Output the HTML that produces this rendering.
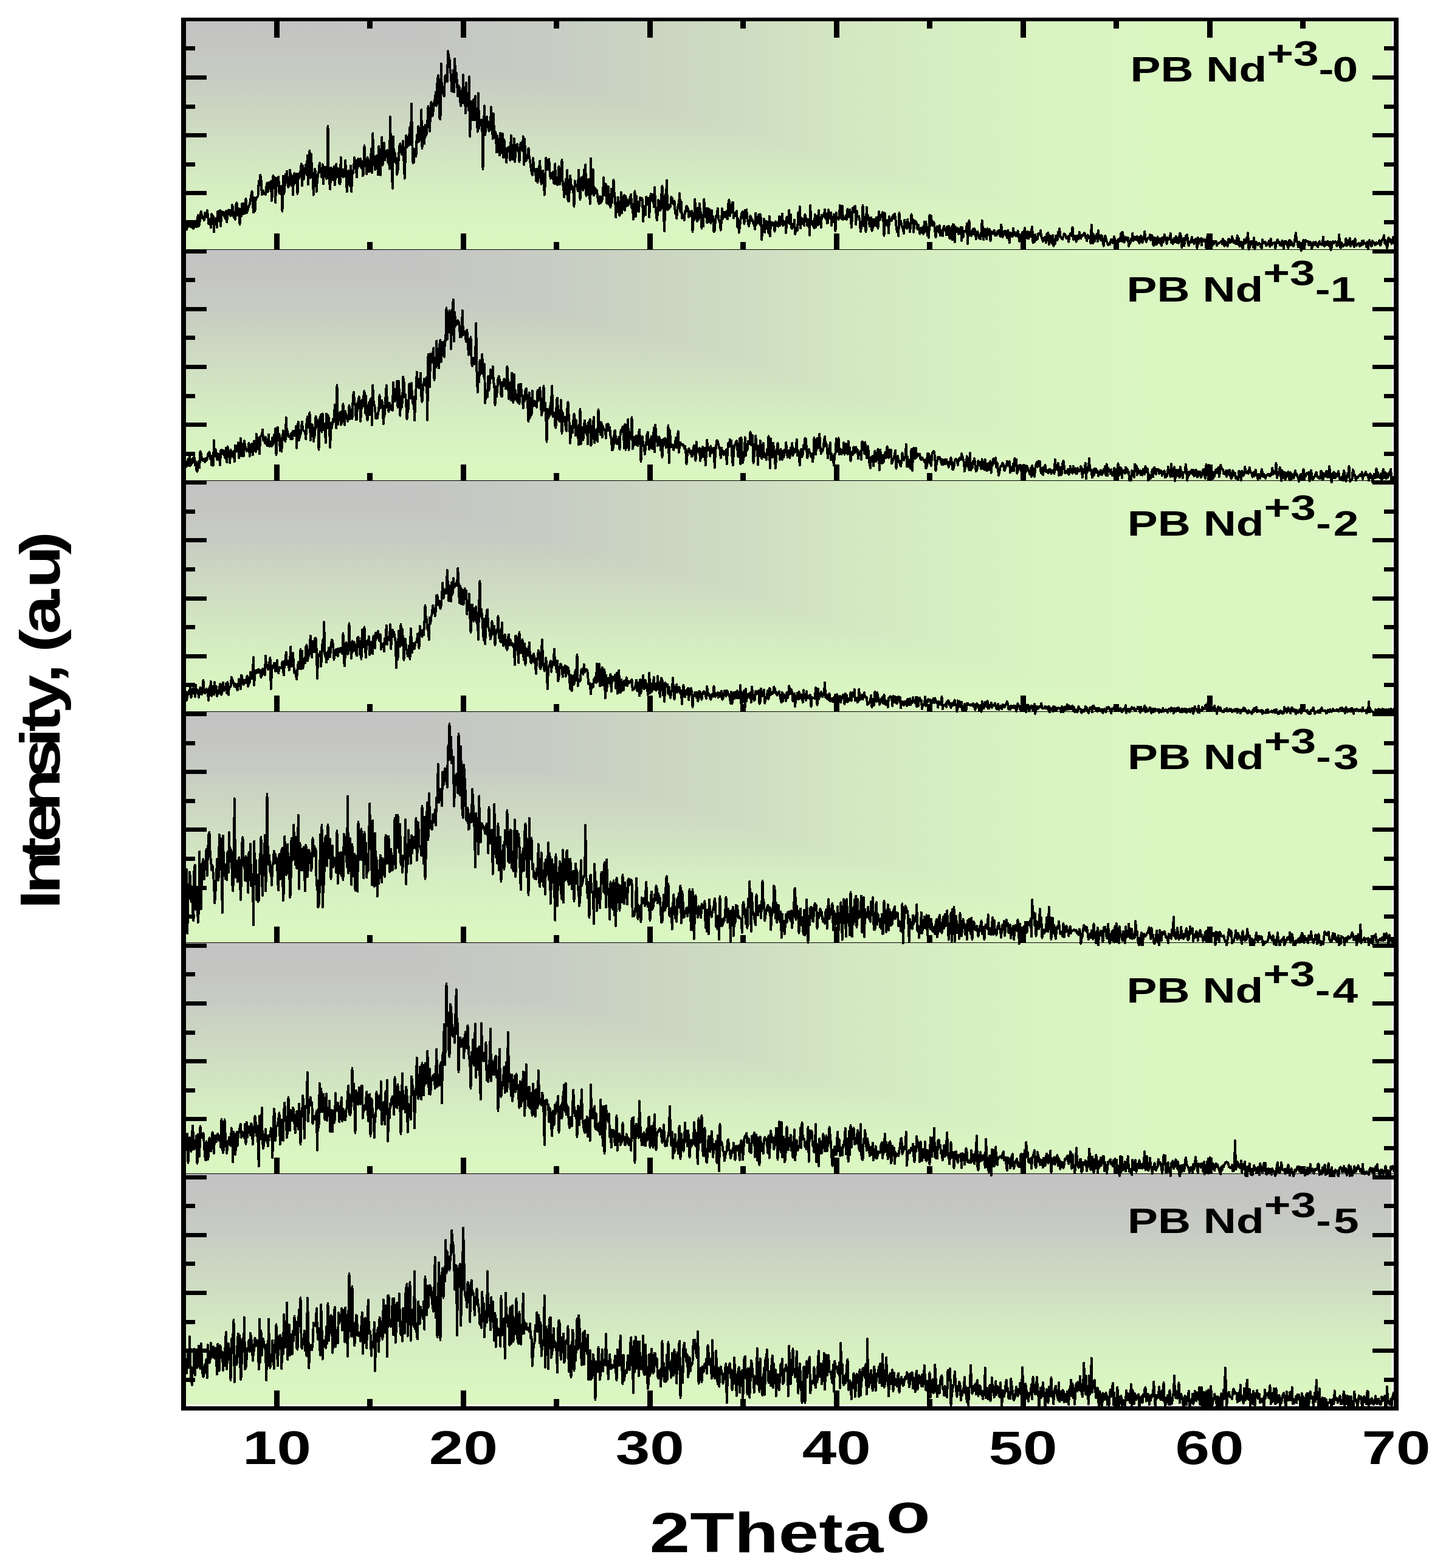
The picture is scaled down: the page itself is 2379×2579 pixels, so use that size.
<!DOCTYPE html>
<html><head><meta charset="utf-8"><title>XRD patterns</title>
<style>html,body{margin:0;padding:0;background:#fff}svg{display:block}text{font-family:"Liberation Sans",sans-serif;font-weight:bold;fill:#000}</style></head><body>
<svg width="2379" height="2579" viewBox="0 0 2379 2579">
<defs>
<linearGradient id="gv" x1="0" y1="0" x2="0" y2="1"><stop offset="0.0200" stop-color="#c3c3c3"/><stop offset="0.0781" stop-color="#c4c4c3"/><stop offset="0.1362" stop-color="#c5c6c3"/><stop offset="0.1944" stop-color="#c6c9c3"/><stop offset="0.2525" stop-color="#c7ccc3"/><stop offset="0.3106" stop-color="#c9d0c2"/><stop offset="0.3688" stop-color="#cbd4c2"/><stop offset="0.4269" stop-color="#cdd8c2"/><stop offset="0.4850" stop-color="#cedcc2"/><stop offset="0.5431" stop-color="#d0e1c2"/><stop offset="0.6012" stop-color="#d2e5c2"/><stop offset="0.6594" stop-color="#d4e9c2"/><stop offset="0.7175" stop-color="#d6edc1"/><stop offset="0.7756" stop-color="#d7f0c1"/><stop offset="0.8337" stop-color="#d8f3c1"/><stop offset="0.8919" stop-color="#d9f5c1"/><stop offset="0.9500" stop-color="#daf6c1"/></linearGradient>
<linearGradient id="gh" gradientUnits="userSpaceOnUse" x1="520" y1="0" x2="1900" y2="0"><stop offset="0.0000" stop-color="#c3c3c3"/><stop offset="0.0625" stop-color="#c3c4c3"/><stop offset="0.1250" stop-color="#c4c5c3"/><stop offset="0.1875" stop-color="#c5c8c3"/><stop offset="0.2500" stop-color="#c7cbc3"/><stop offset="0.3125" stop-color="#c8cfc3"/><stop offset="0.3750" stop-color="#cad3c2"/><stop offset="0.4375" stop-color="#ccd8c2"/><stop offset="0.5000" stop-color="#cedcc2"/><stop offset="0.5625" stop-color="#d1e1c2"/><stop offset="0.6250" stop-color="#d3e6c2"/><stop offset="0.6875" stop-color="#d5eac1"/><stop offset="0.7500" stop-color="#d6eec1"/><stop offset="0.8125" stop-color="#d8f1c1"/><stop offset="0.8750" stop-color="#d9f4c1"/><stop offset="0.9375" stop-color="#daf5c1"/><stop offset="1.0000" stop-color="#daf6c1"/></linearGradient>
</defs>
<rect width="2379" height="2579" fill="#fff"/>
<rect x="298" y="30" width="1991.5" height="380" fill="url(#gv)"/>
<path d="M298 30H2289.5V410H1900L1900 391.0L1866 388.9L1831 383.5L1796 376.3L1762 368.0L1728 359.2L1693 350.1L1658 340.7L1624 331.2L1590 321.7L1555 312.0L1520 302.4L1486 292.6L1452 282.9L1417 273.1L1382 263.3L1348 253.5L1314 243.7L1279 233.9L1244 224.1L1210 214.3L1176 204.5L1141 194.7L1106 184.9L1072 175.1L1038 165.3L1003 155.5L968 145.7L934 136.0L900 126.2L865 116.6L830 106.9L796 97.4L762 87.9L727 78.5L692 69.4L658 60.6L624 52.3L589 45.1L554 39.7L520 37.6H298Z" fill="url(#gh)"/>
<rect x="298" y="410" width="1991.5" height="380" fill="url(#gv)"/>
<path d="M298 410H2289.5V790H1900L1900 771.0L1866 768.9L1831 763.5L1796 756.3L1762 748.0L1728 739.2L1693 730.1L1658 720.7L1624 711.2L1590 701.7L1555 692.0L1520 682.4L1486 672.6L1452 662.9L1417 653.1L1382 643.3L1348 633.5L1314 623.7L1279 613.9L1244 604.1L1210 594.3L1176 584.5L1141 574.7L1106 564.9L1072 555.1L1038 545.3L1003 535.5L968 525.7L934 516.0L900 506.2L865 496.6L830 486.9L796 477.4L762 467.9L727 458.5L692 449.4L658 440.6L624 432.3L589 425.1L554 419.7L520 417.6H298Z" fill="url(#gh)"/>
<rect x="298" y="790" width="1991.5" height="380" fill="url(#gv)"/>
<path d="M298 790H2289.5V1170H1900L1900 1151.0L1866 1148.9L1831 1143.5L1796 1136.3L1762 1128.0L1728 1119.2L1693 1110.1L1658 1100.7L1624 1091.2L1590 1081.7L1555 1072.0L1520 1062.4L1486 1052.6L1452 1042.9L1417 1033.1L1382 1023.3L1348 1013.5L1314 1003.7L1279 993.9L1244 984.1L1210 974.3L1176 964.5L1141 954.7L1106 944.9L1072 935.1L1038 925.3L1003 915.5L968 905.7L934 896.0L900 886.2L865 876.6L830 866.9L796 857.4L762 847.9L727 838.5L692 829.4L658 820.6L624 812.3L589 805.1L554 799.7L520 797.6H298Z" fill="url(#gh)"/>
<rect x="298" y="1170" width="1991.5" height="380" fill="url(#gv)"/>
<path d="M298 1170H2289.5V1550H1900L1900 1531.0L1866 1528.9L1831 1523.5L1796 1516.3L1762 1508.0L1728 1499.2L1693 1490.1L1658 1480.7L1624 1471.2L1590 1461.7L1555 1452.0L1520 1442.4L1486 1432.6L1452 1422.9L1417 1413.1L1382 1403.3L1348 1393.5L1314 1383.7L1279 1373.9L1244 1364.1L1210 1354.3L1176 1344.5L1141 1334.7L1106 1324.9L1072 1315.1L1038 1305.3L1003 1295.5L968 1285.7L934 1276.0L900 1266.2L865 1256.6L830 1246.9L796 1237.4L762 1227.9L727 1218.5L692 1209.4L658 1200.6L624 1192.3L589 1185.1L554 1179.7L520 1177.6H298Z" fill="url(#gh)"/>
<rect x="298" y="1550" width="1991.5" height="380" fill="url(#gv)"/>
<path d="M298 1550H2289.5V1930H1900L1900 1911.0L1866 1908.9L1831 1903.5L1796 1896.3L1762 1888.0L1728 1879.2L1693 1870.1L1658 1860.7L1624 1851.2L1590 1841.7L1555 1832.0L1520 1822.4L1486 1812.6L1452 1802.9L1417 1793.1L1382 1783.3L1348 1773.5L1314 1763.7L1279 1753.9L1244 1744.1L1210 1734.3L1176 1724.5L1141 1714.7L1106 1704.9L1072 1695.1L1038 1685.3L1003 1675.5L968 1665.7L934 1656.0L900 1646.2L865 1636.6L830 1626.9L796 1617.4L762 1607.9L727 1598.5L692 1589.4L658 1580.6L624 1572.3L589 1565.1L554 1559.7L520 1557.6H298Z" fill="url(#gh)"/>
<rect x="298" y="1930" width="1991.5" height="380" fill="url(#gv)"/>
<g fill="none" stroke="#000" stroke-width="3.9" stroke-linejoin="round" stroke-linecap="round" shape-rendering="crispEdges">
<clipPath id="cp0"><rect x="306" y="31" width="1987" height="385"/></clipPath>
<path clip-path="url(#cp0)" d="M302.0 360.0l1.2 13.5 1.3 5.3 1.3-9.4 1.2 8.2 1.2-3.2 1.3-2 1.3-8.8 1.2 6 1.2 3.1 1.3-5 1.3 6.1 1.2-7.3 1.2 9.5 1.3-1.6 1.3-6.4 1.2-4.3 1.2 9.8 1.3-12.4 1.3-6.9 1.2 18 1.2-2.7 1.3-15.3 1.3-6.1 1.2 6.3 1.2 4.8 1.3-1.9 1.3 5.1 1.2-12.1 1.2 4.2 1.3 2.9 1.3-11.2 1.2 7.2 1.2 14.2 1.3 1.1 1.3-8.3 1.2 14.1 1.2-22.6 1.3 2.9 1.3 1 1.2 25.5 1.2-21.7 1.3 4.9 1.3-5.8 1.2 15.2 1.2-26.3 1.3 5.5 1.3 10.6 1.2-17.6 1.2 25.7 1.3-23.7 1.3 4.7 1.2-4.1 1.2 .3 1.3 7.6 1.3 3 1.2-12.6 1.2 18.4 1.3-12.2 1.3-7.6 1.2-.2 1.2 7.9 1.3 1.7 1.3-2.3 1.2-15.4 1.2 5.1 1.3 15.2 1.3 .9 1.2 2.5 1.2-23.4 1.3-4.2 1.3 20.7 1.2-7 1.2-3.8 1.3 25.8 1.3-25.5 1.2 12 1.2-20.8 1.3 17.5 1.3-17.6 1.2 16.7 1.2-1.2 1.3-23.7 1.3 23.5 1.2-2.5 1.2-4.7 1.3-4.5 1.3-2.1 1.2-7.5 1.2-7.6 1.3-6.5 1.3 20.3 1.2 14.5 1.2-24.6 1.3 22.2 1.3-20.2 1.2-1.8 1.2-.1 1.3-2.9 1.3-24.6 1.2 6.6 1.2-16.5 1.3 7.1 1.3 25.6 1.2-3.8 1.2-3 1.3 5.7 1.3-1.9 1.2 2.6 1.2-12.5 1.3-6.6 1.3 15 1.2-6.4 1.2-9.1 1.3 8.8 1.3-10.9 1.2 32.2 1.2-10.7 1.3-31.1 1.3 20.6 1.2-16.9 1.2 41.3 1.3-40.7 1.3 2.9 1.2 9.6 1.2-14.6 1.3 27.6 1.3-12.1 1.2 10.3 1.2-2.2 1.3 33.5 1.3-58.4 1.2 29.5 1.2-4.9 1.3-27.2 1.3 12.2 1.2-17.3 1.2 19.1 1.3 7.1 1.3-4.6 1.2-23.8 1.2 8.9 1.3 17.1 1.3-16.1 1.2 31 1.2-31.3 1.3-4.3 1.3 16.8 1.2-8.1 1.2-7.8 1.3 33.2 1.3-32.7 1.2 7.2 1.2-3.5 1.3-8.7 1.3-11.9 1.2 36.3 1.2-33 1.3 22.9 1.3-18.5 1.2 1.9 1.2-8 1.3 16.7 1.3-32 1.2 47.8 1.2-45.3 1.3-10.1 1.3 44.7 1.2-39 1.2 28 1.3 6.8 1.3 32.2 1.2-30.9 1.2-11.8 1.3 8.1 1.3 29.4 1.2-20.4 1.2-7.7 1.3-5.8 1.3-13.5 1.2 11.3 1.2 3.8 1.3 8.5 1.3-21.4 1.2 32 1.2-20.8 1.3-7 1.3 1.2 1.2 18.1 1.2-4.5 1.3-81.9 1.3 82.4 1.2 8.9 1.2 12.5 1.3-35.4 1.3 15.4 1.2-11.5 1.2 16.7 1.3-22.5 1.3 30.5 1.2-13.5 1.2-21 1.3 21.1 1.3-14.3 1.2 7.7 1.2 17.1 1.3 1.2 1.3-43.7 1.2 28.5 1.2-8.7 1.3 12.3 1.3-12.6 1.2 12 1.2-26.8 1.3 25.8 1.3 25.8 1.2-26 1.2-8.5 1.3 19.4 1.3 5.5 1.2-33.3 1.2 42.8 1.3-28.9 1.3-1.4 1.2-9.6 1.2-16.2 1.3 10.8 1.3 6.8 1.2 14.6 1.2-28 1.3-2.1 1.3 11.6 1.2-5.5 1.2-6.1 1.3 14.7 1.3-10.5 1.2 23.9 1.2-3.6 1.3-46.4 1.3 26.6 1.2 1.7 1.2 18.8 1.3-27.4 1.3 4.1 1.2 19.3 1.2-.8 1.3-7.5 1.3-29.5 1.2 39.2 1.2-64.5 1.3 35.3 1.3 11 1.2 13.3 1.2-18.4 1.3-4.9 1.3 11.6 1.2 20.4 1.2-47.2 1.3 14.7 1.3 32.7 1.2-28.9 1.2-33 1.3 45.8 1.3-24.7 1.2-11.7 1.2 27.9 1.3-13.2 1.3-1.2 1.2-1.6 1.2 20 1.3-11.3 1.3 21.9 1.2-85.6 1.2 56.9 1.3 22.1 1.3 38.7 1.2-85.3 1.2 41.6 1.3-15.8 1.3 10.4 1.2-1 1.2 27.2 1.3-6.4 1.3-19.5 1.2-20.4 1.2-4.3 1.3 8.4 1.3 9.1 1.2-12.3 1.2-9.5 1.3 34.4 1.3 27.2 1.2-40.8 1.2-29.7 1.3 19.3 1.3-16.4 1.2 13.6 1.2-16.7 1.3-14.5 1.3 29.4 1.2-67.3 1.2 62 1.3 35.3 1.3-.5 1.2-12.6 1.2-9.8 1.3 12 1.3-34.8 1.2 11.9 1.2-26.3 1.3 24.9 1.3-9.5 1.2 3.2 1.2-46.1 1.3 63.8 1.3-35.4 1.2 5.3 1.2 22.3 1.3-30.7 1.3 17.3 1.2-4.1 1.2-16.3 1.3-27.6 1.3 25.9 1.2 15.2 1.2-32.9 1.3-15.2 1.3 23 1.2-1 1.2-12.3 1.3-11 1.3-4.7 1.2-10.5 1.2 22.4 1.3-38.6 1.3-11.1 1.2 33.9 1.2 36.3 1.3 1.8 1.3-91.2 1.2 47.3 1.2-2.9 1.3 5.7 1.3 3.2 1.2-31.6 1.2-2.9 1.3 3.1 1.3 7.1 1.2-49.8 1.2 9.6 1.3 2.8 1.3 21.2 1.2 6.4 1.2 26.2 1.3-14.9 1.3-19.7 1.2 35.6 1.2-54.9 1.3 38.6 1.3-15.1 1.2 15.7 1.2 22.9 1.3-17.6 1.3 2.9 1.2 21.4 1.2 8.9 1.3-24.9 1.3 20.5 1.2-46.8 1.2 46.8 1.3-25.9 1.3 42.7 1.2-50.3 1.2 37.9 1.3-20.4 1.3 27.5 1.2-55 1.2 98.5 1.3-38.9 1.3-19.4 1.2 31.3 1.2-27.9 1.3-6.4 1.3 33.7 1.2-38.9 1.2 38.7 1.3-4.7 1.3 24.5 1.2-63.4 1.2 58.3 1.3-14 1.3 2.4 1.2-2.9 1.2 4.6 1.3 76.8 1.3-68.9 1.2-35.6 1.2 47.8 1.3-15.4 1.3-14.2 1.2 17.3 1.2-9.3 1.3 15.4 1.3-1.8 1.2-13 1.2-24.8 1.3 30.6 1.3 21.4 1.2-41.2 1.2 39.7 1.3-10.2 1.3 4.1 1.2 30 1.2-26.8 1.3 12 1.3 11.4 1.2 8.5 1.2-36.6 1.3 33 1.3-29.1 1.2-2.5 1.2 38.7 1.3-29 1.3 15 1.2 12.6 1.2 9.5 1.3-22.7 1.3-1.5 1.2-1 1.2 6.2 1.3 15.7 1.3-41.1 1.2 24.2 1.2 14.9 1.3 0 1.3-33.8 1.2 38 1.2-13.3 1.3-13.7 1.3-1.8 1.2 6 1.2 4.5 1.3 18.5 1.3-27.1 1.2-4.7 1.2 4.8 1.3 8.8 1.3-23.7 1.2 46.7 1.2-42 1.3 35.6 1.3 0 1.2-4.2 1.2-4.8 1.3-11.9 1.3 14.5 1.2 6 1.2 10.5 1.3 7.8 1.3 5.3 1.2-27.9 1.2 14.1 1.3 7.6 1.3-2.5 1.2 18.3 1.2-19.9 1.3 22.7 1.3-20.9 1.2-2.1 1.2-12.6 1.3 30.5 1.3 7.6 1.2-7.2 1.2-14.7 1.3 13.8 1.3 26.1 1.2-19.9 1.2-41.4 1.3 20 1.3-16 1.2 14.9 1.2-16.8 1.3 21.4 1.3 10.7 1.2-8.5 1.2 5.7 1.3-7.8 1.3 17 1.2 2.1 1.2-32.8 1.3 32.9 1.3-1.3 1.2 2.9 1.2-9.3 1.3-20.9 1.3 29.5 1.2-14.4 1.2 8.3 1.3-34 1.3 41.4 1.2 2.2 1.2 17.8 1.3-11.1 1.3-18.5 1.2 24.8 1.2-40.2 1.3 51.3 1.3 .6 1.2-20.4 1.2-22.2 1.3 14.2 1.3 8.3 1.2-4.1 1.2 5.3 1.3 27.2 1.3-42.3 1.2 8.8 1.2-2.5 1.3 4.1 1.3 6.5 1.2-34.7 1.2 26.9 1.3 21.6 1.3-28.9 1.2-7.5 1.2 3.2 1.3 18.1 1.3-33.6 1.2 26.5 1.2-35.2 1.3 51.9 1.3-21.3 1.2 19 1.2-25.3 1.3 11.6 1.3 29 1.2-75.1 1.2 58.5 1.3-40 1.3-.3 1.2 42.9 1.2-6.4 1.3-5.2 1.3 8.2 1.2-5.3 1.2 11.9 1.3 7.1 1.3 3.5 1.2-12.4 1.2 10.9 1.3-1.6 1.3-3.7 1.2-11.7 1.2-24.7 1.3 29.2 1.3-.4 1.2-17.8 1.2 31.6 1.3-10 1.3-17.7 1.2 29.3 1.2-.7 1.3 5.4 1.3-30.3 1.2 22.8 1.2-17.7 1.3-19.9 1.3 25 1.2 3.2 1.2 33.2 1.3-23.7 1.3 15.1 1.2-24.1 1.2 18.1 1.3 12.1 1.3-8.4 1.2-30.1 1.2 34.2 1.3-18.3 1.3-7.5 1.2-3.7 1.2 25 1.3-22.9 1.3 16 1.2-10.4 1.2 9.3 1.3-1.7 1.3-8.3 1.2-4.6 1.2-3.9 1.3 22.9 1.3-3.7 1.2 22 1.2-21.9 1.3-24.5 1.3 41.7 1.2-33.4 1.2 24.6 1.3-15.6 1.3 16.3 1.2-12.4 1.2-10.5 1.3 .9 1.3-.1 1.2 2.7 1.2 35.9 1.3-25.1 1.3 .6 1.2 13.5 1.2-29.6 1.3 3.2 1.3 .7 1.2-2.1 1.2 31.8 1.3-28.2 1.3-10.5 1.2 11.7 1.2-5.1 1.3-5.8 1.3 20.7 1.2-32.3 1.2 27.7 1.3 15.9 1.3 10.6 1.2-10.8 1.2-22.3 1.3 1.4 1.3 16 1.2-1.2 1.2-23.7 1.3-15.9 1.3 23 1.2 27.1 1.2 24.5 1.3-60.8 1.3 8.5 1.2-31.2 1.2 48.4 1.3-8.6 1.3 6.3 1.2-5.9 1.2 2.9 1.3-15.8 1.3 2 1.2 8 1.2 1.7 1.3-5.4 1.3 20.4 1.2 .3 1.2 8.5 1.3-15.4 1.3-7.3 1.2-2.7 1.2-16 1.3 31 1.3-17.8 1.2 27.7 1.2-5.1 1.3 1.2 1.3 7 1.2-14.8 1.2 1 1.3-9.3 1.3 1.5 1.2 3.6 1.2 12.7 1.3-9.3 1.3 7.8 1.2-1.3 1.2-6.9 1.3 33.9 1.3-27.3 1.2 8.3 1.2-34.6 1.3 21.2 1.3 7.5 1.2 7.7 1.2-21.6 1.3 18.8 1.3-26.5 1.2 12.1 1.2 4.3 1.3 24.7 1.3-22.1 1.2 18.8 1.2-44.5 1.3 15.4 1.3 13.5 1.2-13.9 1.2 23.7 1.3-24 1.3 22.9 1.2-21.5 1.2 5.7 1.3 17.8 1.3-21.2 1.2 14.1 1.2-4.1 1.3 25.1 1.3-2.6 1.2-16.2 1.2-7.8 1.3 2.2 1.3-14.4 1.2 17.6 1.2 3 1.3 4 1.3 11.6 1.2-16.9 1.2-18.8 1.3 16.6 1.3-9.2 1.2-1.9 1.2 .3 1.3 8.9 1.3-10.3 1.2 13.1 1.2-24.9 1.3-6.7 1.3 25.9 1.2-16 1.2 10.9 1.3-15.5 1.3-1.3 1.2 25.8 1.2-8.7 1.3 5.2 1.3 0 1.2-8.1 1.2 25.7 1.3-13.4 1.3 23.3 1.2-9.3 1.2-10.2 1.3-7.9 1.3-6.3 1.2-1.2 1.2 10.3 1.3 10 1.3-22.5 1.2 12.3 1.2-13.2 1.3 16 1.3 5.5 1.2 5.7 1.2-7.3 1.3-9.8 1.3 3.5 1.2 5.1 1.2-1.9 1.3 6.6 1.3-.4 1.2 9.3 1.2-26 1.3 18.8 1.3-13.3 1.2 8.2 1.2-11.5 1.3 15.5 1.3-16.4 1.2 7.2 1.2 34.8 1.3-18.4 1.3 3.7 1.2-19.6 1.2 22.2 1.3-16.2 1.3-2.4 1.2 12.1 1.2-4.3 1.3 12.2 1.3-27.6 1.2 32.3 1.2-23.1 1.3 6.3 1.3-6 1.2 4.2 1.2-2.6 1.3 13.5 1.3-16.2 1.2 1.5 1.2 5.1 1.3-1.9 1.3 3.5 1.2-16.5 1.2 14.6 1.3-3 1.3-7.9 1.2-8.4 1.2 19.4 1.3-3.5 1.3 .6 1.2-3.6 1.2 18.5 1.3-26.3 1.3 10.8 1.2-4.9 1.2-16.7 1.3 22.7 1.3-15.3 1.2 22.1 1.2 .5 1.3-4.9 1.3 1.4 1.2-10.6 1.2 24 1.3-9.8 1.3 2 1.2 1.3 1.2-28.9 1.3 18.6 1.3-28.8 1.2 35.3 1.2-17.1 1.3 9.6 1.3-8.1 1.2 8.8 1.2 2.8 1.3-18.6 1.3 5.7 1.2 2.2 1.2 11 1.3-10.6 1.3 .4 1.2 25.4 1.2-48.8 1.3 30.6 1.3-5.3 1.2 6.8 1.2 1.6 1.3 3.3 1.3-22.2 1.2 21 1.2-7.3 1.3-11.2 1.3 14.8 1.2-24.1 1.2 21.6 1.3-8.5 1.3 15.1 1.2-20.6 1.2 2.4 1.3 .5 1.3-.8 1.2-11 1.2 14.4 1.3-7.9 1.3 16.1 1.2-.8 1.2-21.5 1.3 13.1 1.3 1.2 1.2-9.7 1.2 21.4 1.3-14 1.3 4.3 1.2-8.9 1.2 10.7 1.3 16.9 1.3-30.1 1.2 9.3 1.2-.6 1.3 2.4 1.3-6.1 1.2-17.1 1.2 6.8 1.3 15.4 1.3-21.6 1.2 22.9 1.2-3.9 1.3 1.2 1.3 1.9 1.2-6.3 1.2 6.8 1.3-17.4 1.3 13.3 1.2-1.2 1.2-10.8 1.3 8 1.3 21.3 1.2-13.9 1.2-18.9 1.3 2.1 1.3-3.6 1.2-.9 1.2 30.6 1.3-23.1 1.3 10.7 1.2-1.2 1.2-.1 1.3 7.3 1.3 17.6 1.2-5.7 1.2-5.9 1.3-31.2 1.3 21.5 1.2 12.5 1.2-15.7 1.3 25.2 1.3-40.5 1.2 20.6 1.2-7.2 1.3 7.6 1.3 10.3 1.2-9.3 1.2-5.5 1.3 22.3 1.3-5.5 1.2-13.7 1.2 10.7 1.3-10.2 1.3 10.1 1.2-13.7 1.2 7.5 1.3 10.7 1.3-27.5 1.2 13.4 1.2 0 1.3-8.2 1.3 1.5 1.2-6.1 1.2 10.6 1.3 28.3 1.3-37.4 1.2 15.3 1.2 4.9 1.3-6.2 1.3-2.2 1.2 21.5 1.2-27.4 1.3 7.1 1.3-2.7 1.2 2.1 1.2-5.3 1.3-3.3 1.3 5.2 1.2-7.6 1.2 7.1 1.3 13.4 1.3 9.1 1.2-2.8 1.2 9.8 1.3-38.5 1.3 18.9 1.2-5.1 1.2 6 1.3 4.7 1.3 2.8 1.2 6.8 1.2-22 1.3 7.1 1.3 5.1 1.2 2.1 1.2-15.5 1.3 13.3 1.3-6.5 1.2 14.1 1.2-9.8 1.3-19.5 1.3 13 1.2-4.2 1.2 20.9 1.3-19.5 1.3 3 1.2-1 1.2 3.6 1.3 9 1.3-7 1.2 5.9 1.2 8.6 1.3-9.3 1.3-.4 1.2 8.3 1.2-9.6 1.3 11.3 1.3-20.5 1.2 16.2 1.2-15.7 1.3 6.9 1.3 15.5 1.2-11.4 1.2 15 1.3-37.4 1.3 17.7 1.2-16.1 1.2 13 1.3 2.8 1.3-5.9 1.2 2.1 1.2 13.2 1.3 9.9 1.3-12.7 1.2-5.1 1.2 6.6 1.3 3.1 1.3-11.6 1.2 17.1 1.2-3.2 1.3-5.7 1.3 9.2 1.2-12.5 1.2-3.6 1.3 6.7 1.3-2.3 1.2 10.4 1.2-13.6 1.3 13.3 1.3-14.6 1.2 19.5 1.2 1.3 1.3-13.9 1.3-5.6 1.2 21.5 1.2-25.5 1.3 .9 1.3 28.3 1.2-24.9 1.2 8 1.3-5.1 1.3-.8 1.2 9.8 1.2-4.8 1.3-1.2 1.3-5.5 1.2 22.2 1.2-21.8 1.3 16.3 1.3-8.9 1.2-2 1.2 1.8 1.3-.1 1.3-13.6 1.2 33.2 1.2-23.3 1.3-14.6 1.3 23.6 1.2-5.9 1.2 7.4 1.3-8 1.3-3.3 1.2 8.9 1.2-9.6 1.3 3.4 1.3 13.6 1.2-5.9 1.2-6.2 1.3 4.5 1.3 6.2 1.2-3.1 1.2 4.9 1.3-11.3 1.3-19.4 1.2 14.6 1.2 17 1.3-12 1.3-5.8 1.2 2.3 1.2 14.5 1.3-17.2 1.3 3.9 1.2 6.5 1.2-9.4 1.3 19.4 1.3-11.2 1.2-4.6 1.2 3.1 1.3 0 1.3-5.2 1.2 8.5 1.2 .1 1.3 .2 1.3-6.9 1.2 3.9 1.2-5.5 1.3 7.1 1.3 3 1.2-19.6 1.2 6 1.3 14.5 1.3-5 1.2-2.9 1.2-2.3 1.3 7.7 1.3-6 1.2 10 1.2-12.7 1.3 5.9 1.3 14.8 1.2-16.9 1.2 5.6 1.3 .2 1.3 1 1.2-13.8 1.2 10.7 1.3-4.3 1.3 5.9 1.2-1.5 1.2 1.4 1.3-7.6 1.3 5.1 1.2 11.9 1.2-6.8 1.3-4.4 1.3 8.5 1.2-12.4 1.2 14.3 1.3-10 1.3-11.2 1.2 7.6 1.2 4.8 1.3 4.1 1.3-11 1.2 12 1.2-3.3 1.3-7.4 1.3 7.5 1.2-10.8 1.2-5.4 1.3 25.9 1.3-6.4 1.2 5.2 1.2-12.5 1.3 9.3 1.3-.7 1.2-1.5 1.2-8.2 1.3 .9 1.3-.1 1.2-5.9 1.2 9.4 1.3 3.9 1.3 4.8 1.2-4.9 1.2 2.1 1.3-5 1.3 9.7 1.2-13.9 1.2-.4 1.3-2.1 1.3 19.6 1.2-10.4 1.2-3.8 1.3 9.4 1.3 2.6 1.2-13.1 1.2 17.6 1.3-11.1 1.3 8 1.2-14 1.2 .1 1.3 7.7 1.3-13.5 1.2 3.3 1.2-9 1.3 13.9 1.3-.6 1.2 2.9 1.2 1.2 1.3-5 1.3-4.2 1.2 1.2 1.2 2.5 1.3 4 1.3-2 1.2-.8 1.2 8.4 1.3-9.1 1.3-4.4 1.2 .5 1.2 3.1 1.3-14.3 1.3 20.3 1.2-6.3 1.2 .3 1.3 4.5 1.3 5.4 1.2-9.4 1.2 2.6 1.3 2.2 1.3-11.1 1.2 6 1.2 4.4 1.3-5.6 1.3 1.4 1.2-2 1.2-2.7 1.3-.2 1.3 7.6 1.2-1.3 1.2 6.6 1.3-9.9 1.3 1.8 1.2 1.7 1.2 1 1.3 9.4 1.3-30.5 1.2 19.5 1.2 10.6 1.3-13.7 1.3 11.1 1.2-5.4 1.2-1.3 1.3-5.5 1.3 12.5 1.2-18.2 1.2 11.4 1.3-1.6 1.3 5.8 1.2-8 1.2 1.5 1.3 9.8 1.3 6.5 1.2-10.4 1.2-6.7 1.3 4.3 1.3 5 1.2 3.7 1.2 2.4 1.3-2.5 1.3 1.6 1.2-4.4 1.2-4.1 1.3 2.9 1.3 3.1 1.2-4.7 1.2-5.9 1.3 8.9 1.3 5.8 1.2-7.4 1.2 5 1.3-7.5 1.3-.4 1.2 3.6 1.2-4.5 1.3-9.3 1.3 13.6 1.2-15 1.2 9.7 1.3 7.3 1.3-7.1 1.2-1.8 1.2 3.7 1.3 1.4 1.3-4.3 1.2 14.4 1.2-5.6 1.3 .7 1.3-7.7 1.2 2.9 1.2-11.8 1.3 12.8 1.3-7 1.2 .2 1.2 4.6 1.3-2 1.3-3.2 1.2 6.9 1.2-5.1 1.3 9.4 1.3-10 1.2-2.3 1.2 4.9 1.3 6.2 1.3-8 1.2 .5 1.2-11 1.3 14.6 1.3 2.6 1.2-3.6 1.2-1.9 1.3-1.5 1.3 1.7 1.2-6.2 1.2 8.7 1.3-8.3 1.3 2.4 1.2 12.3 1.2 2.4 1.3-13.2 1.3 .9 1.2 11.2 1.2-1.5 1.3-11.8 1.3 10.1 1.2 0 1.2-7 1.3 5.8 1.3 5.7 1.2-13 1.2 8.1 1.3-2.7 1.3-10.6 1.2 8.6 1.2-3.7 1.3 10.5 1.3-9.9 1.2 2.5 1.2 .4 1.3-1.7 1.3-8.8 1.2 15.4 1.2-3.7 1.3 5.7 1.3-8.6 1.2 4.7 1.2 1 1.3-9.3 1.3 1.8 1.2 8.8 1.2 .2 1.3 .1 1.3-15.6 1.2-.4 1.2 8.3 1.3 15 1.3-11 1.2-3.9 1.2 12.3 1.3-8.3 1.3-7.8 1.2 5.3 1.2-7.5 1.3 13.2 1.3 5.1 1.2-5.5 1.2-2 1.3 1.8 1.3-8.5 1.2 8.1 1.2-3.6 1.3 6.5 1.3-6.4 1.2-2 1.2 .1 1.3 15.2 1.3-17.3 1.2 10.2 1.2-7.3 1.3 .3 1.3-1.7 1.2 11.2 1.2-11 1.3 3.7 1.3 .7 1.2-2.6 1.2 1.4 1.3 12.3 1.3-13.3 1.2-9.2 1.2 7.2 1.3 12 1.3-4.7 1.2-6 1.2-1.7 1.3 12.4 1.3-7.9 1.2 4.6 1.2-4.7 1.3 .8 1.3-.6 1.2 7.2 1.2-2.8 1.3-.9 1.3-.4 1.2-1.3 1.2-.9 1.3-1.3 1.3 4.8 1.2-8.5 1.2 3.7 1.3 8.3 1.3-8 1.2 1 1.2 2.9 1.3 4.3 1.3-11.2 1.2-.6 1.2 6.1 1.3-4.2 1.3 3.2 1.2-9.1 1.2 4.3 1.3 6 1.3-3.6 1.2 .1 1.2 5.2 1.3-2 1.3-11.8 1.2 14.7 1.2-9.7 1.3 12.9 1.3-4.2 1.2-3.6 1.2 7.8 1.3 3.6 1.3-6.9 1.2-8.1 1.2 5.9 1.3 .1 1.3-8.5 1.2 2.2 1.2-10.4 1.3 26.8 1.3-2.8 1.2-3.9 1.2-6.8 1.3 .8 1.3-.2 1.2 9.7 1.2-15.7 1.3 18.5 1.3-10.4 1.2-1.3 1.2 4.2 1.3 .8 1.3-2.5 1.2-.2 1.2 1.8 1.3 5 1.3 .7 1.2-13.7 1.2 4.8 1.3 1.1 1.3-1.8 1.2-.2 1.2 6.6 1.3-3.2 1.3 .8 1.2-3.9 1.2-2.3 1.3 9.9 1.3-13.2 1.2 10.8 1.2-1.6 1.3-2.2 1.3 0 1.2-1.1 1.2 9.6 1.3-5.5 1.3-7.6 1.2-.7 1.2 5 1.3-1.6 1.3 5.8 1.2-3.6 1.2 4.6 1.3-8.5 1.3 6.8 1.2 5.8 1.2-11.6 1.3 4.3 1.3-4.6 1.2 1.6 1.2 5.7 1.3 4 1.3-12.3 1.2-.5 1.2 8.3 1.3-6.3 1.3 5 1.2 1.2 1.2 1.6 1.3-5.8 1.3-8.5 1.2-7.5 1.2 12.8 1.3 2.3 1.3 7.7 1.2-8.5 1.2 1.5 1.3 9.4 1.3 3.7 1.2-6.6 1.2-.9 1.3-9.7 1.3 11 1.2-3.3 1.2-7.4 1.3 2.1 1.3-.3 1.2 .3 1.2 5.8 1.3-4.4 1.3-.7 1.2 4.3 1.2 6.6 1.3-5.7 1.3-4.9 1.2 4.6 1.2-1.1 1.3-3.9 1.3 5.9 1.2-2.7 1.2 5.2 1.3-6.7 1.3-2.6 1.2 3.9 1.2 1.5 1.3 .3 1.3-1.7 1.2-11.6 1.2 15.2 1.3 .1 1.3-6.5 1.2 5.1 1.2-4 1.3-2.7 1.3 7.2 1.2 1.3 1.2-7.5 1.3 13.9 1.3-4.8 1.2-8.2 1.2-1.2 1.3 2.6 1.3-1.8 1.2-.7 1.2 .9 1.3 6.3 1.3-5.6 1.2 2.2 1.2-15.3 1.3 19.4 1.3 2.4 1.2-8.7 1.2 3.7 1.3 2.5 1.3-2 1.2-1.2 1.2 .8 1.3-10.6 1.3 11.9 1.2-1.9 1.2-6.9 1.3 6.9 1.3-10.6 1.2 13.3 1.2-4.8 1.3-2.9 1.3-.2 1.2 7.1 1.2 1.8 1.3-13.2 1.3 9.2 1.2 2.1 1.2-2.5 1.3-.7 1.3-.8 1.2 5 1.2-1.8 1.3 .4 1.3-7.3 1.2 6.2 1.2-6.9 1.3 4.4 1.3-.5 1.2 1.4 1.2 4.8 1.3-8.2 1.3 12.2 1.2-12.5 1.2-2.2 1.3 6.8 1.3 2.9 1.2-.1 1.2-8.6 1.3 3.7 1.3-.8 1.2 3.9 1.2-.3 1.3-3.5 1.3 1.8 1.2-1.3 1.2 1.1 1.3-5.3 1.3 8.3 1.2-2.4 1.2-5.6 1.3-1.6 1.3-2.4 1.2-4.7 1.2 13.8 1.3-6.2 1.3 6.4 1.2 7 1.2-4.9 1.3-12.3 1.3 6.9 1.2-.1 1.2-3.5 1.3 7.2 1.3-4 1.2-7.1 1.2 10.1 1.3-12.7 1.3 14.9 1.2 .2"/>
<clipPath id="cp1"><rect x="306" y="411" width="1987" height="385"/></clipPath>
<path clip-path="url(#cp1)" d="M302.0 781.1l1.2-13.3 1.3 1.9 1.3-3.3 1.2 .8 1.2-7.6 1.3-4.4 1.3 10.6 1.2-20.2 1.2 20.5 1.3-2 1.3-8.9 1.2 5.6 1.2-7.7 1.3-1.7 1.3 14.2 1.2-6.3 1.2 13.5 1.3 2.9 1.3-13.7 1.2-3.3 1.2 10.5 1.3-27 1.3 3.9 1.2 7.7 1.2 3.8 1.3-2.2 1.3-.2 1.2 4.6 1.2-6.3 1.3 4.2 1.3-2.8 1.2-7.1 1.2-2.4 1.3-2 1.3 11.3 1.2-5.3 1.2 16.1 1.3-13.9 1.3 14.1 1.2-41.4 1.2 25.9 1.3-11.4 1.3 9.2 1.2 8.2 1.2-10.1 1.3 .8 1.3 5.4 1.2 12.5 1.2-23.6 1.3-1.5 1.3 3.2 1.2 4 1.2-5.6 1.3 8.6 1.3 3.8 1.2-17 1.2 23.7 1.3-26.1 1.3 14.9 1.2-2.2 1.2 14.5 1.3-21.7 1.3 5.1 1.2 3.7 1.2 2.9 1.3-9.6 1.3 17.1 1.2-26.3 1.2 2.1 1.3 8 1.3-8.4 1.2-6.1 1.2 25.3 1.3-4.9 1.3-28.1 1.2 28 1.2 1.5 1.3-20.4 1.3 20.9 1.2-25.3 1.2 8.6 1.3 2.7 1.3 5.6 1.2-1.1 1.2-1.9 1.3-10.3 1.3 21.8 1.2-8.5 1.2-11.6 1.3-.7 1.3 18.1 1.2-7.6 1.2-15.1 1.3 4.4 1.3 13.1 1.2-29.1 1.2 10.1 1.3 14.8 1.3-19.2 1.2 27 1.2-26.9 1.3-3.1 1.3 .1 1.2-10.1 1.2 18.2 1.3-4 1.3 8.2 1.2-9.5 1.2 10.1 1.3 3.5 1.3-3.3 1.2-14.9 1.2 19.5 1.3-7.9 1.3 6.4 1.2 1.1 1.2-14.4 1.3 11.6 1.3-15.8 1.2 12.9 1.2-23.3 1.3 43.5 1.3-27.3 1.2-18.2 1.2 20.6 1.3-9.5 1.3 27.5 1.2-20.6 1.2 21.9 1.3-17 1.3-17.3 1.2 12.2 1.2-1 1.3 6.4 1.3-39.6 1.2 26.9 1.2-3.9 1.3 8.6 1.3-.7 1.2 1.1 1.2 3.5 1.3-9.7 1.3 10.3 1.2-13.2 1.2-.6 1.3 8 1.3-1.9 1.2-13.5 1.2 35.7 1.3-36.3 1.3-6.6 1.2 29.8 1.2-7.2 1.3-1.8 1.3-12 1.2-9.2 1.2 13.2 1.3 1.7 1.3 .4 1.2 .6 1.2 13 1.3-27.5 1.3-9.8 1.2 17.5 1.2-15.4 1.3-9 1.3 45.9 1.2-16.2 1.2-9.9 1.3 2.5 1.3 25.1 1.2-7.6 1.2-3.1 1.3-30.3 1.3 6 1.2 10.9 1.2-10.2 1.3 48.2 1.3-50.3 1.2-3.5 1.2-4.4 1.3 29.3 1.3-30.5 1.2 27.4 1.2-4.3 1.3-6.4 1.3 31.6 1.2-48.2 1.2 24.1 1.3-21.8 1.3 4.9 1.2 18.7 1.2 29.6 1.3-40.4 1.3 8.3 1.2-8.2 1.2-6.9 1.3 5.2 1.3-28 1.2 22.3 1.2 16.1 1.3-70.9 1.3 64.8 1.2-7.6 1.2-.5 1.3-12.6 1.3 21.2 1.2-1.5 1.2-19.1 1.3-13.7 1.3 24.6 1.2 9.9 1.2-22.6 1.3 8.5 1.3 1.3 1.2 6.8 1.2-6.7 1.3-19.2 1.3 22.5 1.2-15.4 1.2 3.8 1.3 10.7 1.3-36.1 1.2-7.2 1.2 16.1 1.3 6 1.3 23 1.2-.6 1.2-27.1 1.3-3.3 1.3-7.1 1.2 8.4 1.2 32.1 1.3-19.2 1.3-16 1.2 11.1 1.2-16.3 1.3-9.3 1.3 36.2 1.2-28.4 1.2 30.6 1.3 9.6 1.3-8.8 1.2-20 1.2 20.2 1.3-26 1.3-1.1 1.2 43.8 1.2-65.8 1.3 25.4 1.3 7.5 1.2 4.7 1.2 16.8 1.3-7.2 1.3 7.7 1.2-8.1 1.2-6.7 1.3-23.4 1.3 21.1 1.2-12.4 1.2-.2 1.3 5.7 1.3 32.7 1.2-15.5 1.2 .1 1.3-29.9 1.3-18.3 1.2 29.6 1.2 6.8 1.3 7.2 1.3-14.1 1.2 3.3 1.2 7.4 1.3-4 1.3 5.2 1.2-45.8 1.2 19.6 1.3 11.4 1.3-12.6 1.2-1.5 1.2-19.3 1.3 43.3 1.3-43 1.2 19.3 1.2 37.5 1.3-31.9 1.3 18.6 1.2-9.6 1.2-41 1.3 7 1.3 26.8 1.2-4.6 1.2 16 1.3 24.5 1.3-13.3 1.2-3.9 1.2-41 1.3 24.2 1.3-7.3 1.2-18.1 1.2 24.7 1.3 9.2 1.3-11 1.2 38.5 1.2-25.9 1.3-26.9 1.3-27 1.2 17.1 1.2 8 1.3 1.2 1.3-7.2 1.2-17.3 1.2 36.9 1.3 10.5 1.3-21.7 1.2-7.4 1.2-8.8 1.3 10.8 1.3 .1 1.2-13.5 1.2 70.6 1.3-108.2 1.3 33.8 1.2 19.7 1.2-54.3 1.3 5.1 1.3 8.8 1.2-14.1 1.2-9.4 1.3 52.6 1.3-22.7 1.2 2.1 1.2-43.5 1.3 39.7 1.3-.5 1.2 5.5 1.2-39 1.3-7.3 1.3 35.8 1.2-13.8 1.2-18.7 1.3 12.4 1.3 11.9 1.2-26.2 1.2 .2 1.3-54.7 1.3 52.4 1.2-16.2 1.2 1.2 1.3-32.7 1.3 7 1.2 56.1 1.2-48.1 1.3-18.1 1.3-15.1 1.2 69 1.2-47.7 1.3 21.8 1.3-2.6 1.2 .3 1.2-6.4 1.3 2.1 1.3 7.2 1.2 18.1 1.2-9.4 1.3 8.5 1.3-43.1 1.2 40.6 1.2-4.9 1.3-1 1.3 9.5 1.2 7.5 1.2-19.5 1.3 12 1.3 29 1.2-25.1 1.2 16.7 1.3-21 1.3 43.5 1.2 4.3 1.2-13.4 1.3 1.3 1.3 8.6 1.2-5.6 1.2-61.4 1.3 82.9 1.3 30.5 1.2-31.8 1.2 15.1 1.3-35.2 1.3 17.3 1.2 3.8 1.2-31.3 1.3 25.9 1.3 9.5 1.2-19.4 1.2 63.9 1.3-17.8 1.3-1.8 1.2 10 1.2-34.3 1.3 23 1.3-11.6 1.2-22.4 1.2 5.3 1.3 9 1.3-19.5 1.2 26.8 1.2 1.5 1.3 35.5 1.3-30.3 1.2 16.3 1.2-11.7 1.3-18 1.3-3.8 1.2 6.1 1.2 3.7 1.3 22.2 1.3 1.4 1.2-23.7 1.2 2.4 1.3-7.8 1.3 9.1 1.2 7.1 1.2-11.8 1.3-25.2 1.3 24.5 1.2 29.1 1.2-15.8 1.3-11.1 1.3 29.3 1.2-45.1 1.2 24.1 1.3 25 1.3-46.5 1.2 37.6 1.2-11.1 1.3 16.3 1.3-3.2 1.2 6.1 1.2-29.4 1.3 31.8 1.3-28.2 1.2-4.3 1.2 19.2 1.3 .1 1.3 20.4 1.2-20.4 1.2 8.7 1.3-18.1 1.3-2.2 1.2 13.3 1.2 14.4 1.3 26.3 1.3-47.9 1.2 41.4 1.2-28.9 1.3 24.9 1.3-40.2 1.2 25.3 1.2-.7 1.3-7.8 1.3 3.2 1.2 4.6 1.2 2.6 1.3-27.7 1.3 9.7 1.2 6 1.2-20.2 1.3 14.9 1.3 30.3 1.2-5.4 1.2-16.5 1.3-25.9 1.3 40 1.2-12.3 1.2 22.2 1.3 41.8 1.3-54.3 1.2 15.6 1.2-5.6 1.3 .9 1.3-21.2 1.2-1 1.2-26.1 1.3 50.1 1.3-4.7 1.2-1.1 1.2 20.7 1.3 3.7 1.3-46 1.2-3 1.2 23.4 1.3 12.8 1.3 2.5 1.2-10.9 1.2-24.5 1.3 54.9 1.3-34.2 1.2 14.9 1.2-3.8 1.3-4 1.3 20.2 1.2 2.8 1.2-34.6 1.3-13 1.3 24 1.2 14.2 1.2 29.4 1.3-27.7 1.3 11 1.2-.7 1.2-18.7 1.3-11.9 1.3 9 1.2 26.6 1.2-24.6 1.3 25 1.3-5.6 1.2 20.1 1.2-28.3 1.3-30.2 1.3 57.5 1.2-25.7 1.2-1.8 1.3 20.8 1.3-23.1 1.2-9.1 1.2 9.7 1.3 12.5 1.3-12.4 1.2 29.1 1.2-36 1.3 2.8 1.3-7.4 1.2 43 1.2-2.1 1.3-26 1.3-7.3 1.2-11.3 1.2 42.1 1.3-10.3 1.3 .5 1.2-12.8 1.2 20.7 1.3-52.3 1.3 22 1.2 4 1.2 15.4 1.3-20.6 1.3 24.6 1.2-18.6 1.2 6.3 1.3-.4 1.3 3 1.2 11.1 1.2-23.2 1.3 8.6 1.3-8.8 1.2 11.3 1.2-6 1.3 14.7 1.3 4.1 1.2 18.9 1.2-.6 1.3-6.6 1.3-23.6 1.2-1.5 1.2 16.5 1.3 5 1.3 1 1.2-7.1 1.2-4.4 1.3 20.3 1.3-27.9 1.2-4.5 1.2 2.8 1.3-8 1.3 7.8 1.2 28.2 1.2-39.6 1.3 41.8 1.3-40.6 1.2 32.4 1.2-42.3 1.3 50.8 1.3-29.8 1.2 11 1.2-3.2 1.3-31.8 1.3 51.9 1.2-5.7 1.2-13.6 1.3 6.5 1.3 6 1.2-15.1 1.2 14.2 1.3 2.6 1.3-20 1.2-6.6 1.2 18.2 1.3 34.3 1.3-32.9 1.2-8.3 1.2 15.6 1.3-.9 1.3 14.5 1.2-10 1.2-8.4 1.3-13.5 1.3-4.6 1.2 18.8 1.2 9.7 1.3-4.9 1.3-12 1.2-4.8 1.2 20.7 1.3-10.5 1.3-24 1.2 39.8 1.2-44.4 1.3 17.3 1.3 4.7 1.2 12.2 1.2-13.3 1.3-1.5 1.3 8 1.2 14.2 1.2-17.2 1.3 29 1.3-21.4 1.2-8.8 1.2 1.1 1.3-2.6 1.3 15.9 1.2-11 1.2 1.8 1.3-27.5 1.3 61.4 1.2-53.5 1.2 18.5 1.3 8.8 1.3-.6 1.2-3 1.2 8.6 1.3-5.6 1.3-5 1.2-9.5 1.2 16.2 1.3-16.3 1.3-10.6 1.2 34.9 1.2-14 1.3-2.3 1.3 3.6 1.2 .9 1.2-1.8 1.3 1.8 1.3 5.2 1.2-4.1 1.2 7.9 1.3 21.7 1.3-15.9 1.2-5.6 1.2-4 1.3 3.4 1.3 5 1.2-3.7 1.2 8.6 1.3-.9 1.3-14.4 1.2-2.9 1.2 11.3 1.3 13.7 1.3-31.1 1.2 17.6 1.2-5.5 1.3-.8 1.3-.6 1.2 20.5 1.2-5.3 1.3-10.1 1.3-7.3 1.2 16.5 1.2-6.2 1.3-8.7 1.3 28.9 1.2-20.6 1.2-21.5 1.3 17.2 1.3-1.4 1.2-3.1 1.2 14.2 1.3-16.3 1.3 11.1 1.2-7 1.2-.2 1.3-1.1 1.3 32.2 1.2-25.7 1.2-10.5 1.3-8.7 1.3 1.4 1.2 5.4 1.2 5.6 1.3 3 1.3 13.9 1.2-17.1 1.2 9.4 1.3-4.5 1.3 7 1.2-1.2 1.2-5.3 1.3-1.6 1.3 22.8 1.2-20.6 1.2-13.8 1.3 6.1 1.3-12 1.2 11.2 1.2-9.1 1.3 27.3 1.3 13.3 1.2-21.6 1.2-11.5 1.3 .2 1.3-5.9 1.2-1.3 1.2 12.4 1.3 13.8 1.3-15.5 1.2-15 1.2 42.3 1.3-43.6 1.3 27.3 1.2 14.2 1.2-7.7 1.3-4.4 1.3-29.8 1.2 30.3 1.2-16.4 1.3 7.6 1.3-15.2 1.2 2.2 1.2 2.7 1.3-20.3 1.3 21.7 1.2-5 1.2-10.7 1.3 45.4 1.3-12.2 1.2-12.9 1.2-19.7 1.3 14.2 1.3 3.2 1.2 30.4 1.2-31.2 1.3 16.7 1.3-25.3 1.2 14.7 1.2 14.8 1.3-17.4 1.3-8.4 1.2 23.3 1.2-1.6 1.3-3 1.3 8.9 1.2-16.8 1.2 9.1 1.3-31.2 1.3 24.7 1.2 28.1 1.2-48 1.3 16.7 1.3 13.8 1.2-24.1 1.2 9.3 1.3 8.6 1.3 24 1.2-14.9 1.2-16.1 1.3-10.8 1.3 12.5 1.2 4 1.2 11 1.3-17.1 1.3 14.2 1.2 2.6 1.2-14.1 1.3 10.4 1.3-12 1.2 4 1.2-16.2 1.3 16.1 1.3 8.3 1.2-3 1.2-8.7 1.3 12.8 1.3-16.6 1.2 3.6 1.2-11.8 1.3 20.9 1.3-11.6 1.2 6.7 1.2-.5 1.3-2.2 1.3-19.2 1.2 26.7 1.2-8.7 1.3 6.4 1.3 18.6 1.2-18.5 1.2-8.6 1.3 12.9 1.3-4.3 1.2-15.1 1.2 6.8 1.3-17.8 1.3 1 1.2 15.8 1.2 15.4 1.3-6.8 1.3-7.2 1.2 4.2 1.2 2.1 1.3 5.4 1.3-4.1 1.2 12.7 1.2-10 1.3-29.4 1.3 18.6 1.2 8.8 1.2-12.7 1.3-13.8 1.3 15.9 1.2-6.9 1.2-16.4 1.3 20.8 1.3 11.9 1.2-3.8 1.2-.2 1.3-5.3 1.3-12.2 1.2-6.5 1.2 15.1 1.3-3.6 1.3 8.1 1.2 15.5 1.2-11.8 1.3-1.3 1.3-12.2 1.2 28.5 1.2-10.2 1.3 7.5 1.3 2.3 1.2 9.4 1.2-18.3 1.3-.7 1.3-25.3 1.2 21.5 1.2-7.8 1.3-14.8 1.3 27.3 1.2-9.6 1.2 1.5 1.3 8 1.3-6.5 1.2 3.6 1.2-16.5 1.3 19.8 1.3-11.2 1.2-6.4 1.2 6.4 1.3 10.8 1.3-22 1.2 21.3 1.2-10.3 1.3 21.7 1.3-11 1.2-3.8 1.2 4.7 1.3-12.8 1.3 9.7 1.2-6.3 1.2-3.2 1.3 8 1.3-3.3 1.2 14.5 1.2-9.5 1.3 .8 1.3-4.4 1.2 14.4 1.2-29.5 1.3 .6 1.3 6.9 1.2 11.9 1.2-18.5 1.3 9.2 1.3 17.1 1.2-.9 1.2-18.5 1.3 21 1.3 8.4 1.2 6.1 1.2-18.2 1.3 1.4 1.3-3.4 1.2 17.1 1.2-10.9 1.3-13.7 1.3 16.8 1.2-13.6 1.2 11.3 1.3-17.5 1.3 10.8 1.2 23.4 1.2-33.4 1.3 13.3 1.3 8.7 1.2-13.1 1.2 12.2 1.3-5.6 1.3-10.1 1.2-1.6 1.2 9.2 1.3-18.4 1.3 4.7 1.2 13.7 1.2-13 1.3 8.9 1.3-8.8 1.2 22.7 1.2-3.1 1.3-4.1 1.3-2.3 1.2-6.6 1.2-5.6 1.3 29.9 1.3-13.6 1.2-7 1.2 5.5 1.3 4.7 1.3 3.2 1.2 3.5 1.2-8.5 1.3-14 1.3 8.2 1.2 3.9 1.2-5.2 1.3 1.5 1.3-22 1.2 36.3 1.2-16.3 1.3 16.8 1.3-6.8 1.2-4.7 1.2 14.4 1.3-31.8 1.3 35 1.2-20.2 1.2-17 1.3 10.1 1.3 7.3 1.2-16.9 1.2 14.8 1.3-2.8 1.3-2.1 1.2 1.5 1.2-2 1.3 8.7 1.3 .8 1.2-3.5 1.2 1.9 1.3 2.3 1.3 2.3 1.2-2.7 1.2 14.2 1.3-1.2 1.3-23.3 1.2 .1 1.2 .4 1.3 15.5 1.3-11.4 1.2 15.3 1.2-17.7 1.3-4.1 1.3-2.2 1.2 .8 1.2 10.6 1.3 20.8 1.3-10.9 1.2-4.8 1.2-6.8 1.3 3.3 1.3-3.5 1.2 3.4 1.2 5.1 1.3 3.9 1.3-8.1 1.2 8.5 1.2-5.8 1.3-2.3 1.3 6.9 1.2-7.5 1.2 5 1.3-.7 1.3 8.8 1.2-8.9 1.2 3.7 1.3-10.9 1.3 6.6 1.2 12.4 1.2 .6 1.3-5.3 1.3-9.6 1.2-2 1.2 0 1.3 2.2 1.3 7.4 1.2-8.5 1.2-2.4 1.3-1.1 1.3 3.6 1.2-10.5 1.2 4.5 1.3 4.3 1.3 5 1.2 15.4 1.2-6.5 1.3-4.4 1.3-13.9 1.2 8.4 1.2 9 1.3 5 1.3-27.7 1.2 28.4 1.2-11.7 1.3 8.4 1.3-11.3 1.2 4 1.2-8.7 1.3 10 1.3 11.1 1.2-1.7 1.2-3.6 1.3-12.3 1.3 4.3 1.2-2.5 1.2 7.1 1.3 4.8 1.3-16.1 1.2 4.9 1.2 11 1.3 1.4 1.3-17.1 1.2 8.5 1.2 9.8 1.3 0 1.3-11.7 1.2 10.8 1.2-5.1 1.3-9.6 1.3 19.5 1.2-15.2 1.2 2.3 1.3-10.6 1.3 8.1 1.2-1.5 1.2-7.6 1.3 16.3 1.3-8.2 1.2 12 1.2 8.6 1.3-6.9 1.3-7.6 1.2-1.6 1.2 0 1.3-4.5 1.3 2.7 1.2 9.6 1.2 .1 1.3-6.7 1.3 .5 1.2-9.1 1.2 6.4 1.3-.1 1.3-5.5 1.2 18.1 1.2-9.8 1.3 .7 1.3 6.5 1.2-11.9 1.2 11.5 1.3-20.7 1.3 12.1 1.2-10 1.2 23 1.3-3.3 1.3-9.7 1.2 4.7 1.2-5.9 1.3 8.9 1.3 2.6 1.2-9.6 1.2 7 1.3-8.7 1.3 3.7 1.2 3.8 1.2 3.9 1.3-9.9 1.3 3.8 1.2 3.9 1.2 2.2 1.3 4.4 1.3-10.8 1.2 14.4 1.2-18.7 1.3 11.3 1.3 5.2 1.2 1.8 1.2-13.5 1.3-6.5 1.3-3.2 1.2 7.5 1.2-9.6 1.3 7.2 1.3-7 1.2 14.7 1.2 5.3 1.3-8.6 1.3 10.9 1.2-12.2 1.2 6.7 1.3-10.8 1.3 8.1 1.2 3.9 1.2-3.1 1.3 4.7 1.3-5.9 1.2-.5 1.2 .6 1.3 7 1.3-5.5 1.2 .5 1.2-1.7 1.3 6.6 1.3-23.5 1.2 11.5 1.2 4.6 1.3 .7 1.3-10.7 1.2 20.2 1.2-9 1.3-4.8 1.3 13 1.2-2.9 1.2-16 1.3-4.6 1.3 8.8 1.2 11.5 1.2-.2 1.3-3.1 1.3 3.2 1.2-6.6 1.2 9.2 1.3-2.2 1.3-11.4 1.2 5.6 1.2 1 1.3 5.1 1.3-11.7 1.2 5.8 1.2 4.3 1.3-6.8 1.3 9.2 1.2-.9 1.2-8.6 1.3 3.6 1.3 1.5 1.2-1.4 1.2-6.6 1.3 2 1.3 16.3 1.2-14 1.2 6.2 1.3-6.6 1.3-9.1 1.2 25.6 1.2-18.4 1.3 6 1.3-6 1.2-15.1 1.2 19.9 1.3-2.2 1.3 5.9 1.2 7.8 1.2-12.8 1.3 9.9 1.3-11.7 1.2 6.6 1.2-6.2 1.3 3.4 1.3 0 1.2 8.4 1.2-3.7 1.3-1.3 1.3-4.7 1.2 7.3 1.2 .1 1.3-4.4 1.3-4.5 1.2 5 1.2-10.1 1.3 15.1 1.3-18.5 1.2 19.3 1.2-12.7 1.3 1.5 1.3 1.3 1.2 6.9 1.2-7.2 1.3 8.4 1.3 1.4 1.2-.7 1.2-11.9 1.3 13.8 1.3-11.2 1.2 16.4 1.2-15.5 1.3-10.8 1.3 19.6 1.2-7.5 1.2-5.3 1.3 .5 1.3 16.2 1.2-11.2 1.2-1 1.3 3.3 1.3 1.7 1.2-9.9 1.2 8.6 1.3-6 1.3 4.3 1.2 .7 1.2 13.7 1.3-6.7 1.3 6.7 1.2-15.9 1.2 7.6 1.3-4.5 1.3 7.7 1.2-21.3 1.2 4.1 1.3-2.1 1.3 15.4 1.2-10.2 1.2 6.9 1.3 .1 1.3-3.6 1.2 7.1 1.2-6.8 1.3 7.3 1.3-9.8 1.2 6.6 1.2 1.1 1.3-13.1 1.3 10.1 1.2-2.8 1.2-2.7 1.3 18.7 1.3-8.8 1.2 1.3 1.2 4.4 1.3-6.8 1.3-7.3 1.2 11.8 1.2-14.3 1.3-1.3 1.3 9.2 1.2 2 1.2-8.1 1.3 1.6 1.3-1.7 1.2 7 1.2-2.8 1.3-2.3 1.3 2 1.2 6.8 1.2-6.7 1.3-.3 1.3-1.1 1.2 11.1 1.2-5.8 1.3 3.9 1.3-5.2 1.2-10.8 1.2 6.7 1.3 3.4 1.3 6.2 1.2-21 1.2 17.9 1.3 2.7 1.3-12.5 1.2-2.8 1.2 22.6 1.3-14 1.3-3.9 1.2 4.9 1.2 5 1.3-9.9 1.3 12.2 1.2-17.4 1.2 8.9 1.3 .9 1.3 8.4 1.2-9.3 1.2 .1 1.3-1.2 1.3-11.9 1.2 10.9 1.2 15.9 1.3-13.8 1.3 5.3 1.2-6.3 1.2 3.3 1.3-3 1.3-3.1 1.2 7.1 1.2-6.8 1.3 10.1 1.3-1.8 1.2-8.4 1.2 .2 1.3 11.3 1.3-.8 1.2-8.3 1.2 1.1 1.3-.7 1.3 9.6 1.2-3.2 1.2-1.9 1.3-8 1.3-.8 1.2 11.4 1.2 4.1 1.3-23.1 1.3 4.5 1.2 12.8 1.2-16.4 1.3 7.4 1.3 9.2 1.2-11.4 1.2 12.7 1.3-7.6 1.3 11.8 1.2-10.5 1.2 6.7 1.3-8.1 1.3-3 1.2 2.2 1.2 3.8 1.3-9 1.3 15 1.2-6.4 1.2-12.9 1.3 4.8 1.3 2 1.2 .2 1.2 7.4 1.3-2.1 1.3 3.4 1.2-6.2 1.2 9.5 1.3-9.2 1.3-.6 1.2 7.2 1.2-8.2 1.3 10.9 1.3 3.4 1.2-3 1.2-10.1 1.3 1.9 1.3 6.2 1.2-4.3 1.2 8.9 1.3 .2 1.3-1.4 1.2 2.7 1.2-13.6 1.3 1.3 1.3 6.7 1.2 6.9 1.2-15 1.3 3.9 1.3 4 1.2-3.2 1.2-11.6 1.3 9.2 1.3 .6 1.2 .5 1.2-3.4 1.3 4.2 1.3-10.4 1.2 6.8 1.2 2 1.3 2.8 1.3 4.6 1.2-7.6 1.2 6.2 1.3-4.5 1.3-5.8 1.2 8.3 1.2 1.6 1.3 5.5 1.3-8.3 1.2 2.1 1.2 4.5 1.3-5.2 1.3-9.6 1.2 5 1.2 7.6 1.3-4.4 1.3 3.1 1.2 3.5 1.2-4.7 1.3-.5 1.3-1.6 1.2 2.2 1.2-2.1 1.3 3.5 1.3-4.1 1.2 1.4 1.2-11.3 1.3 10.5 1.3-4.1 1.2 1.2 1.2 2.1 1.3-17.6 1.3 24.2 1.2-3.1 1.2-3 1.3-4.2 1.3-6.5 1.2 11.7 1.2 10 1.3-16.8 1.3 12.5 1.2-8.2 1.2-1.4 1.3 12.1 1.3-4.1 1.2-7.1 1.2 5.5 1.3-7.1 1.3 10.5 1.2 3 1.2-12.6 1.3 12.1 1.3-9.3 1.2 2.8 1.2 4 1.3-2.9 1.3-9.5 1.2 5.9 1.2-.6 1.3 3.9 1.3 2.3 1.2 6.5 1.2-3.5 1.3-8.3 1.3 2 1.2 6.2 1.2-7.4 1.3-9.7 1.3 8.6 1.2-.4 1.2 3.6 1.3-4.7 1.3-1 1.2 2.3 1.2-3.2 1.3 14.3 1.3-4.4 1.2-13.2 1.2 8.9 1.3 6.9 1.3-2.5 1.2-2.3 1.2-1.3 1.3-3.7 1.3-2.7 1.2 7 1.2 1.1 1.3 1.9 1.3 .8 1.2-.8 1.2-12.2 1.3 1.2 1.3 12.4 1.2-.1 1.2-9.3 1.3-.1 1.3 5 1.2-8.4 1.2 3.9 1.3 6.4 1.3-4.4 1.2-14.1 1.2 9 1.3 11.1 1.3 6.1 1.2-14.2 1.2 7.3 1.3-10.1 1.3 1.5 1.2 8.5 1.2-3.9 1.3-3 1.3 3.9 1.2-7.9 1.2 6.8 1.3 7.2 1.3-3 1.2 .3 1.2-2.8 1.3 6.6 1.3-16.3 1.2 2.9 1.2 9.7 1.3 4.9 1.3-6 1.2-7.2 1.2 2.8 1.3-14.2 1.3 24.9 1.2-1 1.2-2.4 1.3-.1 1.3-16 1.2 3.6 1.2 6.1 1.3-.8 1.3 8.7 1.2-3 1.2-2.6 1.3 .7 1.3-3 1.2-.2 1.2-2.3 1.3 3.4 1.3-6.6 1.2 11.6 1.2-6.9 1.3 1.6 1.3-3.8 1.2-3 1.2 5.7 1.3 .6 1.3-.9 1.2 9.3 1.2-8.8 1.3-2.6 1.3 7.1 1.2-3.1 1.2 9.9 1.3-9.3 1.3-4 1.2 6 1.2 0 1.3-15.1 1.3 14.5 1.2-8.3 1.2 7 1.3 1 1.3 1.4 1.2-7.1 1.2 13.4 1.3-14.1 1.3-6.5 1.2 14.2 1.2-7.1 1.3-1.9 1.3 10.1 1.2-8.6 1.2 6.8 1.3-3.1 1.3-3.9 1.2-3 1.2-4 1.3 20.8 1.3-3.3 1.2-3.8 1.2 .1 1.3 1.3 1.3-1.5 1.2 4.2"/>
<clipPath id="cp2"><rect x="306" y="791" width="1987" height="385"/></clipPath>
<path clip-path="url(#cp2)" d="M302.0 1155.8l1.2-5 1.3 .6 1.3-13.3 1.2 14.2 1.2-6.8 1.3-6 1.3-3.1 1.2 4.7 1.2-14.5 1.3 20.9 1.3-7.1 1.2-3.6 1.2-4.7 1.3 3.3 1.3 10.4 1.2-19.2 1.2 12.1 1.3-4.5 1.3 3.2 1.2 9.3 1.2-6.1 1.3-9.6 1.3 .7 1.2 10.3 1.2-5.1 1.3-18.2 1.3 19.6 1.2 2.2 1.2-5.1 1.3-2.4 1.3 4.2 1.2 4.8 1.2 9.9 1.3-21.5 1.3 2.6 1.2-12.2 1.2 23.9 1.3-7.7 1.3-8.1 1.2 13.5 1.2-20.2 1.3 17.3 1.3-10.3 1.2 15.6 1.2-6.4 1.3 2.2 1.3-8.5 1.2-7.2 1.2 16.6 1.3 1.2 1.3-16.3 1.2-3.8 1.2 13.8 1.3-4.7 1.3 2 1.2-9.4 1.2 15.8 1.3-18.2 1.3 21 1.2-13.4 1.2 1.1 1.3-1.1 1.3-15.9 1.2 4.2 1.2 1.9 1.3 5.5 1.3 3.8 1.2-4.2 1.2 .4 1.3 7.2 1.3 3 1.2-8 1.2-10.2 1.3 2.3 1.3 13.8 1.2-22.9 1.2 2.7 1.3 10.8 1.3 2.6 1.2-7.5 1.2 1.2 1.3 3.1 1.3-9.9 1.2-1.7 1.2 17.2 1.3-4.1 1.3-2.8 1.2-16.5 1.2 7.1 1.3 3.5 1.3-9.9 1.2-25.2 1.2 45.8 1.3-24 1.3 3 1.2 .8 1.2-5.1 1.3 4.8 1.3-5.7 1.2 5.5 1.2-3.6 1.3 11.7 1.3-3.6 1.2-10.3 1.2 1.9 1.3 6.4 1.3 1.5 1.2-31.6 1.2 19.1 1.3-4.2 1.3 7.5 1.2-5.8 1.2-4.9 1.3-8.4 1.3 51.4 1.2-27.3 1.2-10.9 1.3 3.7 1.3-7.9 1.2-.2 1.2 13.6 1.3-6 1.3-12 1.2 16.2 1.2 5.1 1.3-10.1 1.3 1 1.2-.9 1.2 1.3 1.3-10.4 1.3 14.5 1.2 7.5 1.2-23.5 1.3-.6 1.3-13.7 1.2 20.8 1.2-6.8 1.3 3.8 1.3 12.2 1.2-13.5 1.2-25.3 1.3 32.4 1.3-8 1.2-13.9 1.2 19.6 1.3 13.3 1.3-3.5 1.2 7.5 1.2 6 1.3-17.8 1.3-10.3 1.2 11.2 1.2-1.9 1.3-30.5 1.3 32.2 1.2-29.5 1.2 28.5 1.3-5.7 1.3-9.9 1.2 6.7 1.2-26.1 1.3-3.3 1.3 26 1.2-4.5 1.2-4.9 1.3-10.9 1.3-20.7 1.2 28.3 1.2 7 1.3-26.5 1.3 13.1 1.2 4.7 1.2-22.5 1.3-.6 1.3 20.1 1.2 46.5 1.2-36.3 1.3-2.8 1.3-1.3 1.2-3.8 1.2 24.3 1.3-22.4 1.3-19.9 1.2 12.4 1.2-43 1.3 55.2 1.3-4.5 1.2 15.7 1.2-16 1.3 10.5 1.3-18.4 1.2 10.6 1.2 4.1 1.3-18.5 1.3-9.5 1.2 2.4 1.2 7 1.3 23.2 1.3-14.1 1.2 6.6 1.2-9.8 1.3 5.9 1.3 6 1.2-13.1 1.2 5 1.3 .4 1.3-5.8 1.2 2.1 1.2 7.4 1.3-33.5 1.3 46.1 1.2 7.3 1.2-27.7 1.3-10.6 1.3 8.2 1.2 10.4 1.2-.9 1.3-49.5 1.3 42.7 1.2-4.5 1.2 19.3 1.3-28.4 1.3 17.1 1.2-15.9 1.2 1.8 1.3 5.4 1.3 12 1.2 3.7 1.2-29.6 1.3-1 1.3 6.1 1.2 22.5 1.2-21 1.3 28.5 1.3-48.6 1.2 28.4 1.2 .6 1.3-33.2 1.3 33.8 1.2 16.5 1.2-27.2 1.3 5.6 1.3-3.5 1.2-9.6 1.2 30 1.3-4.1 1.3-16.8 1.2 3.9 1.2 15.8 1.3-29.9 1.3 13.8 1.2 6.2 1.2-24.9 1.3 8.1 1.3 .2 1.2-11 1.2 13.3 1.3 3 1.3-11 1.2 24.4 1.2-8.9 1.3 1.6 1.3-2.4 1.2 13.4 1.2-22.1 1.3-.1 1.3-20.4 1.2 31.2 1.2-12.4 1.3 3.6 1.3 1.7 1.2-26.1 1.2 40.6 1.3-23.4 1.3-8.2 1.2 11.7 1.2-8.1 1.3 8.7 1.3 7.8 1.2 42.6 1.2-34.1 1.3 20.2 1.3-47.1 1.2 13.2 1.2 12.7 1.3-36.6 1.3 34.1 1.2-26.1 1.2 21 1.3 29.7 1.3-35.1 1.2 .5 1.2 17.1 1.3 .1 1.3 11.3 1.2-2.7 1.2-15.4 1.3 22.6 1.3-50.6 1.2 22 1.2 17.7 1.3-15.1 1.3 1.6 1.2 7.3 1.2-9.1 1.3-2.2 1.3 .8 1.2-13.8 1.2 1.2 1.3 22.5 1.3-36.3 1.2 11.7 1.2-4.9 1.3 10.5 1.3-11 1.2 8.2 1.2-17.7 1.3-30.8 1.3 21.2 1.2 1 1.2 16.2 1.3 2.9 1.3 14.7 1.2-36.5 1.2 10.3 1.3-11.9 1.3-4 1.2-13.8 1.2 8.9 1.3-4.5 1.3 12.8 1.2-10.2 1.2-23.8 1.3-.3 1.3 16.4 1.2-7.3 1.2 .5 1.3 12.8 1.3-5.9 1.2-15.7 1.2-20.8 1.3 25.4 1.3-14.6 1.2 .6 1.2 5.5 1.3-.1 1.3-38.2 1.2 26.7 1.2 24.2 1.3-25.1 1.3 16 1.2 9.8 1.2-31.2 1.3 19.7 1.3-26.5 1.2 15.2 1.2-2.5 1.3-2.9 1.3-2.2 1.2 4.7 1.2-28.6 1.3 22.4 1.3 34.2 1.2-27.9 1.2 29.6 1.3-25 1.3 10.5 1.2 15.7 1.2-2.4 1.3-24.2 1.3 9.2 1.2-5.4 1.2 38.8 1.3-20.9 1.3 8.9 1.2-21.6 1.2 34.9 1.3 28.4 1.3-25.7 1.2-19.9 1.2 19.4 1.3 8 1.3-21.3 1.2 1.7 1.2-4.3 1.3 27 1.3-3.6 1.2 30.6 1.2-58.8 1.3-37.7 1.3 57.8 1.2-11.2 1.2 11.7 1.3 20.7 1.3 18.4 1.2-35.5 1.2 41.7 1.3-31.2 1.3-23 1.2-2.4 1.2 28.3 1.3 3.2 1.3 6.3 1.2 10.9 1.2-8.1 1.3-21.5 1.3 21.9 1.2-2.1 1.2-11.6 1.3 31.1 1.3-20.4 1.2-4.4 1.2 2.9 1.3-25.6 1.3 36.2 1.2-12.5 1.2 17.5 1.3 1.8 1.3-32.2 1.2 30.9 1.2 7.2 1.3-2.7 1.3-16 1.2 11.3 1.2 11.6 1.3 2.3 1.3-19.4 1.2-5.9 1.2 17.7 1.3-9.6 1.3 8 1.2-2.1 1.2 4.7 1.3-2.7 1.3 9.2 1.2 24.8 1.2-47.7 1.3 .4 1.3 20.3 1.2 2.9 1.2 21 1.3-50.6 1.3 33.8 1.2-.4 1.2 1.2 1.3-22.8 1.3 24.8 1.2 9 1.2-26.9 1.3 35.1 1.3-27.3 1.2 5.1 1.2 6.5 1.3-.2 1.3-21 1.2 22.6 1.2 10.2 1.3 1.3 1.3-12.6 1.2 10.3 1.2-13.2 1.3 11 1.3 8 1.2 13.8 1.2-25.6 1.3 2.1 1.3-14.9 1.2 4.8 1.2 22.6 1.3 3.1 1.3-27.1 1.2-20.8 1.2 36.2 1.3 7.4 1.3 7.8 1.2-8.8 1.2-12.9 1.3 14.3 1.3 36.9 1.2-33.4 1.2-3.8 1.3-3.9 1.3-4.9 1.2 17.7 1.2-11.8 1.3 1.4 1.3-9.2 1.2-17.8 1.2 26.7 1.3-6.6 1.3 17.6 1.2-18.6 1.2 33.8 1.3-6.6 1.3-15.4 1.2-6.6 1.2 1.1 1.3 6.7 1.3 13.9 1.2-15.4 1.2 8 1.3-11.2 1.3 17.8 1.2-16.5 1.2 11.4 1.3-9.5 1.3 4.8 1.2 14.6 1.2 16.2 1.3-23.5 1.3 26.2 1.2-24.4 1.2-.6 1.3 14.5 1.3-19.5 1.2-4 1.2 17.1 1.3-42.8 1.3 51.9 1.2-8.8 1.2-2 1.3 2.6 1.3-15.9 1.2-3.8 1.2 4.2 1.3 4.3 1.3-16.3 1.2 12.4 1.2-1.4 1.3-3.1 1.3 .7 1.2 6.4 1.2 17.2 1.3-1.2 1.3-.4 1.2 17.9 1.2-15.4 1.3 2.4 1.3 1.8 1.2-13.1 1.2 5 1.3-8.8 1.3 9.5 1.2-31.1 1.2 29 1.3-1.5 1.3-27 1.2 36.2 1.2-.7 1.3-25.4 1.3-4.3 1.2 29 1.2-16.9 1.3-8.9 1.3 47.1 1.2-37.6 1.2 25.4 1.3-17.7 1.3-2.9 1.2 4 1.2 4.7 1.3-15.5 1.3 28.6 1.2-20.4 1.2-3.5 1.3 2.2 1.3 3.5 1.2-9.1 1.2 22.3 1.3-25.5 1.3 33.9 1.2-2.1 1.2-36.1 1.3 31.2 1.3 5.3 1.2-21.4 1.2 18.3 1.3-14.3 1.3 13.9 1.2-16 1.2 3.2 1.3 4.1 1.3-12.5 1.2 13.6 1.2-4.9 1.3-2.5 1.3 2.7 1.2-2.2 1.2-.3 1.3-3.1 1.3 17.4 1.2-1 1.2-.6 1.3-2.9 1.3-4.6 1.2-7.5 1.2 18.3 1.3-.7 1.3-13.5 1.2 21.9 1.2-26.7 1.3 22.8 1.3-21.4 1.2 8.6 1.2-17.3 1.3 23 1.3-1.1 1.2-13.6 1.2 7 1.3 .1 1.3 16.5 1.2-6.9 1.2-28.4 1.3 33.4 1.3-16.4 1.2 14 1.2-3.7 1.3-7.7 1.3-12.9 1.2 20.2 1.2-8.8 1.3 10.7 1.3-2.1 1.2-21.6 1.2 19.9 1.3-1.6 1.3 15.5 1.2-23.6 1.2-7 1.3 2.6 1.3 25.6 1.2-18.3 1.2 28.7 1.3-31 1.3 6.5 1.2-3.5 1.2-.2 1.3 15.6 1.3-11.5 1.2 13.3 1.2 4.7 1.3-11.3 1.3-.5 1.2-20.9 1.2 20.5 1.3 14.8 1.3-20.5 1.2 9.1 1.2-13.3 1.3 13 1.3-3.1 1.2-5.7 1.2 1.8 1.3 9.8 1.3-3.7 1.2 20.1 1.2-22.2 1.3-8.6 1.3 14.2 1.2 5.2 1.2-10.7 1.3 6.3 1.3-8.4 1.2-1.5 1.2 19 1.3-16.1 1.3-2.2 1.2-.8 1.2 7.4 1.3 23.5 1.3-19.4 1.2 1.3 1.2-6 1.3 2.6 1.3 5.5 1.2-8.5 1.2 14.8 1.3-4.4 1.3-12.4 1.2 1.8 1.2 8 1.3 4.3 1.3-9.2 1.2-2.7 1.2-1.7 1.3 2.4 1.3 4.6 1.2 4.7 1.2-19.5 1.3 9 1.3 5.4 1.2-1.6 1.2 6.1 1.3 2.5 1.3-8.4 1.2-.1 1.2 3.5 1.3-16.7 1.3 11.5 1.2 5.5 1.2-2.1 1.3-2 1.3-2.8 1.2 8.3 1.2-5.2 1.3-2 1.3 5.5 1.2-8.9 1.2 14 1.3-1.8 1.3-6.1 1.2-6.7 1.2 4.9 1.3 4.1 1.3-9.3 1.2 1.4 1.2 4 1.3 2.3 1.3 4.4 1.2 8.8 1.2-18.6 1.3 19.4 1.3-18 1.2-.4 1.2 10.5 1.3-11.3 1.3 .9 1.2 8.9 1.2-12.1 1.3 12.1 1.3-.3 1.2-3.8 1.2-16.8 1.3 31.4 1.3-17.9 1.2 14.1 1.2-15.7 1.3-3.5 1.3 27.2 1.2-29.8 1.2 20.6 1.3-11.9 1.3 .5 1.2-1.1 1.2 6.3 1.3-8.9 1.3 17.1 1.2-26.2 1.2 10 1.3 7.9 1.3 4.8 1.2-1.4 1.2-14.1 1.3 1.7 1.3 2.6 1.2-3.4 1.2-2 1.3 22.2 1.3-3.5 1.2-21.5 1.2 12.9 1.3-1.6 1.3-5.4 1.2-4.1 1.2 22.2 1.3-7 1.3-.9 1.2-5.9 1.2-6.7 1.3 13.7 1.3-17.7 1.2 .6 1.2 10.1 1.3-3.7 1.3 2.2 1.2-1.3 1.2-10.3 1.3 2 1.3 8 1.2-1.4 1.2 5.2 1.3-2.5 1.3-1.3 1.2-2.4 1.2 7.3 1.3 6.8 1.3 3.7 1.2-16.4 1.2 14.7 1.3-12 1.3 6.2 1.2-4 1.2 9.1 1.3-13.8 1.3 9.1 1.2-5.2 1.2-14.6 1.3 6.9 1.3 5.8 1.2-7.1 1.2 5.3 1.3 13.8 1.3-6.2 1.2-6.4 1.2 21.6 1.3-17 1.3 2.4 1.2-7.8 1.2 10.5 1.3-12.1 1.3 11 1.2-6.4 1.2-.2 1.3 3.4 1.3 9.3 1.2-19.8 1.2 9.5 1.3 .5 1.3 6.6 1.2-14.8 1.2 11.1 1.3 0 1.3-2.7 1.2 3.6 1.2-5.9 1.3 19.3 1.3-15.7 1.2 1.2 1.2-.2 1.3 .5 1.3 1.2 1.2-18.2 1.2 11.9 1.3 16.6 1.3-27 1.2 17.3 1.2-3.7 1.3-4.1 1.3-4.1 1.2 5.6 1.2 2.7 1.3-5.7 1.3 1.5 1.2-19.6 1.2 24.4 1.3-.5 1.3 2.6 1.2-6.5 1.2 8.1 1.3-9.8 1.3 12.4 1.2-4.2 1.2 3.5 1.3-3.5 1.3 5.2 1.2-6.9 1.2-1.2 1.3-3.8 1.3 7.5 1.2-8.1 1.2 3.5 1.3 1.1 1.3 5.1 1.2-6.8 1.2 10.7 1.3-9.9 1.3 3 1.2-6.1 1.2 3.8 1.3 12 1.3-17.8 1.2 13.3 1.2-10 1.3 10.9 1.3-4.3 1.2 1.5 1.2-3 1.3-10 1.3 13.8 1.2-9 1.2-4.8 1.3 6.8 1.3-12.2 1.2 18.9 1.2-.4 1.3-3.8 1.3 7.3 1.2-1.9 1.2-20.1 1.3 17.9 1.3-2.2 1.2 .3 1.2-6.4 1.3 7.2 1.3-6.7 1.2-4.4 1.2 7.4 1.3 .6 1.3-.3 1.2 12 1.2-.4 1.3-2 1.3-3 1.2-2 1.2-8 1.3 19.9 1.3-13.9 1.2 5.9 1.2 4.5 1.3-22.1 1.3 10.6 1.2 5.5 1.2-14.7 1.3 7.1 1.3 3.7 1.2 8.8 1.2-2.3 1.3-7.2 1.3 5 1.2-7.8 1.2 10.9 1.3-14.6 1.3 9.1 1.2 6.8 1.2-5 1.3-.7 1.3 10.2 1.2-15.4 1.2 0 1.3-2.5 1.3 1 1.2 .9 1.2 13.9 1.3-16.5 1.3 8.4 1.2-7.5 1.2 10.2 1.3-9.2 1.3 10.9 1.2-5.8 1.2-6.1 1.3 .7 1.3 1.2 1.2 17.2 1.2-8.6 1.3-1.9 1.3 2.4 1.2 3.3 1.2-6.1 1.3 4.2 1.3-4.5 1.2 7.6 1.2-11.5 1.3 5.6 1.3 4.3 1.2-10.4 1.2 10.2 1.3-5.9 1.3 2.9 1.2-9.1 1.2 7.1 1.3-2 1.3 4.4 1.2-9.9 1.2 15.9 1.3-16 1.3 14.2 1.2-9.3 1.2-3.7 1.3 4.9 1.3-.9 1.2 14.3 1.2-6.9 1.3-.7 1.3 .4 1.2-12.9 1.2 14.8 1.3-8.3 1.3 3.1 1.2-5.7 1.2 .8 1.3 1.4 1.3-.8 1.2 9.6 1.2-7.5 1.3 .4 1.3-4.7 1.2 6.7 1.2-7.5 1.3 4.1 1.3 2.9 1.2-1.1 1.2 9.5 1.3-9.9 1.3 .7 1.2 .9 1.2 3.7 1.3-13.2 1.3 20.6 1.2-6.5 1.2 .4 1.3-.1 1.3-3 1.2 5.6 1.2-9 1.3-1.7 1.3 .1 1.2 7.3 1.2-2.7 1.3 7.1 1.3-7.1 1.2 1 1.2 2.3 1.3-6.2 1.3-2.6 1.2 8.4 1.2-.1 1.3 10.6 1.3-18 1.2 10.6 1.2-9.6 1.3 2.4 1.3 7.1 1.2-8.4 1.2 14.1 1.3-6.5 1.3 7.1 1.2-11 1.2 .8 1.3 9.4 1.3-11.5 1.2-.2 1.2 2.6 1.3-.4 1.3 1 1.2-1.1 1.2 1.5 1.3-1.6 1.3-1.2 1.2 5.2 1.2-3.3 1.3 8.4 1.3-8.6 1.2-2.1 1.2 4.8 1.3-2.4 1.3 9.1 1.2-2.7 1.2-5.7 1.3 10.5 1.3-17 1.2 7.5 1.2 4.2 1.3-3.6 1.3-7 1.2 4.1 1.2 3.8 1.3-10.1 1.3 13.1 1.2-.2 1.2-5.9 1.3 2 1.3-5.7 1.2 8.2 1.2-2.9 1.3-.9 1.3-1.1 1.2-2.6 1.2 4.9 1.3 4.6 1.3-2.9 1.2-5.1 1.2 9.2 1.3-3.8 1.3-2.4 1.2 .9 1.2 4.4 1.3-7.8 1.3 4.4 1.2-3.1 1.2 2.9 1.3-3.4 1.3-2.2 1.2-3.4 1.2 4.5 1.3 8.5 1.3-3.5 1.2 3.6 1.2-6.2 1.3 2 1.3 1.5 1.2-3.1 1.2 2.9 1.3-3.1 1.3 2.8 1.2 6.5 1.2-4.6 1.3-8.3 1.3 4.5 1.2-.6 1.2 4.9 1.3 2.5 1.3-4.8 1.2-16.1 1.2 20.9 1.3-5.6 1.3-2.7 1.2 2.7 1.2 8.3 1.3-11.4 1.3-.4 1.2 .5 1.2 9.7 1.3-3.9 1.3-3 1.2-2.1 1.2 4.1 1.3 4.2 1.3-5.1 1.2-5.8 1.2 16 1.3-8.1 1.3-4.2 1.2 4.2 1.2-.5 1.3-3.5 1.3 1.6 1.2-1.6 1.2-5 1.3 7.8 1.3 .3 1.2-.1 1.2-.5 1.3-2.8 1.3 3.8 1.2-1.2 1.2-1.3 1.3 4.7 1.3-6.1 1.2 10.1 1.2-7.1 1.3 .4 1.3 2 1.2 3.4 1.2-8.6 1.3 7.7 1.3-6.8 1.2 5.1 1.2 1.7 1.3-5 1.3 .9 1.2-.9 1.2 .6 1.3 .1 1.3 6.1 1.2-8.9 1.2 2.7 1.3 6.2 1.3-8 1.2 .1 1.2 4.3 1.3-4.5 1.3-4.1 1.2 7.7 1.2-.9 1.3-4.7 1.3 5.4 1.2-3.4 1.2 3.1 1.3-5.7 1.3 7.5 1.2-5 1.2 8 1.3-1.8 1.3-1.8 1.2 4.1 1.2-3.4 1.3-6.5 1.3 5 1.2-.8 1.2 1.1 1.3 5.7 1.3-4.3 1.2-.7 1.2 2.5 1.3-.8 1.3-7.4 1.2 1.6 1.2 .8 1.3 5.7 1.3 2.7 1.2-4.7 1.2-3.7 1.3 .6 1.3-1.4 1.2 8.1 1.2-10.4 1.3-.1 1.3 2.9 1.2 2.8 1.2 2.6 1.3-4.8 1.3 5.5 1.2-5 1.2-.5 1.3 3.2 1.3-.7 1.2 2.5 1.2-2.7 1.3 5.8 1.3-5.3 1.2-1.1 1.2 .7 1.3 4.2 1.3-7.7 1.2 2.6 1.2-3.1 1.3 .2 1.3 4.1 1.2 .3 1.2 5.8 1.3-8 1.3 .3 1.2-.2 1.2-2.5 1.3-.9 1.3 6.3 1.2-2 1.2-2.3 1.3 4.8 1.3-.3 1.2-1.9 1.2-2.2 1.3 2.9 1.3 3.6 1.2-2.5 1.2-2.3 1.3 .9 1.3-3.3 1.2-3.5 1.2 12.4 1.3-5.5 1.3-1.2 1.2 2.3 1.2 2.9 1.3-5.5 1.3 1.8 1.2-4.4 1.2 1.9 1.3 1.5 1.3-2.4 1.2 3.8 1.2 1.6 1.3-3 1.3-.2 1.2-3.6 1.2 1 1.3 3.6 1.3 4.5 1.2-9.2 1.2 5.6 1.3 .6 1.3-2 1.2-2.4 1.2-3.8 1.3 10.6 1.3-7.4 1.2 6.6 1.2-2.2 1.3 .1 1.3-1.9 1.2-2.9 1.2 2.1 1.3 7.3 1.3-4.3 1.2-3.1 1.2 5.3 1.3-.5 1.3-4.7 1.2 1.1 1.2-.2 1.3 1.9 1.3-1.4 1.2 4.9 1.2-4.7 1.3 1.3 1.3 2.2 1.2-.2 1.2-5.6 1.3 5.5 1.3-1 1.2-.9 1.2-1.3 1.3 1.5 1.3 3 1.2-4.2 1.2-1.5 1.3 .5 1.3 3.2 1.2-5.8 1.2 1.1 1.3 .2 1.3 8.2 1.2-8.5 1.2 3.9 1.3 1.2 1.3-4.9 1.2 3.4 1.2-4.9 1.3 .9 1.3 3.5 1.2 3.5 1.2-1.7 1.3-4 1.3 5.1 1.2-.5 1.2-4.6 1.3 4.9 1.3-5.2 1.2 6.6 1.2-4.6 1.3-.6 1.3 3.2 1.2-4 1.2 5.2 1.3-2.6 1.3-3.3 1.2-.1 1.2 8.4 1.3-6.4 1.3-5.7 1.2 5.7 1.2-1.3 1.3 1.3 1.3 4.3 1.2-10.3 1.2 11 1.3-5.1 1.3 1.2 1.2 .7 1.2-6.1 1.3 4 1.3-.6 1.2-1.2 1.2-5.8 1.3 5.6 1.3 3.3 1.2-8 1.2-12.7 1.3 16.8 1.3-4.2 1.2 2.2 1.2 2.7 1.3 1.2 1.3-2.1 1.2 3.9 1.2-7.3 1.3 7.7 1.3-2 1.2 7.3 1.2-5.5 1.3-6 1.3 3 1.2 2.5 1.2-3.5 1.3 5.4 1.3 .4 1.2-.2 1.2 1.6 1.3-4.4 1.3 2 1.2-.1 1.2-4.3 1.3 5.7 1.3-1.1 1.2-1.7 1.2-1.4 1.3 2.1 1.3-1.9 1.2 4.6 1.2-1.9 1.3 .6 1.3-2.8 1.2 2.8 1.2-1.9 1.3-2.1 1.3 6.8 1.2-6 1.2 2.6 1.3-1.2 1.3 5.5 1.2-5.7 1.2 1.7 1.3 .3 1.3-5.5 1.2 .3 1.2 1 1.3 4.5 1.3-1 1.2 3.9 1.2-.1 1.3-4.5 1.3 2.6 1.2 1.3 1.2-1.6 1.3 3.5 1.3-5.7 1.2 2.9 1.2-6.4 1.3 4 1.3 .5 1.2-6.4 1.2 7.9 1.3-3.2 1.3 2.4 1.2-.4 1.2-.7 1.3 1.6 1.3-2.7 1.2 5.8 1.2-4.6 1.3 3 1.3 0 1.2 .5 1.2-4.5 1.3 3.9 1.3-5.2 1.2 5 1.2-1 1.3-.2 1.3-.4 1.2-1.1 1.2 2.5 1.3-1 1.3-2.4 1.2 4 1.2 .2 1.3-5.9 1.3 4.6 1.2 .6 1.2 4.6 1.3-6.4 1.3 2.5 1.2-3.4 1.2 .7 1.3 4 1.3-1.3 1.2 .6 1.2-9.8 1.3 5.2 1.3-2.1 1.2 5.9 1.2-3.1 1.3-5.4 1.3 3.9 1.2 2.6 1.2 3.3 1.3-8.3 1.3-1.5 1.2 6.1 1.2-1.7 1.3-1.1 1.3 .8 1.2 8.4 1.2-8.5 1.3 2.2 1.3 2.6 1.2-2.8 1.2-2.8 1.3 3.2 1.3 3.3 1.2-2.4 1.2-1.4 1.3-1.4 1.3 1 1.2-1 1.2 .8 1.3 1.5 1.3-2.3 1.2 4.5 1.2 1.1 1.3-3 1.3 3.5 1.2-6.5 1.2 1.5 1.3-2.2 1.3-3.2 1.2 5.5 1.2 4.3 1.3-2.3 1.3-.1 1.2-.5 1.2-2.1 1.3 3.2 1.3-3.7 1.2 4.3 1.2-4.5 1.3-4 1.3 4.6 1.2 .8 1.2 .1 1.3-1.3 1.3 1.1 1.2 4.1 1.2-.4 1.3-4.9 1.3 .8 1.2 1.9 1.2-4.3 1.3 2.8 1.3 1.3 1.2-2.6 1.2-1.9 1.3 2.8 1.3-.3 1.2 .7 1.2-.2 1.3-2.1 1.3 1.4 1.2 1.9 1.2-3.5 1.3-.2 1.3-2.1 1.2 4.4 1.2-4.6 1.3 4.3 1.3-2.2 1.2 3.7 1.2 2.9 1.3-9.8 1.3 3 1.2 4.6 1.2-3.1 1.3-1 1.3 2.1 1.2 1.7 1.2-5.5 1.3-.1 1.3 5 1.2 4 1.2-6.9 1.3-.5 1.3 1.2 1.2-1.5 1.2 .4 1.3 1 1.3 2 1.2-2.1 1.2-.4 1.3 2 1.3 1.2 1.2-6.9 1.2 6.1 1.3-.7 1.3 0 1.2-.8 1.2 5.4 1.3-6.2 1.3 4.3 1.2-17.4 1.2 17.4 1.3-5.4 1.3 2.6 1.2 1.7 1.2-.4 1.3 2 1.3-.5 1.2 .3 1.2-4.6 1.3 1 1.3 2 1.2 4.6 1.2-8.8 1.3 3.1 1.3-2.5 1.2 4.6 1.2-.5 1.3-4.8 1.3 4.6 1.2-3.9 1.2 1.2 1.3 3.4 1.3-3.9 1.2 1.9 1.2-1.3 1.3-1.3 1.3 2.6 1.2-.9 1.2-2.5 1.3 6 1.3-3.3 1.2 .9 1.2-3.1 1.3 8.4 1.3-10.8 1.2 4.8"/>
<clipPath id="cp3"><rect x="306" y="1171" width="1987" height="385"/></clipPath>
<path clip-path="url(#cp3)" d="M302.0 1425.0l1.2 30.3 1.3 19.8 1.3-23.7 1.2-21.4 1.2 105.1 1.3-58.1 1.3 .3 1.2-43 1.2 11.1 1.3 37.5 1.3-21.2 1.2 34 1.2 18.8 1.3-85.9 1.3-5.9 1.2 73.4 1.2-34.8 1.3 20.3 1.3 35.9 1.2-21.6 1.2-95.2 1.3 69.9 1.3 25 1.2-54.7 1.2-21.4 1.3-6.4 1.3 33 1.2-27.4 1.2 11.4 1.3-33.5 1.3 43.5 1.2-39.2 1.2-28 1.3-3.9 1.3 36.6 1.2 10 1.2 15.5 1.3-8 1.3 13.8 1.2 16.3 1.2 32.4 1.3-18.2 1.3-21.8 1.2-32.4 1.2 29.1 1.3 5.5 1.3-75 1.2 57.8 1.2-51.4 1.3 45 1.3 77.1 1.2-126.6 1.2 53.2 1.3 1.9 1.3 15.5 1.2-23.7 1.2 25.8 1.3-46.6 1.3 34.1 1.2-65.9 1.2 47.8 1.3-20.2 1.3 4.8 1.2 49.7 1.2 14 1.3-31 1.3-120.8 1.2 104.7 1.2 24.8 1.3-27.1 1.3 34.3 1.2-15.1 1.2-24.6 1.3 10.1 1.3 59.5 1.2-33.3 1.2-59.8 1.3-9.7 1.3 46.7 1.2-6.6 1.2 30.9 1.3-39.9 1.3 27.4 1.2 4.1 1.2 28.8 1.3-67 1.3 33.8 1.2-47.4 1.2 68.9 1.3-9.3 1.3-9.7 1.2 83.5 1.2-137.4 1.3 62 1.3-31 1.2 65 1.2-41 1.3 44.1 1.3-2.1 1.2-65.4 1.2-5.3 1.3-33.1 1.3 64.4 1.2 31.6 1.2-66.7 1.3 13.7 1.3-46.3 1.2 91.6 1.2-30.5 1.3-129.2 1.3 103.2 1.2 12.8 1.2-15.1 1.3 28.6 1.3-11.1 1.2 31.9 1.2-30.5 1.3-7.8 1.3-17.8 1.2 20 1.2-14.6 1.3 13.6 1.3-6 1.2 37.3 1.2 13.9 1.3-59.6 1.3 41.9 1.2-5.4 1.2-42 1.3-4.2 1.3 86.6 1.2-16 1.2-90 1.3 29.7 1.3 33.8 1.2-17.3 1.2-32.7 1.3 47.1 1.3-26.1 1.2 66.1 1.2-6.9 1.3-90.5 1.3 36.5 1.2-14.8 1.2-43.6 1.3 38.3 1.3 27.6 1.2-45.9 1.2 51.9 1.3-13.3 1.3-74.4 1.2 121.1 1.2-75.5 1.3 7 1.3 38 1.2-22 1.2 21.9 1.3-38 1.3 35 1.2 37.2 1.2-75.4 1.3 6.7 1.3 45.6 1.2-14.7 1.2-29.8 1.3 4 1.3 5.5 1.2 24.5 1.2-7.5 1.3-46.1 1.3 23.6 1.2-10.5 1.2 16.7 1.3-12.7 1.3 61.4 1.2-9 1.2 44.3 1.3-2.8 1.3-24.3 1.2-92.5 1.2 50.9 1.3-66.4 1.3 135.1 1.2-36.7 1.2-1.3 1.3-70.6 1.3-8.5 1.2 44.2 1.2 5.2 1.3-68.1 1.3 54.6 1.2-13.7 1.2-17.2 1.3 65.5 1.3-33.5 1.2-20.8 1.2 35.3 1.3-6.1 1.3-5 1.2-4.3 1.2 24.4 1.3-69.3 1.3 87 1.2-38.2 1.2-12.7 1.3 34.4 1.3-34.6 1.2 38.2 1.2-25.8 1.3 32.6 1.3-75.3 1.2 4.7 1.2 28.4 1.3-5.7 1.3 26.4 1.2-116.2 1.2 126.7 1.3-31.9 1.3-25.6 1.2 41.5 1.2 34.9 1.3-66.1 1.3 52.3 1.2-21 1.2-15.8 1.3 60.3 1.3-29.8 1.2-27.2 1.2 58.6 1.3-114.9 1.3 43 1.2 19.4 1.2-19.5 1.3-31.1 1.3 51 1.2-30.4 1.2 60.2 1.3-75.4 1.3 35.6 1.2-17.8 1.2 57 1.3-24.1 1.3 13.3 1.2-53.2 1.2-57.6 1.3 61.4 1.3 19.5 1.2 52.5 1.2-105.7 1.3 106.4 1.3 1.8 1.2-87.2 1.2 59.6 1.3-20 1.3 64 1.2-40 1.2 18.9 1.3-23.6 1.3-22.5 1.2 35.7 1.2 8.5 1.3-39.7 1.3 5.7 1.2 7.5 1.2 17.3 1.3-67.9 1.3 6.3 1.2-5 1.2 44.6 1.3-43.9 1.3 57.7 1.2-.9 1.2-36.2 1.3 20.7 1.3 13.9 1.2-22.9 1.2 13 1.3-75.4 1.3 82 1.2-87.3 1.2 53.7 1.3-53.5 1.3 23.7 1.2 37.3 1.2-46.1 1.3 66.2 1.3-15.5 1.2 28.5 1.2-17.1 1.3-10.5 1.3 2.7 1.2-62.2 1.2 106.4 1.3-65.4 1.3 32 1.2-55.6 1.2 32.8 1.3-15.8 1.3 38.1 1.2-46.4 1.2 29.5 1.3-22.6 1.3-3.9 1.2 17.2 1.2-10.6 1.3-37.9 1.3 69.7 1.2-20 1.2-42.8 1.3 39.1 1.3 .9 1.2-1.1 1.2 15.8 1.3-81.6 1.3 45 1.2 49.8 1.2-76.9 1.3 102 1.3-39.6 1.2-63.5 1.2-22.3 1.3 61 1.3-76 1.2 31.8 1.2 24.8 1.3-6.7 1.3 9.1 1.2-24.5 1.2 13.3 1.3-3.1 1.3-18.4 1.2 26.2 1.2-45.6 1.3 4 1.3-59.6 1.2 63.5 1.2-5.3 1.3-16.6 1.3 8.1 1.2 19.2 1.2-55.4 1.3 21.4 1.3-6.6 1.2-20.6 1.2 6.4 1.3 11.2 1.3 13.1 1.2-66.7 1.2 4.4 1.3-42.2 1.3 58.9 1.2-37.5 1.2 43.6 1.3-10.9 1.3 .4 1.2 81 1.2-26.8 1.3-23 1.3-2.5 1.2-1.1 1.2 32.2 1.3-98 1.3 53.5 1.2 47.7 1.2-80.1 1.3 82.6 1.3 28 1.2 6.8 1.2-87.1 1.3 21.2 1.3 23.7 1.2 43.9 1.2 3.6 1.3-22 1.3 36 1.2-2 1.2-21 1.3-3.6 1.3 14.5 1.2-54.3 1.2 16.8 1.3 30.4 1.3 19.7 1.2 61.6 1.2-88.9 1.3 22.2 1.3 .2 1.2 44.8 1.2-95.6 1.3 65.6 1.3 10.6 1.2-31.6 1.2 1 1.3 6 1.3-.7 1.2 3.8 1.2 7.4 1.3-12 1.3-4.6 1.2 3.4 1.2 44.9 1.3-75.2 1.3 47.7 1.2 11.8 1.2-22.1 1.3 1 1.3 71.4 1.2-49.5 1.2-65.2 1.3 50.7 1.3 36.2 1.2-15.5 1.2 26.2 1.3-65.6 1.3 76.5 1.2-39.3 1.2-15.3 1.3 73 1.3-45.5 1.2 22.4 1.2-37.5 1.3 40.6 1.3-64 1.2 11.1 1.2 12 1.3-56.2 1.3 83.8 1.2-28.7 1.2 31.1 1.3-54.5 1.3 1.1 1.2 61.7 1.2-10.7 1.3 16.1 1.3-46 1.2-38.4 1.2 93.6 1.3-25.7 1.3-49.8 1.2 25.5 1.2-20 1.3 17.6 1.3 52.1 1.2 21.8 1.2-57.2 1.3 5.6 1.3-16 1.2 36.4 1.2-63.9 1.3-13.4 1.3 26.9 1.2 60.4 1.2-50.3 1.3 80.3 1.3-126.5 1.2 66.9 1.2-19 1.3-15.2 1.3 50.9 1.2-8.3 1.2 22.1 1.3 1.8 1.3-9 1.2 10.3 1.2-17.9 1.3 12.1 1.3-52.1 1.2 60.2 1.2 10 1.3-22.3 1.3-33.9 1.2 47 1.2 .1 1.3 9 1.3-38.6 1.2 51.2 1.2-57.6 1.3 25.1 1.3-4 1.2-48.6 1.2 61.7 1.3-44 1.3 82.7 1.2-34 1.2-38.8 1.3 38 1.3-29.7 1.2 32.3 1.2 59.6 1.3-108.4 1.3 68.6 1.2 16 1.2-54.1 1.3 10.6 1.3-29.4 1.2 31.8 1.2 20.2 1.3 10.2 1.3-81 1.2 86.4 1.2-71.3 1.3 31.5 1.3 2.6 1.2-45.9 1.2-2.7 1.3 42.9 1.3 13.2 1.2-3.5 1.2-38.8 1.3 21.3 1.3 28.5 1.2-11.7 1.2-17.9 1.3 49.2 1.3-32.8 1.2-28.8 1.2 17.3 1.3-5.5 1.3 30.8 1.2 2.4 1.2 24.4 1.3-12.8 1.3-61.8 1.2 41.6 1.2-3.9 1.3-8.3 1.3-4.5 1.2 .9 1.2-83.9 1.3 86.6 1.3 16.6 1.2 16.8 1.2-26.6 1.3 58.9 1.3-69.3 1.2-.8 1.2 27.2 1.3 1.7 1.3-1.5 1.2 52.7 1.2-98.2 1.3 40.9 1.3-12.1 1.2 48.2 1.2-24.1 1.3-12.9 1.3 9.3 1.2 23.1 1.2-29.9 1.3-29.1 1.3 15.2 1.2-15.8 1.2 33.7 1.3-49.4 1.3 29.1 1.2 44.9 1.2-78.9 1.3 57.5 1.3-9 1.2 19.6 1.2 30.6 1.3-61.7 1.3 29.2 1.2-19.5 1.2 35.6 1.3-47.5 1.3 57.1 1.2-38.6 1.2 56.3 1.3-79.5 1.3 10 1.2 31.1 1.2-28.6 1.3 41.7 1.3-40.9 1.2 27.5 1.2-10 1.3-35.2 1.3 45.6 1.2 1.8 1.2-34.8 1.3 25.3 1.3-10.3 1.2 20.9 1.2-40 1.3-2.3 1.3 10.3 1.2-8.6 1.2 .1 1.3 2.7 1.3 57.2 1.2-5.3 1.2 4.9 1.3-4.7 1.3-12.1 1.2-45.1 1.2 30.9 1.3 36 1.3-21.5 1.2 3.6 1.2 5.9 1.3 16.7 1.3-40 1.2 9.5 1.2-4.1 1.3-4.4 1.3 12.5 1.2-17.8 1.2-21.3 1.3 30.8 1.3 10 1.2-6.6 1.2 9.6 1.3 19.4 1.3-37.8 1.2-9.6 1.2 29.5 1.3-3.2 1.3-9.6 1.2-11.5 1.2 9.2 1.3-23.8 1.3 5.4 1.2 22.8 1.2-15.4 1.3 9.5 1.3-2.2 1.2 21.4 1.2 18.7 1.3-1.6 1.3-18.3 1.2-25.7 1.2 23.4 1.3 2.2 1.3-52.2 1.2-3.7 1.2 49.1 1.3-36.7 1.3 49.3 1.2 4 1.2-11.4 1.3-2.2 1.3 34.8 1.2-36.8 1.2-20.2 1.3 17.6 1.3 21.7 1.2-1.2 1.2 6.4 1.3-38.3 1.3 2.2 1.2-10.5 1.2 23.9 1.3-36.6 1.3 61.6 1.2-52.2 1.2 7.1 1.3 36.3 1.3-.7 1.2-8.1 1.2-2.1 1.3-5.1 1.3 13.5 1.2-6.5 1.2-3.1 1.3-34.3 1.3 36.7 1.2 29.7 1.2-17.7 1.3-48.6 1.3 53.5 1.2 27.7 1.2-52.3 1.3-19.2 1.3 29.8 1.2-4.6 1.2 11 1.3-18.5 1.3 14.2 1.2-9 1.2 13.9 1.3-22.4 1.3 6.3 1.2-1.8 1.2 2.3 1.3-11.8 1.3 43.7 1.2-29.1 1.2 35.8 1.3-36.1 1.3 40.1 1.2-57.1 1.2 19.3 1.3 4.1 1.3 5.7 1.2-8.8 1.2-4.3 1.3-5.4 1.3-11.9 1.2 9 1.2 37.5 1.3 .3 1.3 3.2 1.2-22.1 1.2 39.4 1.3-71.1 1.3 45.8 1.2-8.7 1.2 11.6 1.3-3.9 1.3-9 1.2 3.9 1.2-14 1.3-24.4 1.3 24.7 1.2 16.5 1.2-21.8 1.3 8.5 1.3-1.4 1.2 46.8 1.2-51.5 1.3 8.5 1.3-14.3 1.2 47.6 1.2-30.6 1.3 10.3 1.3-30.1 1.2 11.2 1.2-9.8 1.3 19.4 1.3-2.3 1.2 3 1.2-.3 1.3 2.3 1.3 21.6 1.2-44.2 1.2-6.1 1.3 9.3 1.3 4.6 1.2 21.8 1.2-22.6 1.3 29.9 1.3-48.5 1.2 14.4 1.2-42.6 1.3 40.3 1.3 41.6 1.2-62.5 1.2 29.7 1.3 1.6 1.3 7.5 1.2 9.5 1.2 3.7 1.3-50.1 1.3 25.6 1.2 8.8 1.2-15.7 1.3 4.3 1.3-5.4 1.2 21.3 1.2-20.8 1.3-40.7 1.3 36.4 1.2-.9 1.2 30.4 1.3-9.5 1.3-6.7 1.2-5.3 1.2-4.5 1.3 4.4 1.3 8 1.2-8.3 1.2 36.8 1.3-22.4 1.3-11.2 1.2 4.9 1.2-43.7 1.3 3.1 1.3 50.5 1.2-25.8 1.2 32.5 1.3-23 1.3-5.2 1.2 23.3 1.2 4.1 1.3-17.3 1.3 42.8 1.2-38.7 1.2 20.8 1.3-3.4 1.3 15.8 1.2-17 1.2-15.7 1.3 13.6 1.3-16.7 1.2 8.7 1.2-10.1 1.3 12.3 1.3 3.3 1.2-16.8 1.2 27.7 1.3-22.2 1.3 4.1 1.2-43.9 1.2-2.9 1.3 51.9 1.3-23.4 1.2 15.3 1.2-6.5 1.3 36.6 1.3-34 1.2-6.1 1.2 26.1 1.3-12.1 1.3 20.1 1.2 8.2 1.2-39.9 1.3 41.3 1.3-23.3 1.2-35.6 1.2 27.2 1.3 43.5 1.3-43.3 1.2 14.6 1.2-27.7 1.3-2 1.3 15.2 1.2 8.3 1.2 .3 1.3-25.3 1.3-4.5 1.2 11.3 1.2-8.1 1.3 38.1 1.3-25.8 1.2 8.6 1.2-4.6 1.3-10.5 1.3 11.6 1.2-6.5 1.2 12.5 1.3 4 1.3-5.6 1.2 8.3 1.2-19.1 1.3-4 1.3 31.5 1.2-31.9 1.2-16.4 1.3 32.2 1.3-7.2 1.2-3.3 1.2-6.2 1.3-8.8 1.3 43.9 1.2-31.4 1.2 21.6 1.3 1.6 1.3-18.6 1.2 9.4 1.2-21.3 1.3 40.5 1.3-14.9 1.2-7.7 1.2-24.7 1.3 17.5 1.3 44 1.2-40.8 1.2-26 1.3 4 1.3 30.6 1.2 26.8 1.2-61.2 1.3 38 1.3-13.1 1.2 11.2 1.2 23.1 1.3-71 1.3 33.4 1.2 39.6 1.2-46.9 1.3 26.6 1.3-40.2 1.2 26.9 1.2-32.8 1.3 51.3 1.3-46.9 1.2 32.2 1.2-2.4 1.3-.2 1.3-14.6 1.2-19.8 1.2 60.1 1.3-33.7 1.3-23.8 1.2 64.8 1.2-45.3 1.3 14.1 1.3-8 1.2 1.7 1.2-12 1.3 19.2 1.3 .6 1.2 4.9 1.2-33.4 1.3 22.6 1.3-29.2 1.2 39.8 1.2 13.2 1.3 .3 1.3-41.2 1.2-4 1.2 36.4 1.3-17.4 1.3 9.6 1.2-1.1 1.2 13.3 1.3 1.8 1.3-23.3 1.2 32.5 1.2-.7 1.3-53.8 1.3 36 1.2-19.4 1.2 34.8 1.3-21.1 1.3-24 1.2 41.9 1.2-34.4 1.3 9.4 1.3 17.8 1.2-21.3 1.2 18.6 1.3-21.1 1.3-3.3 1.2-4.6 1.2 20.3 1.3-4.8 1.3-5.7 1.2 1.6 1.2 20.8 1.3-7.6 1.3 1.6 1.2 14.3 1.2-10.9 1.3-34.1 1.3 65.2 1.2-36.7 1.2-6.5 1.3-18.3 1.3 2.4 1.2 7.2 1.2-1.7 1.3 22.5 1.3 28.1 1.2-36.9 1.2 7.4 1.3 7.1 1.3 1.4 1.2-22.1 1.2 14.3 1.3-7.3 1.3-3.6 1.2 6 1.2-27.3 1.3 43.9 1.3-8.7 1.2 19.6 1.2-12.7 1.3-2.6 1.3-26.3 1.2 34.3 1.2-8.1 1.3-.7 1.3-18.7 1.2 18.2 1.2-4.8 1.3-15.9 1.3 33.2 1.2-30.6 1.2-1.5 1.3 14.2 1.3 8.1 1.2-16.8 1.2 13.5 1.3 7.2 1.3-5.8 1.2-1.9 1.2 11.4 1.3-16.8 1.3-7.2 1.2 29.2 1.2-10.4 1.3-16.3 1.3-9.4 1.2 26.7 1.2-13.7 1.3 16.6 1.3-19.6 1.2-6.9 1.2 18.5 1.3-22.8 1.3 18.8 1.2-3.1 1.2-21.9 1.3 25.5 1.3 22.4 1.2-20.3 1.2-4.4 1.3-19.6 1.3 47.2 1.2-53 1.2 40.3 1.3-44.1 1.3 56.6 1.2-25.2 1.2-16.3 1.3 27.4 1.3-13.6 1.2 6.1 1.2 17 1.3-41.7 1.3 27.9 1.2 9.6 1.2-10.4 1.3-17.1 1.3 6.6 1.2 2.7 1.2 15.9 1.3-16.4 1.3 24.7 1.2-31.5 1.2 15.8 1.3-18.1 1.3 16.6 1.2 7.5 1.2-26.3 1.3 35.7 1.3-29.1 1.2 0 1.2 3 1.3 10.6 1.3-3.1 1.2-3.8 1.2 8.7 1.3 8.7 1.3-10 1.2-7.3 1.2 8 1.3-16.7 1.3 21.5 1.2-10.4 1.2-.8 1.3 20.6 1.3-21.6 1.2-2.9 1.2 2.3 1.3 5.2 1.3-23.9 1.2 32.2 1.2-8.4 1.3-1.2 1.3 10.3 1.2-17.7 1.2-10.5 1.3 28.1 1.3-23.6 1.2 21.1 1.2 .6 1.3 2.6 1.3-13.2 1.2-.6 1.2-6.5 1.3 11.3 1.3-1.3 1.2 14.3 1.2-12.4 1.3-8.6 1.3 8.6 1.2-14.5 1.2 24.1 1.3-16.4 1.3-9.7 1.2 10.6 1.2-4.9 1.3 15.7 1.3-2.9 1.2-10.1 1.2 21.7 1.3-16.2 1.3 5.9 1.2-9.5 1.2 22 1.3-18.5 1.3-4.8 1.2 1.3 1.2 7.7 1.3-18.1 1.3 21.4 1.2 18 1.2-32.4 1.3 19.4 1.3-13 1.2 9.9 1.2-2.3 1.3-9.8 1.3 5.7 1.2-13 1.2 13 1.3 4.2 1.3-16.9 1.2 4 1.2-4.6 1.3 5.5 1.3-11.3 1.2 29.8 1.2-60.5 1.3 30.5 1.3-10.1 1.2 21.5 1.2-19.4 1.3 37.2 1.3-16.1 1.2 4.6 1.2-12.1 1.3 11.8 1.3-33.2 1.2 27.5 1.2-12.9 1.3 33.4 1.3-14 1.2 1.7 1.2 4.5 1.3-6.1 1.3 3.8 1.2-23.6 1.2 14.5 1.3 9 1.3-40.6 1.2 24 1.2 5.7 1.3 23.4 1.3-35 1.2 .1 1.2 25.3 1.3-13.3 1.3 14.5 1.2 7.7 1.2-15.8 1.3-4.3 1.3 3.3 1.2-11.9 1.2 12 1.3 8.7 1.3-3.1 1.2-.1 1.2 6.8 1.3-21.2 1.3 22.6 1.2-13.9 1.2 5.4 1.3-10 1.3 7.9 1.2-.4 1.2 9.4 1.3-8.3 1.3-7.8 1.2 11.6 1.2-5.1 1.3 1.3 1.3-1.1 1.2-1 1.2 .9 1.3 1.8 1.3-2.3 1.2 5.5 1.2 .4 1.3 2 1.3-9.1 1.2 2.5 1.2 21.1 1.3-8.5 1.3-3.6 1.2-10.7 1.2-7.5 1.3 7.2 1.3-4.7 1.2 7.2 1.2-6.4 1.3 10.3 1.3 9.8 1.2-3.6 1.2-5.4 1.3 6.2 1.3-11.9 1.2 9.8 1.2 4.4 1.3-25.3 1.3 22.4 1.2-7.7 1.2 17.6 1.3-7 1.3-18.9 1.2 29.5 1.2-19.1 1.3-.5 1.3-4.9 1.2 8.3 1.2-7.6 1.3 17.7 1.3-23.4 1.2-1 1.2-.1 1.3 9.2 1.3 9.1 1.2 .1 1.2-23.1 1.3 26.8 1.3 4.9 1.2-5.6 1.2-9.9 1.3-4.4 1.3 15.9 1.2-17.8 1.2 19.9 1.3-26.4 1.3 15.9 1.2-20.4 1.2 12.8 1.3 13.6 1.3 5.6 1.2-27 1.2 12.9 1.3 0 1.3 6.7 1.2 4.2 1.2-15.4 1.3 4.9 1.3 13.7 1.2-26.8 1.2 17.9 1.3-5.9 1.3 4.1 1.2-20.4 1.2 11.4 1.3 12.2 1.3-15 1.2-.6 1.2 16.3 1.3-2 1.3 .9 1.2-1.1 1.2-26.7 1.3 17.3 1.3-.6 1.2 14.5 1.2 5.7 1.3 3.6 1.3-11.6 1.2-4.2 1.2-5.8 1.3 23.8 1.3-14.8 1.2-7 1.2 2.9 1.3 1.2 1.3-2.3 1.2-3.3 1.2-.4 1.3-3.7 1.3-5 1.2 7.7 1.2 11.1 1.3-17.8 1.3 16.1 1.2-5 1.2 11.7 1.3 3.2 1.3-5.1 1.2-8.6 1.2-7.9 1.3 18.8 1.3-8.7 1.2 14.9 1.2-25.7 1.3 8.5 1.3 8.9 1.2-14.3 1.2 3.8 1.3-1.8 1.3-3.7 1.2 4.8 1.2 5.9 1.3-1.9 1.3 4.8 1.2 5.7 1.2-14.6 1.3 .5 1.3 2.7 1.2 4.7 1.2-14.9 1.3 9 1.3-30.1 1.2 31.8 1.2-4.9 1.3 9.3 1.3-5.4 1.2-12.7 1.2 10.1 1.3 8.8 1.3-7.1 1.2 5.2 1.2-18.3 1.3 17.7 1.3-4.5 1.2 5.6 1.2-8.1 1.3 5.7 1.3-9.2 1.2-4.9 1.2 5.5 1.3 13.6 1.3-1.8 1.2-9.2 1.2-11.2 1.3 7.1 1.3 4.2 1.2-8.3 1.2 20.7 1.3-11.1 1.3 5.7 1.2-2.3 1.2-8.3 1.3 2.9 1.3 12.3 1.2-8.5 1.2-3.9 1.3-4.7 1.3 10.6 1.2-3.7 1.2 4.5 1.3 6.6 1.3-7.3 1.2-1.7 1.2-6.5 1.3 15.7 1.3-17.6 1.2 8.2 1.2 4.3 1.3 2.3 1.3 2 1.2 1.8 1.2-12.7 1.3-1.4 1.3 4 1.2-3.2 1.2-1.3 1.3 20.2 1.3-22.2 1.2 13.2 1.2-12.2 1.3 4.4 1.3 10.9 1.2-15.8 1.2 3.2 1.3 2.9 1.3 1.5 1.2-.3 1.2-1.7 1.3 6.4 1.3 3.9 1.2-2 1.2 8.3 1.3-8.6 1.3-10.5 1.2-7.5 1.2 10.1 1.3-7.7 1.3 1.5 1.2 19.1 1.2-5.8 1.3 3.6 1.3-6.5 1.2-2.1 1.2-10.5 1.3 8.4 1.3 6.3 1.2-10.2 1.2 5.8 1.3-1.2 1.3 6.3 1.2 .7 1.2 5.9 1.3-20.9 1.3 11.4 1.2-2.1 1.2 6.6 1.3-8 1.3 6.3 1.2-17.3 1.2 7.4 1.3 6 1.3-2.5 1.2 17 1.2-5.8 1.3-6.8 1.3 11.5 1.2-9.5 1.2 8.9 1.3-7.8 1.3-4.8 1.2-8.1 1.2 10.1 1.3 4.8 1.3-9.2 1.2 0 1.2 5.2 1.3-.5 1.3-3.8 1.2 8 1.2 6.3 1.3-2.1 1.3-3.7 1.2 1.8 1.2-1.7 1.3 .5 1.3-2.6 1.2-4.6 1.2-8.4 1.3 8.9 1.3-1.9 1.2 2.6 1.2 3.5 1.3-8 1.3 13.7 1.2-2.4 1.2-4.3 1.3 10.5 1.3-11.9 1.2-10.6 1.2 12.7 1.3 3.7 1.3 7 1.2-10.4 1.2 1.3 1.3-4.1 1.3-.1 1.2-2.8 1.2 16.3 1.3-11.9 1.3 2.5 1.2-2.2 1.2-4.4 1.3 3.8 1.3-.5 1.2-11.3 1.2 16.9 1.3-9.6 1.3-4.5 1.2 7.6 1.2 13.4 1.3-8.1 1.3 5.9 1.2-8.1 1.2 3.6 1.3-3 1.3-3.4 1.2 5.9 1.2 .2 1.3-9.4 1.3 .3 1.2-6.9 1.2 3 1.3 9.5 1.3 3.7 1.2-8.2 1.2 .3 1.3 1 1.3 5.9 1.2 1.6 1.2-12.7 1.3 3 1.3 4.2 1.2-13.4 1.2 9.7 1.3 5.3 1.3 3.5 1.2-2.9 1.2-3.4 1.3-7.1 1.3 2.8 1.2 12.3 1.2-7.6 1.3-8.6 1.3 14.1 1.2-3 1.2 7.2 1.3-4.3 1.3-1.5 1.2 4.2 1.2-11.6 1.3-9.2 1.3 1.9 1.2 2.1 1.2 2 1.3-3.1 1.3-2.4 1.2 11.6 1.2 3.2 1.3 1.5 1.3-1 1.2-7.7 1.2-5.1 1.3 9.3 1.3-8.6 1.2 5.8 1.2 5.2 1.3 1.1 1.3-4.1 1.2-5.3 1.2 18.3 1.3-12.9 1.3 8 1.2-12.2 1.2 1.4 1.3 .5 1.3 2.8 1.2 12.1 1.2-12.3 1.3-1.8 1.3 5.9 1.2-6.4 1.2-1.7 1.3 3.5 1.3-.8 1.2-.9 1.2-4.1 1.3-4 1.3 2.5 1.2 9.5 1.2-.8 1.3-3.9 1.3-1.6 1.2 16.2 1.2-8.9 1.3-10.5 1.3 5.9 1.2 5.6 1.2-27.5 1.3 30.5 1.3-4.8 1.2 .7 1.2-2.2 1.3-2.4 1.3 6.8 1.2-4.7 1.2-.6 1.3 .2 1.3-.7 1.2 12.7 1.2-11.1 1.3 .8 1.3 5 1.2-11.1 1.2 12.4 1.3-8.3 1.3-4.4 1.2 2.8 1.2-5.7 1.3 11.5 1.3 1.9 1.2 .2 1.2-3.9 1.3-.4 1.3-2 1.2 3.2 1.2-3.2 1.3-2 1.3 5.8 1.2-11.3 1.2 10.3 1.3-7 1.3-4.4 1.2 7.8 1.2-3.3 1.3 17.8 1.3-19.5 1.2 5.8 1.2 3.3 1.3-3.9 1.3 8 1.2-7.8 1.2 3.7 1.3-6.2 1.3-1.6 1.2 7.2"/>
<clipPath id="cp4"><rect x="306" y="1551" width="1987" height="385"/></clipPath>
<path clip-path="url(#cp4)" d="M302.0 1867.7l1.2-2 1.3-1 1.3 26.1 1.2-6 1.2-20.3 1.3 48.1 1.3-40 1.2-1.7 1.2 6.9 1.3 16.1 1.3-25.7 1.2-16.8 1.2 20.7 1.3 18.3 1.3-14.2 1.2 11.2 1.2-19.4 1.3 45.8 1.3-47.9 1.2 31.1 1.2 4.9 1.3-49.7 1.3 19.5 1.2-2.8 1.2 0 1.3-5.4 1.3 17.6 1.2 20.2 1.2 6.8 1.3-30.7 1.3 7.9 1.2 21.9 1.2-6.9 1.3-29.1 1.3 5.1 1.2 17.2 1.2-5.7 1.3-25.6 1.3 5 1.2 29.6 1.2-29.2 1.3 .1 1.3 10.2 1.2-3.2 1.2-10 1.3 5.3 1.3 6.1 1.2-8.3 1.2 19.5 1.3-46.5 1.3 49 1.2 6.2 1.2-6 1.3-48.6 1.3 26.7 1.2 12.9 1.2 16 1.3-13.7 1.3-4.5 1.2-8.4 1.2 12.6 1.3 1.6 1.3-29.3 1.2 14.5 1.2 41.3 1.3-49.4 1.3 30 1.2 7.3 1.2-13.3 1.3-23.7 1.3 22.7 1.2-19.8 1.2-3.1 1.3-6.6 1.3-6.3 1.2 21.9 1.2-9.7 1.3 7 1.3-5.4 1.2 9.4 1.2-23.7 1.3 33.4 1.3-36.1 1.2 24.7 1.2-11.3 1.3-6.1 1.3 3.7 1.2 10.9 1.2-19.5 1.3 2.2 1.3 32.2 1.2-20.2 1.2 0 1.3-26.7 1.3 11.5 1.2 20.9 1.2-16.1 1.3 27.4 1.3 38.8 1.2-82.4 1.2 38.3 1.3-13.5 1.3-38.3 1.2 56.6 1.2 10.2 1.3-9.6 1.3-6.1 1.2-16.1 1.2 18.2 1.3-7.6 1.3 17.6 1.2-13.4 1.2-5.4 1.3 2.7 1.3-13.9 1.2 5.4 1.2 43.3 1.3-36.6 1.3-43.8 1.2 10 1.2 42.1 1.3-22.9 1.3-.7 1.2-4.1 1.2-7.7 1.3-10.1 1.3 51.9 1.2-14.7 1.2-25.5 1.3 33.4 1.3 .5 1.2-47.6 1.2-14.5 1.3 20.7 1.3 11.4 1.2 25.4 1.2-12.6 1.3-54 1.3 50.9 1.2 3.8 1.2-33.3 1.3 1.4 1.3 15.5 1.2-21.2 1.2 4.1 1.3 22.2 1.3 15 1.2-18.8 1.2-16.9 1.3 17 1.3 12.8 1.2-41.6 1.2 21.5 1.3 45 1.3-52.7 1.2 3.6 1.2-30.8 1.3 15.3 1.3 54.5 1.2-43.8 1.2-9.1 1.3 2.4 1.3-57.9 1.2 80.8 1.2-25 1.3-7 1.3-7.7 1.2 13.6 1.2-5.2 1.3 35.3 1.3-9.4 1.2-3.2 1.2 5.4 1.3-4.1 1.3-9.4 1.2 64.4 1.2-67.4 1.3 29.3 1.3-72.5 1.2 47.7 1.2-38.5 1.3 16.7 1.3 21.4 1.2-29.2 1.2 26.2 1.3 15.8 1.3-32.3 1.2-10 1.2 43.5 1.3-20.1 1.3 10.6 1.2-22.5 1.2 50.4 1.3-10.2 1.3-25.3 1.2 35.7 1.2-34.6 1.3 20.1 1.3-5 1.2-43.9 1.2 28.7 1.3-3.9 1.3-9.1 1.2 6.8 1.2 24.7 1.3-11.7 1.3-16.3 1.2-11.9 1.2 38.6 1.3-20.3 1.3 5.4 1.2 12.6 1.2 .8 1.3-17.3 1.3-3.5 1.2-22.1 1.2-14 1.3 46.2 1.3 2.2 1.2-3.7 1.2-20.3 1.3-52.8 1.3 53.7 1.2-28.3 1.2 33.8 1.3 47.4 1.3-69.8 1.2 9.4 1.2 12.9 1.3 .4 1.3-28.2 1.2 24.1 1.2 3.5 1.3-30.3 1.3 .4 1.2 53 1.2-20.4 1.3 .8 1.3 5.5 1.2-15.7 1.2-13.7 1.3 12 1.3 36.2 1.2-17.3 1.2-27.1 1.3 69.3 1.3-61.8 1.2 1.9 1.2 28.2 1.3-3.6 1.3 38.2 1.2-38.3 1.2 3.6 1.3-40.9 1.3 27.7 1.2-7.3 1.2-14 1.3 17.3 1.3 4.9 1.2-45.8 1.2 70.8 1.3-19.3 1.3-17.1 1.2 15.5 1.2 20.7 1.3-54.6 1.3 20.3 1.2-38.3 1.2 100.2 1.3-52.6 1.3 14.8 1.2-24 1.2 3.3 1.3-11.4 1.3-3.8 1.2 4.9 1.2 24.9 1.3-61.3 1.3 27.8 1.2 21 1.2 1.8 1.3-38.5 1.3 33.1 1.2-20.7 1.2 23.6 1.3 45.5 1.3-59.3 1.2-40.5 1.2 58.3 1.3-7 1.3-15.2 1.2 27.5 1.2-41.4 1.3 10.2 1.3 64.5 1.2-46.3 1.2 21 1.3-4.8 1.3 8.8 1.2-70.6 1.2 7.3 1.3 23.4 1.3-6.5 1.2 60.5 1.2-51.4 1.3-15.8 1.3-48.3 1.2 58.5 1.2 8.8 1.3-8.8 1.3-43.7 1.2 20.6 1.2 33 1.3-59.9 1.3 27.4 1.2 25.7 1.2-30 1.3-22.4 1.3 33.2 1.2-18.7 1.2-35.1 1.3 33.5 1.3 37.2 1.2-41.3 1.2 42.2 1.3-20.6 1.3-4.4 1.2-6.1 1.2 7.4 1.3-9.5 1.3 23.8 1.2-22.5 1.2-42.4 1.3 61.8 1.3-14.9 1.2-4.4 1.2 16.6 1.3-34.3 1.3-3.1 1.2 67.3 1.2-78.9 1.3-5.6 1.3-45.2 1.2 66.3 1.2-40.9 1.3-92.9 1.3 67.5 1.2-19.3 1.2 59.8 1.3 13 1.3-86.9 1.2 5.5 1.2 18.8 1.3 28.8 1.3-10.4 1.2-3.5 1.2 24.1 1.3-49.3 1.3-38.3 1.2 73.3 1.2-17.5 1.3 80.2 1.3-47.2 1.2-9.4 1.2 11.2 1.3 3.4 1.3-10.5 1.2-2.8 1.2 32.2 1.3-33.1 1.3-9.7 1.2 26 1.2 .8 1.3-37.7 1.3 40.4 1.2 13.8 1.2 4.8 1.3 44.9 1.3-60 1.2 17.5 1.2-37.9 1.3 42.4 1.3-37.9 1.2-30.4 1.2 88.2 1.3-47.3 1.3 34.1 1.2 .5 1.2-38.3 1.3 50.8 1.3 36.1 1.2-125.2 1.2 42.8 1.3 19 1.3-12.7 1.2 13.3 1.2-8.3 1.3-22.3 1.3 62 1.2-24.3 1.2 26.9 1.3-18.4 1.3-23.9 1.2-44.9 1.2 85.6 1.3-32.7 1.3 12.4 1.2 3.6 1.2 6.6 1.3-27.4 1.3-3.6 1.2 34.7 1.2-10.7 1.3 66.5 1.3-76.8 1.2-24.7 1.2 65.2 1.3 13 1.3-14.3 1.2-7 1.2-13 1.3-14.8 1.3 42.2 1.2-18.6 1.2-31.2 1.3 47.6 1.3-97.2 1.2 60.8 1.2 21.3 1.3-12.3 1.3 35.1 1.2-35 1.2 43.3 1.3-21.9 1.3-7.4 1.2-11.7 1.2 26.1 1.3-29.6 1.3 23.3 1.2-5.1 1.2 20.9 1.3 17.1 1.3-43.5 1.2 40.5 1.2-10.9 1.3-1.8 1.3-44.3 1.2 35.1 1.2 37.4 1.3-40.3 1.3-44.2 1.2 56.2 1.2-.2 1.3 13.3 1.3-32.3 1.2 35.6 1.2-25.7 1.3 25.8 1.3 11.5 1.2-52 1.2 20.9 1.3 27.3 1.3 5.6 1.2-44.3 1.2 7.4 1.3 23.2 1.3-61.9 1.2 36.2 1.2 18.2 1.3-7.8 1.3 10.2 1.2-20.1 1.2 5.9 1.3 25.7 1.3 53.7 1.2-72.6 1.2 6.7 1.3-8 1.3 7.4 1.2 0 1.2 29 1.3-23 1.3 19.6 1.2 9.5 1.2 16.9 1.3-41 1.3 23.3 1.2-2.1 1.2-31.9 1.3 14.6 1.3-17.9 1.2 6.2 1.2-16.8 1.3 59.8 1.3-38 1.2 14.5 1.2-21.2 1.3 21.5 1.3-35.3 1.2-3.7 1.2-16.1 1.3 43.8 1.3-46.6 1.2 52.2 1.2-7.4 1.3-6.1 1.3 25.3 1.2 9.2 1.2-17 1.3-.2 1.3 14.9 1.2-31.2 1.2-28.7 1.3 26.6 1.3 16 1.2-8 1.2 6 1.3 36.8 1.3-50.8 1.2 9.5 1.2 21.6 1.3-30 1.3 8.6 1.2-36.8 1.2 47.4 1.3 9.2 1.3 9.1 1.2 5.4 1.2-21.1 1.3 19.7 1.3-25.2 1.2 32.8 1.2-29.5 1.3 4.6 1.3 32 1.2-92.2 1.2 46.2 1.3 8.6 1.3-14.8 1.2 15.2 1.2-20.1 1.3 37.3 1.3-25.3 1.2 26.8 1.2 1 1.3-10.8 1.3 11.3 1.2 6.2 1.2-57.1 1.3 27.7 1.3 21.5 1.2 26.7 1.2-64.9 1.3 77.6 1.3-48.1 1.2-30.8 1.2 17.5 1.3 2 1.3 7.5 1.2-13.1 1.2 37.8 1.3-12.9 1.3 30 1.2-28.8 1.2 2.1 1.3-1.9 1.3 16.4 1.2 8.5 1.2-5.4 1.3-43.1 1.3 57.6 1.2-27.9 1.2 11.2 1.3-10.8 1.3 18.4 1.2-15.8 1.2 11.1 1.3-31.8 1.3 25.4 1.2-.7 1.2 11.9 1.3-2.1 1.3-16.1 1.2 10.5 1.2-4.8 1.3 11.9 1.3-9.6 1.2 .5 1.2 18.4 1.3-52.3 1.3 5.8 1.2-8 1.2 25.4 1.3 48.9 1.3-46.8 1.2-16.5 1.2 11.8 1.3 4.9 1.3 6.1 1.2-60.4 1.2 37.6 1.3 14.2 1.3 20.1 1.2 .1 1.2-13.5 1.3-6.9 1.3 21.4 1.2 .1 1.2-12.5 1.3-14.8 1.3 17.7 1.2-36.2 1.2-1.5 1.3 50.1 1.3-26 1.2 16.5 1.2-25.9 1.3 35.7 1.3-26.6 1.2-27.8 1.2 46.4 1.3 11.8 1.3-26.8 1.2-1.8 1.2-2.8 1.3-2.1 1.3-1.8 1.2 2.7 1.2 10.4 1.3 10 1.3-11.6 1.2-17.3 1.2 20.9 1.3 14 1.3-6.6 1.2 6.2 1.2-12.1 1.3-5.1 1.3-7.6 1.2-40.4 1.2 45.1 1.3 19.7 1.3-22.7 1.2 43.5 1.2-30.9 1.3 22.4 1.3-31 1.2 20.4 1.2-3.5 1.3-1.8 1.3 16.4 1.2-41.2 1.2-3.7 1.3 54.1 1.3-41.4 1.2 22.8 1.2-12.7 1.3 18.9 1.3-15.5 1.2-31.7 1.2 24.1 1.3-7.7 1.3 22 1.2-25.5 1.2 12.4 1.3 31.8 1.3-18.5 1.2-9.9 1.2 9.2 1.3-4.9 1.3 1.5 1.2-35 1.2 22.3 1.3 16.9 1.3-22 1.2 36.9 1.2 14 1.3-74.9 1.3 30.5 1.2 9.4 1.2-26.4 1.3-18.3 1.3 52.4 1.2 14.2 1.2-33.7 1.3-12.2 1.3 41 1.2 14.3 1.2 1.6 1.3-25 1.3-18 1.2 11.9 1.2 13.6 1.3-11 1.3-22.9 1.2 18 1.2 24.9 1.3-21.9 1.3 9 1.2-4.4 1.2-9.5 1.3 35.8 1.3-44.8 1.2 9.1 1.2 49.2 1.3-77.6 1.3 34.9 1.2-5.1 1.2 4.2 1.3 10.6 1.3 .6 1.2 15.6 1.2-7.2 1.3-7 1.3-1.7 1.2-16.9 1.2-2.1 1.3 15.3 1.3 3.7 1.2 11.4 1.2-4.2 1.3-9.4 1.3 4.5 1.2-15.9 1.2 12 1.3 16 1.3-22.6 1.2 7.2 1.2-5.6 1.3-2.5 1.3 9.7 1.2 13.9 1.2-24.8 1.3-7.3 1.3 9.2 1.2 22.5 1.2-16.8 1.3-18 1.3-4.1 1.2-1 1.2-3.8 1.3 16 1.3-4.4 1.2-2.3 1.2 21.6 1.3-14.1 1.3 16 1.2-28.2 1.2 10.8 1.3-7.9 1.3-8.1 1.2 39.6 1.2-31.8 1.3-4.6 1.3 42 1.2-37.2 1.2 37.9 1.3 7.4 1.3-47 1.2 12.8 1.2 11.1 1.3-11.3 1.3 15.5 1.2-22.6 1.2-4.6 1.3 4.4 1.3-1.4 1.2 7 1.2 16.3 1.3-29.1 1.3 37.1 1.2-25 1.2-19.5 1.3 13.6 1.3 4.9 1.2-7.5 1.2 19 1.3-5.1 1.3-4 1.2-25.5 1.2 22 1.3 29.5 1.3-40.9 1.2-20.9 1.2 12 1.3 37.3 1.3-49 1.2 57.7 1.2-32.6 1.3-1.1 1.3 41.8 1.2-4.7 1.2-20 1.3-33.4 1.3 20 1.2 18.1 1.2-9.5 1.3-2.2 1.3-12.7 1.2 25.6 1.2-13.9 1.3 25 1.3-22.9 1.2-22.5 1.2 49.9 1.3-24.5 1.3-8.4 1.2 17.3 1.2-3 1.3-4.6 1.3 2.3 1.2-32.4 1.2 33.1 1.3-41.7 1.3 23.7 1.2 2.2 1.2 1.2 1.3 13 1.3 .2 1.2 3.8 1.2-10.7 1.3-25.6 1.3 56.6 1.2-50.9 1.2 7.6 1.3-7.7 1.3 1.9 1.2 22.6 1.2 0 1.3 10.8 1.3-8 1.2-37.9 1.2 62.5 1.3-28.5 1.3-.1 1.2 34.8 1.2-44.8 1.3 8.5 1.3 15.6 1.2-.7 1.2-17.8 1.3-13.5 1.3 20.6 1.2 7.8 1.2-.7 1.3-24.7 1.3 25.3 1.2-11.9 1.2-.6 1.3-27.1 1.3 14.3 1.2 12.3 1.2 21 1.3 16.4 1.3-5.7 1.2-21 1.2-5.2 1.3 13.3 1.3 .2 1.2-24.3 1.2-13.5 1.3 31.8 1.3-18.5 1.2 26 1.2-13.8 1.3 10.1 1.3 3 1.2-16.9 1.2 1.3 1.3-9.5 1.3-19.4 1.2 42.8 1.2-25.9 1.3 26.3 1.3 11.3 1.2-49.8 1.2 38.8 1.3-48.5 1.3 36.2 1.2-21.5 1.2 .1 1.3-10.3 1.3 26.7 1.2-.4 1.2-10.2 1.3 9.1 1.3-21.3 1.2 19 1.2 11.1 1.3 3.7 1.3-43.8 1.2 48.7 1.2 8.7 1.3 1.2 1.3-34.4 1.2 7.1 1.2-21.3 1.3 14.1 1.3 18.9 1.2-19.6 1.2 6.9 1.3 5.2 1.3 17 1.2-9.6 1.2-5.1 1.3 12.3 1.3-19.6 1.2 28.6 1.2-7.1 1.3-.8 1.3-15 1.2 19.9 1.2-.6 1.3-10.6 1.3 .3 1.2 1.7 1.2-.4 1.3-13.2 1.3-3.2 1.2 25.6 1.2-10.4 1.3 1.4 1.3-31.3 1.2 29.4 1.2-15.2 1.3 8.1 1.3 19.8 1.2-18.3 1.2-9.4 1.3-1.5 1.3 35.7 1.2-3.8 1.2-24.9 1.3 5.3 1.3-1.9 1.2 26.1 1.2-18.8 1.3 6 1.3-2.8 1.2 1.1 1.2 2 1.3-10 1.3-5.7 1.2-12.2 1.2-1.3 1.3 25.7 1.3-3.5 1.2-4.9 1.2-3.7 1.3 3.3 1.3-27.6 1.2 55.8 1.2-16.6 1.3-6.5 1.3-2.5 1.2 4.1 1.2-5 1.3-3.1 1.3 4.9 1.2-11.2 1.2 19.6 1.3 10.1 1.3-25.3 1.2 8.4 1.2-25 1.3 17.5 1.3-8 1.2 5.2 1.2 26.9 1.3-32.7 1.3 11.9 1.2 19.3 1.2-16.4 1.3-2.6 1.3 14.2 1.2-26.7 1.2 30 1.3 1.8 1.3-17.6 1.2 2.2 1.2 8.9 1.3 11.9 1.3-44.2 1.2 15.8 1.2 15.5 1.3-30.9 1.3 21.8 1.2-37.4 1.2 47.1 1.3 1.8 1.3-17.2 1.2 18.1 1.2-29.1 1.3-1.7 1.3 11.4 1.2-2.6 1.2 13.2 1.3 2.5 1.3 9 1.2-12.5 1.2-11.9 1.3 18.3 1.3-1.6 1.2-17.6 1.2-20.2 1.3 38.3 1.3-3.6 1.2 17.1 1.2-14.1 1.3-21.7 1.3 25.8 1.2-9.2 1.2 5.7 1.3 20.4 1.3-26.9 1.2 6.1 1.2-6.4 1.3 13.7 1.3 4.2 1.2-12.4 1.2 3.6 1.3-1.5 1.3-4.1 1.2 23.5 1.2-23.9 1.3 1 1.3 1.1 1.2 16.1 1.2-11.7 1.3-14.6 1.3 5.7 1.2 16.8 1.2-2.4 1.3 3 1.3 .3 1.2 0 1.2-20.4 1.3 18.3 1.3-9.6 1.2-2.3 1.2 16.1 1.3-14.7 1.3-9 1.2-22.8 1.2 50.1 1.3 6.6 1.3-14.2 1.2-10.6 1.2-5 1.3 14.5 1.3-1.4 1.2-3.6 1.2-4.4 1.3 7.1 1.3 13.2 1.2-46.9 1.2 23.9 1.3 19 1.3 7.5 1.2 4 1.2-27.5 1.3 3 1.3 30 1.2-42.7 1.2 27.4 1.3-26 1.3 26.5 1.2-7.5 1.2-24.8 1.3 27.4 1.3 2.1 1.2-12.4 1.2 1.6 1.3-2.2 1.3-1.1 1.2 .6 1.2 2.6 1.3-6.9 1.3-3.8 1.2 14.4 1.2-1.5 1.3-3.8 1.3 16.3 1.2 5.2 1.2-20.7 1.3 7.5 1.3-5.6 1.2 15.5 1.2-4.7 1.3-15.7 1.3-2.8 1.2 18.1 1.2 5.4 1.3-8 1.3-4.4 1.2-.5 1.2-2.7 1.3 10.8 1.3 1.1 1.2 1.2 1.2-4.8 1.3-16.3 1.3-.5 1.2 6.6 1.2-4.8 1.3 8.3 1.3-16 1.2 12.8 1.2-25.7 1.3 14.5 1.3 2.8 1.2 14.2 1.2 1.6 1.3-4.5 1.3-2.2 1.2 16.5 1.2-14.9 1.3-5.8 1.3-3.3 1.2-5.6 1.2 24.4 1.3 4.1 1.3-10.7 1.2-15.2 1.2 6.3 1.3 3.2 1.3 11.5 1.2-5.3 1.2-3 1.3 1.5 1.3 11.5 1.2-15.9 1.2 .2 1.3 12.6 1.3-13.3 1.2-6.6 1.2 4.3 1.3 11.7 1.3-13.4 1.2 11.2 1.2-18.9 1.3 36.8 1.3-16.1 1.2-7.1 1.2 8.1 1.3-10.9 1.3 12.2 1.2-11.1 1.2-.3 1.3-4 1.3 17 1.2-11.4 1.2 3.4 1.3 13.9 1.3-12.2 1.2 5.2 1.2-3.7 1.3 9.3 1.3-5.7 1.2-9.7 1.2 .7 1.3-.4 1.3-5.2 1.2 7 1.2 6.3 1.3-4.7 1.3-15.7 1.2 2.5 1.2 25.3 1.3-23.4 1.3 20.2 1.2-1.9 1.2 12.2 1.3-9.7 1.3-31.2 1.2 18.2 1.2 8.5 1.3 6 1.3-5.1 1.2-8.9 1.2 .1 1.3 21.2 1.3-3.3 1.2-13.2 1.2 4.1 1.3-1.2 1.3-5.9 1.2 7.2 1.2 10 1.3-14.9 1.3 7.5 1.2-28.7 1.2 14.7 1.3 20 1.3-12.9 1.2-8.8 1.2 21.6 1.3 4.2 1.3-21.6 1.2 14.9 1.2-22.4 1.3 6.4 1.3 23 1.2-18 1.2 10 1.3-4.5 1.3-12 1.2 12.7 1.2-6.6 1.3-8.7 1.3 .1 1.2 24.1 1.2-14.2 1.3 8 1.3 10.1 1.2-8.3 1.2-10.3 1.3-.2 1.3-2.7 1.2-1 1.2 7.5 1.3-2.7 1.3 5.9 1.2-9.5 1.2 10.8 1.3-13.6 1.3 9.1 1.2-7.1 1.2 16.6 1.3-7.2 1.3 13 1.2 3.6 1.2-32.2 1.3 26.1 1.3-25.2 1.2 22.3 1.2-1.3 1.3-2.7 1.3-9.8 1.2 15.5 1.2-8 1.3-5.3 1.3-11.1 1.2 18.5 1.2 6.6 1.3-4.5 1.3 6.9 1.2 2.8 1.2-24.9 1.3 6.2 1.3 10.5 1.2-14.3 1.2-1.5 1.3 19.3 1.3-10.5 1.2-2.7 1.2 6.7 1.3-12.7 1.3 13.2 1.2-2 1.2-5 1.3 7.2 1.3-5.9 1.2-7.2 1.2-14.7 1.3 30.3 1.3-4.7 1.2-17.8 1.2 22.7 1.3 .7 1.3-5.6 1.2-15.1 1.2 13.5 1.3 3.9 1.3 8.5 1.2-11.3 1.2 4.2 1.3-10.2 1.3 7.9 1.2 3.7 1.2-4.5 1.3-.9 1.3-12.7 1.2 6.2 1.2 1.4 1.3-1.7 1.3 8.5 1.2 8.7 1.2-8.4 1.3-21.3 1.3 15.2 1.2-14.8 1.2 28 1.3 1 1.3-16 1.2-1.5 1.2 15.6 1.3-4.8 1.3 11.3 1.2-20.6 1.2-.8 1.3-3.3 1.3 13.1 1.2-2.2 1.2-6.9 1.3-6.2 1.3 10.5 1.2 4.1 1.2-10.5 1.3 14.9 1.3 9.4 1.2-6.5 1.2-11.8 1.3 10.2 1.3-10.5 1.2-.7 1.2 9.7 1.3-12.3 1.3-9.4 1.2 8.4 1.2 4.6 1.3 1.7 1.3 3.1 1.2 6.9 1.2-7.1 1.3-1.8 1.3 4 1.2 5.3 1.2-14.3 1.3 8.3 1.3-9.4 1.2-10.9 1.2 10.2 1.3 6.5 1.3 9.2 1.2-14.8 1.2 3.5 1.3-2.8 1.3 5.7 1.2-6.9 1.2 6.5 1.3 7.3 1.3-16.2 1.2 20 1.2-12.8 1.3 10.5 1.3-18.1 1.2 12.2 1.2 7 1.3-17 1.3-9.3 1.2 15.3 1.2-2.2 1.3 1.5 1.3-4.3 1.2 9 1.2 2.4 1.3-7.6 1.3-4.3 1.2 5.8 1.2-3.8 1.3 4.7 1.3 5.1 1.2 2.5 1.2 3.7 1.3-13 1.3 5.8 1.2-7 1.2 1.8 1.3-3.7 1.3-3.1 1.2 .7 1.2-1.7 1.3 .3 1.3 2.6 1.2 5.3 1.2 .7 1.3 1.2 1.3 0 1.2-5.5 1.2 10 1.3 0 1.3-8 1.2-41.7 1.2 47.2 1.3-3.1 1.3-9.7 1.2 2.9 1.2 6.1 1.3-.1 1.3 1.8 1.2-12.3 1.2 19.3 1.3-13.4 1.3 8.2 1.2-3.7 1.2-8.9 1.3 24.1 1.3-6.8 1.2 8 1.2-17.3 1.3 6 1.3-10.7 1.2 12.7 1.2 5.5 1.3-8.9 1.3 9.6 1.2-7.3 1.2-8.9 1.3 7.6 1.3-3.4 1.2 7.8 1.2-4.5 1.3-3.9 1.3 5.6 1.2 6.7 1.2-18.8 1.3 6.2 1.3 6.4 1.2 2.3 1.2-9.5 1.3-6.2 1.3 13 1.2-12.9 1.2 18.7 1.3-.3 1.3-8.4 1.2-.6 1.2 7.6 1.3-3 1.3-3.9 1.2 9 1.2-9.9 1.3 4.8 1.3-1 1.2 4.5 1.2 3.3 1.3-2.9 1.3-14.9 1.2-3.6 1.2 14.5 1.3 2.2 1.3-.4 1.2-7.1 1.2-9.5 1.3 11.1 1.3 1.6 1.2 .6 1.2-2.7 1.3 8 1.3-3.2 1.2-5.4 1.2 6.9 1.3-13.4 1.3 8.9 1.2 9.2 1.2-7.6 1.3-4.1 1.3 7.8 1.2-1.6 1.2 6.9 1.3-9.3 1.3-1.8 1.2 2.9 1.2-2.6 1.3-5.1 1.3 4.3 1.2-4.8 1.2 8.9 1.3-.1 1.3-3.6 1.2-1.5 1.2 2.7 1.3-2.4 1.3-1.4 1.2 12.3 1.2-2.1 1.3-2.1 1.3-8.8 1.2 10.7 1.2-9.8 1.3 7.6 1.3-14.5 1.2 12.5 1.2-1.7 1.3-2.9 1.3 6.5 1.2 1.1 1.2-7.3 1.3 1.7 1.3-.1 1.2-.9 1.2-8.2 1.3-.7 1.3 17.9 1.2-6.1 1.2 2.5 1.3 2.2 1.3-10.7 1.2 7.4 1.2-6.7 1.3-5.3 1.3 16.9 1.2-4.6 1.2 2.6 1.3-8.4 1.3-8.9 1.2 13.3 1.2 9.3 1.3 2 1.3-17.7 1.2 5.9 1.2 4.2 1.3 7.7 1.3-10.3 1.2-3.6 1.2 1.5 1.3 .4 1.3 4.3 1.2 6.1 1.2-11.8 1.3-4.1 1.3-1 1.2 1.9 1.2 6.3 1.3-2.8 1.3-6.7 1.2 9.1 1.2-4 1.3-1.5 1.3 11.4 1.2-4.9 1.2-4.7 1.3-7.2 1.3 17.9 1.2-15.8 1.2 6.3 1.3 9 1.3-8.2 1.2 3 1.2-10.3 1.3 3.6 1.3 5.8 1.2-6.5 1.2 1.7 1.3-6.1 1.3 4.3 1.2 2.5 1.2 3.5 1.3-4.2 1.3 7.4 1.2-15.8 1.2 15.6 1.3 .7 1.3-2.4 1.2 1.2 1.2-2.7 1.3 3.2 1.3-1.2 1.2 3.1 1.2-7.7 1.3-3.5 1.3 6.4 1.2-5.3 1.2-.4 1.3 9 1.3 2.2 1.2-9 1.2-5.3 1.3 7.8 1.3-11.1 1.2 11 1.2-.1 1.3 5.7 1.3 5.5 1.2-12.9 1.2 3.7 1.3-3.8 1.3 7 1.2-5.6 1.2-.4 1.3-7.3 1.3 14.6 1.2-8.1 1.2 8.3 1.3-7.2 1.3 3.6 1.2 2.6 1.2-12.8 1.3 3.1 1.3-3.9 1.2 2.4 1.2 5.5 1.3-9.3 1.3 3.8 1.2 1.1"/>
<clipPath id="cp5"><rect x="306" y="1931" width="1987" height="385"/></clipPath>
<path clip-path="url(#cp5)" d="M302.0 2241.3l1.2-5.8 1.3-2 1.3 11.4 1.2 13.8 1.2-17.4 1.3-21.6 1.3 30 1.2-51.4 1.2 40.5 1.3 28.8 1.3 10.3 1.2-28.4 1.2 5.7 1.3-36.5 1.3 43.2 1.2-42.1 1.2 21.8 1.3 8.1 1.3-15.8 1.2-20.3 1.2 28.8 1.3 9 1.3-41.7 1.2 25.3 1.2 23.8 1.3 5.8 1.3-5 1.2-15.3 1.2 .2 1.3-8.8 1.3 30.8 1.2-54.7 1.2 22.5 1.3 7.4 1.3-6.3 1.2-26.6 1.2 23.6 1.3-.4 1.3-16.8 1.2 8 1.2 10.8 1.3-16.7 1.3 15.5 1.2 27.8 1.2-49.9 1.3 15.5 1.3 28.6 1.2-41.5 1.2 2.2 1.3 18.2 1.3-10 1.2 30.3 1.2-21.6 1.3 14.1 1.3-41.2 1.2-14.4 1.2 60.9 1.3-30.7 1.3-11.6 1.2 27 1.2-18.6 1.3 52.6 1.3-68.4 1.2 23.5 1.2-27.6 1.3-27.3 1.3 102.3 1.2-42.9 1.2 10.9 1.3 3.7 1.3-42.2 1.2-8.8 1.2 37.5 1.3-34.7 1.3 72.4 1.2-4.7 1.2-43.5 1.3-18.7 1.3 21.3 1.2-56.4 1.2 85 1.3-2 1.3-16.3 1.2-16 1.2 1.1 1.3-14.4 1.3 18.9 1.2-30.5 1.2 7.9 1.3 7.6 1.3 29.7 1.2-13.1 1.2-4.1 1.3-19.9 1.3 13.4 1.2-6.3 1.2-3.4 1.3 4.7 1.3 43.1 1.2-82.7 1.2 71.1 1.3-52 1.3 40.3 1.2-18.8 1.2-8.2 1.3 10.3 1.3-.3 1.2 13.4 1.2 45.1 1.3-60.1 1.3 35.8 1.2-76.6 1.2 49.5 1.3 30.8 1.3-18.2 1.2 7.4 1.2-34.4 1.3 26 1.3 20.7 1.2-40 1.2-1.6 1.3-31.6 1.3 43.4 1.2 25 1.2-34.4 1.3-15.5 1.3-.5 1.2 4.5 1.2 50.9 1.3-33.6 1.3 9.2 1.2-65.2 1.2 48.6 1.3 5.3 1.3-6.6 1.2-66.8 1.2 93.6 1.3-33.1 1.3-24.4 1.2 50.6 1.2-34.3 1.3 16.5 1.3 15.7 1.2-38 1.2 16.3 1.3-40.3 1.3 29.8 1.2-21 1.2 43.3 1.3 2.3 1.3-44.1 1.2-21.3 1.2 3 1.3-22.7 1.3 80 1.2 3.7 1.2-11.4 1.3-2 1.3-15.9 1.2 32.5 1.2-19.1 1.3 28.2 1.3-96 1.2 34.8 1.2 81.3 1.3-28.1 1.3-8.1 1.2-1.7 1.2 7.5 1.3-10.2 1.3-33.9 1.2 3.3 1.2-1.5 1.3 3.4 1.3-29 1.2 34.2 1.2 16.6 1.3-18.5 1.3 28 1.2 16.3 1.2-83.4 1.3 39.6 1.3 50.7 1.2-30.4 1.2-.7 1.3 6.8 1.3 5.5 1.2-34.9 1.2 28 1.3-66.4 1.3 61.3 1.2-16.4 1.2 3.1 1.3-28.3 1.3 3.4 1.2 58.1 1.2-13.6 1.3-48.4 1.3-12.7 1.2 64.7 1.2-12.7 1.3-14.5 1.3 21.7 1.2-50.3 1.2 17.3 1.3-5.6 1.3 1.8 1.2-20.3 1.2 35.6 1.3-32.9 1.3 5 1.2 47.1 1.2-56.4 1.3 38.8 1.3-4.5 1.2 46.1 1.2-61.3 1.3-74.8 1.3 53.7 1.2 38.6 1.2 10.6 1.3-82.3 1.3 73.2 1.2 3.8 1.2 20.8 1.3-13.1 1.3-36.9 1.2 .5 1.2 28.3 1.3 5.2 1.3-2.9 1.2-2.9 1.2 14.4 1.3-26.7 1.3-20.6 1.2 67.9 1.2-33.4 1.3-23.1 1.3-1.9 1.2 36.6 1.2 12.4 1.3-46.3 1.3-32.6 1.2 54.6 1.2-4.5 1.3 5 1.3 36.5 1.2-22.8 1.2 .8 1.3 7.4 1.3-40.2 1.2 79.8 1.2-45.5 1.3-5.3 1.3-15.8 1.2-4.3 1.2 39.2 1.3-56.1 1.3 7.6 1.2-.7 1.2 24.3 1.3 4.7 1.3-65.1 1.2 54.1 1.2-15.8 1.3-28.8 1.3 2.5 1.2 81.8 1.2-100.6 1.3-.4 1.3 46.6 1.2 3.7 1.2 1.1 1.3-5.1 1.3-40.8 1.2 59.3 1.2-59.7 1.3 32.9 1.3 39.4 1.2-24.6 1.2-40.4 1.3 29.4 1.3-5.5 1.2-39 1.2 51.7 1.3 16.1 1.3-21.4 1.2 31.6 1.2-54.5 1.3 27 1.3 14.6 1.2-62.3 1.2-12.5 1.3-6.3 1.3 85.8 1.2-33.9 1.2 4.6 1.3-59.7 1.3 96.1 1.2-38.4 1.2-12.1 1.3 18.1 1.3 9.3 1.2-90.6 1.2 95.3 1.3-10.1 1.3 21.2 1.2 5.1 1.2-62.1 1.3 20.8 1.3 16.4 1.2-28.3 1.2 7.9 1.3-1.2 1.3 12.7 1.2-28.4 1.2 46.3 1.3-86.8 1.3 59.2 1.2 3.6 1.2-47.8 1.3 35.9 1.3-22.6 1.2-14.2 1.2 1.3 1.3 6.7 1.3 18.6 1.2 9 1.2 7.4 1.3-42.3 1.3-46.8 1.2 99.5 1.2-14.7 1.3 46.4 1.3-49 1.2-73.6 1.2 42.9 1.3 85.1 1.3-95.9 1.2-12.6 1.2-9.8 1.3 48.4 1.3-38 1.2 11.1 1.2-68 1.3 54.7 1.3-35.6 1.2 11 1.2-3 1.3 22.4 1.3-18.7 1.2-9.2 1.2-37.8 1.3 18.6 1.3 6.4 1.2 23.1 1.2 49.9 1.3-40.5 1.3 .7 1.2 114.7 1.2-84.2 1.3-20.3 1.3-8.8 1.2-4.3 1.2 101.3 1.3-55.7 1.3-18.7 1.2-86 1.2 40 1.3 64.3 1.3 9.4 1.2 .2 1.2 16.6 1.3-41.1 1.3 4.5 1.2 11.1 1.2 49.8 1.3-59.3 1.3-9.3 1.2 23.8 1.2-4.4 1.3 4.6 1.3 33.4 1.2-29 1.2 11.1 1.3-25.9 1.3 20.2 1.2 7.8 1.2 6.4 1.3 24.7 1.3-10.5 1.2 16 1.2-59.5 1.3 27.8 1.3-8.3 1.2 55 1.2-33.5 1.3-9.4 1.3 19.1 1.2-84.2 1.2 73.9 1.3-18.5 1.3 7.7 1.2 33.4 1.2-54.2 1.3 39.4 1.3-31.6 1.2 31.9 1.2 31.8 1.3-45.4 1.3 55.8 1.2-46 1.2 26 1.3 .7 1.3-10 1.2 .3 1.2 28.4 1.3-82.6 1.3 63.7 1.2-26.3 1.2 24.4 1.3-25.6 1.3 65.9 1.2-107.8 1.2 47.3 1.3-11.4 1.3 19.1 1.2-15.4 1.2 46.7 1.3-63 1.3 60.1 1.2-41.2 1.2-21.3 1.3 59.5 1.3-27.5 1.2-10.5 1.2 25.7 1.3-58.7 1.3 62.4 1.2 8.5 1.2 3.2 1.3-52.3 1.3 51.3 1.2 2 1.2-31.8 1.3 10.9 1.3-62.6 1.2 66.1 1.2-11.1 1.3-6.1 1.3 .4 1.2 10.1 1.2 .7 1.3-3.4 1.3 6.2 1.2-13.4 1.2 23.9 1.3-2.1 1.3 48 1.2-22 1.2-14 1.3-2 1.3-29.3 1.2 10.3 1.2-31.1 1.3 31.7 1.3-27.7 1.2 7.8 1.2 38.9 1.3-34 1.3 55.1 1.2-14.2 1.2-5.9 1.3-7.5 1.3-72.2 1.2 118.2 1.2-66.7 1.3 11.9 1.3 10.2 1.2 47.4 1.2-69 1.3-15.2 1.3-.5 1.2 66.4 1.2-9.7 1.3-3.2 1.3-35.9 1.2 31.2 1.2-8.6 1.3 3.6 1.3 14.8 1.2 32 1.2-71 1.3-14.7 1.3 6 1.2 49.9 1.2 8.2 1.3-36 1.3 22.6 1.2-29.1 1.2 47.6 1.3-5.6 1.3-28.4 1.2-2.4 1.2 2.8 1.3-26.2 1.3 74.7 1.2-40.2 1.2-2.3 1.3 52.1 1.3-35.3 1.2-42.7 1.2 8.4 1.3 58.3 1.3-24.8 1.2 8.7 1.2-26.3 1.3-42.9 1.3 50 1.2-55.5 1.2 11.6 1.3 32.4 1.3 14.4 1.2 23.2 1.2-26.4 1.3-27.1 1.3 52.9 1.2-55.4 1.2 23.9 1.3 2.6 1.3 10.9 1.2-30.6 1.2 73.6 1.3-29.1 1.3-19.2 1.2 47.7 1.2-26.4 1.3 24 1.3-38.9 1.2 11 1.2 10.9 1.3 52.5 1.3-62.6 1.2 4.5 1.2 12.5 1.3-40.2 1.3 26.8 1.2 26.4 1.2-11 1.3-13.6 1.3-25.2 1.2 36.1 1.2-19.2 1.3 4.9 1.3 4 1.2-51.4 1.2 52.1 1.3-7.3 1.3 29.6 1.2-24.9 1.2-15.6 1.3 23.3 1.3-.2 1.2-6.2 1.2 3 1.3 1.3 1.3-5.8 1.2-13.1 1.2 25.9 1.3 14.1 1.3-50.1 1.2 .9 1.2 25.4 1.3-19.9 1.3-29.8 1.2 48.6 1.2 4.5 1.3 26.6 1.3-47.8 1.2 41.5 1.2-9.8 1.3-5.1 1.3 3.1 1.2-13 1.2-15.9 1.3 23.4 1.3 .8 1.2-40.9 1.2-13 1.3 45.5 1.3-3.9 1.2 49.9 1.2-84.9 1.3 50.6 1.3-58.4 1.2 52.4 1.2-17.5 1.3-26.2 1.3 55.9 1.2-56.6 1.2 36.8 1.3 7.5 1.3 1.7 1.2-2.9 1.2-52.4 1.3 63.5 1.3 .4 1.2-49.6 1.2 34.5 1.3 5.4 1.3 33 1.2-9.6 1.2-47.3 1.3 35.5 1.3-30.6 1.2-13.8 1.2 19.1 1.3 21.1 1.3-3.1 1.2-30.2 1.2 1 1.3 18.9 1.3-11 1.2 29.3 1.2 3.3 1.3-6.4 1.3-7.2 1.2 27 1.2-20.8 1.3-53.7 1.3 57.8 1.2-21.5 1.2 29.6 1.3 .9 1.3-.5 1.2-43.4 1.2 40 1.3-61.5 1.3 44 1.2-10.5 1.2 12.5 1.3 12.7 1.3-40.4 1.2 32.6 1.2 4.2 1.3-42.6 1.3 38.4 1.2-28.4 1.2 45.9 1.3-50.8 1.3 27.8 1.2-41.6 1.2-5.1 1.3 93.3 1.3-51 1.2 9.9 1.2 16.2 1.3-58.5 1.3-6.7 1.2 22.3 1.2-11.8 1.3 21 1.3-11.8 1.2 36 1.2-8.5 1.3-24.1 1.3 22.6 1.2-11.5 1.2 1.4 1.3-4.9 1.3-35.7 1.2 6.2 1.2-6.4 1.3 16.4 1.3 8.2 1.2 5.1 1.2-43.4 1.3 85.6 1.3-15.4 1.2-3.3 1.2-7.3 1.3 23.2 1.3-25.5 1.2 9.3 1.2-1 1.3-12.7 1.3 5.2 1.2-13.2 1.2 23.8 1.3-46 1.3 13.8 1.2 12 1.2 6.8 1.3-6 1.3 27.5 1.2-62.7 1.2 40.3 1.3 13.3 1.3 9 1.2-6.6 1.2-38.6 1.3 39.8 1.3 14.9 1.2-26.3 1.2 30.6 1.3-20.2 1.3-12.8 1.2 8.2 1.2 2.6 1.3 17.2 1.3-15.8 1.2 8.1 1.2-18.6 1.3-6.2 1.3 64.1 1.2-42.6 1.2-9.8 1.3-7.8 1.3-4.7 1.2 23.6 1.2-13.6 1.3 33.6 1.3-10.1 1.2-10 1.2-32.8 1.3 37 1.3 8.5 1.2 17.1 1.2-35.8 1.3-4.9 1.3-6.4 1.2 41.8 1.2-33.7 1.3 1.2 1.3-3.6 1.2 47.6 1.2-19.4 1.3-49.1 1.3-2.4 1.2 30.6 1.2 1.7 1.3 29.8 1.3-42.2 1.2 20.4 1.2 27.4 1.3-25.2 1.3-35.9 1.2 5.4 1.2 14.7 1.3 8.3 1.3 24 1.2-26.4 1.2 12 1.3-.9 1.3-57.2 1.2 59.8 1.2-36.5 1.3 48.6 1.3-54.9 1.2 45.8 1.2-3.5 1.3 18.4 1.3-24.3 1.2-21 1.2 43.9 1.3-59.9 1.3 .5 1.2-14.6 1.2 30.1 1.3 24.1 1.3-8.2 1.2-10.1 1.2 23.8 1.3-35.9 1.3-13.7 1.2 52.4 1.2-39.1 1.3 27.3 1.3-17.8 1.2 43.6 1.2-23.3 1.3-12.4 1.3 1.4 1.2 24.2 1.2-23.3 1.3-19.7 1.3 18.9 1.2-27.1 1.2 41 1.3-2.4 1.3-21.2 1.2-.8 1.2-6.7 1.3 8.6 1.3 3.8 1.2 38.9 1.2-82.2 1.3 37.5 1.3 24.5 1.2-39.6 1.2 25.1 1.3-43.2 1.3 38.4 1.2-3.7 1.2 11.9 1.3-10.5 1.3-31.8 1.2 40.1 1.2 29 1.3-28.5 1.3-20.4 1.2 17.1 1.2 22.9 1.3 24.2 1.3-8 1.2-49.6 1.2-1.1 1.3 58.8 1.3-47.9 1.2-19.9 1.2 25.5 1.3-17 1.3-10.5 1.2-5.3 1.2 59.3 1.3-13.9 1.3-3.6 1.2-2.5 1.2 3.7 1.3-26.4 1.3 27.9 1.2 6.1 1.2-20.2 1.3 10.7 1.3-35 1.2-16 1.2 42.2 1.3-3.2 1.3-18.5 1.2 33.7 1.2-16 1.3 10.8 1.3-45.1 1.2 59.6 1.2-27 1.3-29.7 1.3 33.7 1.2-10.3 1.2-23.2 1.3 26.8 1.3-.1 1.2 2.9 1.2 8.7 1.3 7.3 1.3-29.9 1.2 44.1 1.2-50 1.3 8.1 1.3 4.4 1.2-3.3 1.2 9 1.3 2 1.3-18 1.2 41.9 1.2-73.9 1.3 45.4 1.3-10.3 1.2 30.6 1.2 3 1.3-14.9 1.3 12.1 1.2-10 1.2-18.4 1.3-11.1 1.3 50.4 1.2-7.1 1.2-8.1 1.3 7.1 1.3 23.5 1.2-26.4 1.2-1.3 1.3-14.8 1.3 12.2 1.2 26.3 1.2-18.1 1.3-19.2 1.3 14 1.2-11.4 1.2 34.7 1.3-44.5 1.3 42.8 1.2-20.5 1.2-6.5 1.3-17.6 1.3 10.7 1.2-12 1.2 16.5 1.3-22.4 1.3 49.3 1.2-91 1.2 68.9 1.3 10 1.3-18.2 1.2-2.5 1.2-6.5 1.3 22.7 1.3 10.9 1.2-7.6 1.2-32.2 1.3 14.2 1.3 25.5 1.2-22.2 1.2-6.5 1.3 5 1.3-15.2 1.2 26 1.2-31.6 1.3 23.8 1.3 12.9 1.2-52.6 1.2 35.1 1.3 19.7 1.3-4.6 1.2-13.6 1.2-30.5 1.3 38.5 1.3-9.2 1.2 34.2 1.2-22.7 1.3-15.3 1.3 18 1.2-6.6 1.2-16.9 1.3 35.2 1.3-30.8 1.2 14.1 1.2 6.1 1.3-8.4 1.3 10.9 1.2-17 1.2-4.3 1.3 31.2 1.3-13.7 1.2-7.5 1.2-3.5 1.3 5.9 1.3 8 1.2-1.5 1.2-9.5 1.3-3.7 1.3 3.7 1.2-11.1 1.2 9.6 1.3-6.6 1.3 21.1 1.2-4.9 1.2-17.3 1.3 4.5 1.3-6.1 1.2 26.2 1.2-17.4 1.3 10.4 1.3 12.5 1.2-28.4 1.2-5.9 1.3 30.7 1.3-18.2 1.2-5.5 1.2 13.8 1.3-10.2 1.3 14.4 1.2-18.6 1.2 19 1.3-7 1.3-27.8 1.2 22.7 1.2 18.4 1.3-.7 1.3-14.5 1.2 32.4 1.2-28.4 1.3-17.9 1.3 40.8 1.2-21.5 1.2 12.3 1.3-20.5 1.3 23 1.2-2.5 1.2-44.4 1.3 21.4 1.3 17.9 1.2 13.4 1.2-17.8 1.3-.4 1.3 12.6 1.2-19.4 1.2-7.1 1.3-2.7 1.3 21.1 1.2-1.5 1.2 12.7 1.3-15.3 1.3 16 1.2-11.5 1.2 14.2 1.3-44.3 1.3 10.1 1.2 6.3 1.2-19.1 1.3 60.1 1.3-16.2 1.2-7.5 1.2-9.7 1.3-1.4 1.3-21 1.2 17.1 1.2 15.2 1.3 9.4 1.3-17.3 1.2 7.5 1.2-14.6 1.3 4 1.3 26.2 1.2-14.5 1.2 6.2 1.3-8.6 1.3-4.7 1.2-16.1 1.2 25.8 1.3 1.9 1.3 12.8 1.2-23.4 1.2 29.3 1.3-29.5 1.3-.9 1.2-35.9 1.2 27.9 1.3 19 1.3-3.8 1.2-8.8 1.2 2.4 1.3-5.6 1.3 16.5 1.2-18.5 1.2-4.5 1.3 26 1.3-16.7 1.2-.5 1.2 2.7 1.3 13 1.3-1.8 1.2 8.2 1.2-13.2 1.3 6.2 1.3-44.2 1.2 49.8 1.2-10.2 1.3-6.2 1.3 18.1 1.2-17.1 1.2-5.7 1.3 26 1.3-16.6 1.2-22 1.2 22.2 1.3 2.5 1.3 7.5 1.2-13.8 1.2-12.3 1.3 22.1 1.3-14 1.2 1.9 1.2 8.9 1.3 6.9 1.3-23.6 1.2 16.9 1.2 24.4 1.3-28.7 1.3 1.4 1.2 8.9 1.2-9 1.3-10.5 1.3-8 1.2 18.7 1.2-4.5 1.3 16.3 1.3-1.2 1.2 1.7 1.2-32.8 1.3 11.3 1.3 8.8 1.2 12.5 1.2 2.6 1.3-3 1.3-10.4 1.2-8.3 1.2 6.2 1.3 8.8 1.3-11.3 1.2 3.2 1.2-13.1 1.3 18.3 1.3-1.9 1.2-42.3 1.2 27.1 1.3 5.8 1.3 18.6 1.2-24.7 1.2 4.7 1.3 19.8 1.3-1.8 1.2 6.1 1.2-13.8 1.3 2 1.3-4.7 1.2-11 1.2 24.2 1.3-36.4 1.3 13.7 1.2 9.9 1.2 4.8 1.3-1.3 1.3-26.9 1.2 16.1 1.2 11.2 1.3 21.2 1.3-17.3 1.2-14 1.2 16.6 1.3-4.5 1.3-20.5 1.2 12.2 1.2 6.6 1.3 24.6 1.3-12.4 1.2-19.9 1.2 3.3 1.3 18.7 1.3-26 1.2 14 1.2 1.3 1.3-30.3 1.3 27.3 1.2 .6 1.2 15.4 1.3-23.4 1.3-1.9 1.2-4.5 1.2 11.7 1.3 5.4 1.3 5.5 1.2-28 1.2 31.1 1.3-15.9 1.3-.1 1.2 13.5 1.2-16.4 1.3 .9 1.3 19.2 1.2-3.5 1.2-9.9 1.3 12.5 1.3-16.8 1.2 5.8 1.2 15.7 1.3-26 1.3 7.3 1.2-21.9 1.2 26.7 1.3-20.9 1.3 23.7 1.2-15.5 1.2 26.3 1.3-27.9 1.3-6.3 1.2 12.6 1.2-15.1 1.3 12.4 1.3 .2 1.2-22.5 1.2 24.7 1.3-1.6 1.3 10.6 1.2-12.5 1.2-43 1.3 29.4 1.3 21.8 1.2-30 1.2 31.7 1.3-14 1.3 29.2 1.2-47 1.2 30.8 1.3-16.6 1.3-43.5 1.2 56.8 1.2-10.9 1.3-8 1.3-1.1 1.2 15.6 1.2 13.3 1.3-8 1.3-8 1.2 19.8 1.2 13.7 1.3-28.4 1.3 22 1.2-11.9 1.2 14.8 1.3-21.9 1.3 1.9 1.2 8.6 1.2-.4 1.3-10.2 1.3 3.7 1.2 15.6 1.2-7 1.3 8.6 1.3-21 1.2-5.3 1.2 11.1 1.3-8.6 1.3-13.1 1.2 35.4 1.2-20.1 1.3 32.7 1.3-12.2 1.2-3.2 1.2-25.8 1.3 11.5 1.3 23.1 1.2-15.5 1.2 2.6 1.3-7.8 1.3 19.5 1.2-10.1 1.2-2 1.3 7.5 1.3 1.2 1.2-10.3 1.2-14.6 1.3 15.8 1.3-11.3 1.2 7.4 1.2 4.9 1.3 3.7 1.3-30.9 1.2 35.4 1.2-25.9 1.3 3.3 1.3 19.7 1.2-17.4 1.2 3.1 1.3 7.2 1.3-4.4 1.2-1.9 1.2-2.3 1.3 26.3 1.3-21.4 1.2 7.6 1.2-9.5 1.3 10.6 1.3-13.5 1.2 3.3 1.2-11.4 1.3-3.4 1.3 22.7 1.2-11.4 1.2 7.6 1.3-7.8 1.3 17.2 1.2-11 1.2 3.9 1.3-9.6 1.3 3.7 1.2-4.7 1.2-20.2 1.3 21.7 1.3 22.6 1.2-22 1.2 .4 1.3 4.1 1.3-2.7 1.2-15.4 1.2 12.8 1.3 8.1 1.3-5.9 1.2-9.3 1.2 16.4 1.3-29.4 1.3 27.8 1.2 10.7 1.2-3.1 1.3-5.5 1.3-8.5 1.2-.7 1.2 15.7 1.3-23.5 1.3 23.7 1.2-11.6 1.2 9.8 1.3-12.3 1.3-5.2 1.2-28.4 1.2 31.8 1.3 5 1.3-11.2 1.2 11.6 1.2-5.7 1.3-19.9 1.3 33.2 1.2-10.7 1.2-4.1 1.3 4.8 1.3 7.1 1.2 8.7 1.2 5.7 1.3-23.3 1.3 6.3 1.2 8.3 1.2-11.5 1.3-3.9 1.3-6.8 1.2 31.4 1.2-12.7 1.3-4.5 1.3 5 1.2-14.8 1.2 17.2 1.3-5.5 1.3-16.4 1.2 4.5 1.2 12.2 1.3-14.1 1.3 1.4 1.2 10.3 1.2-20.6 1.3 28.8 1.3-14.9 1.2-13.1 1.2 38.5 1.3-25.5 1.3-5.6 1.2 30.1 1.2-15.6 1.3-15.9 1.3 23.7 1.2-19.6 1.2-6.1 1.3 14.7 1.3 10.1 1.2-31.1 1.2 26.5 1.3 4.6 1.3-6.4 1.2-2.6 1.2-9.4 1.3 6.5 1.3-1.2 1.2 20.6 1.2-21.6 1.3 1 1.3 15.5 1.2-2.3 1.2-12.9 1.3-6.2 1.3 20.2 1.2-15.8 1.2-10.6 1.3 15 1.3-51.2 1.2 30.4 1.2 36 1.3-23.8 1.3 .7 1.2-3.3 1.2 6.9 1.3 1.7 1.3 .2 1.2 2.2 1.2-10.9 1.3-5.4 1.3 3.3 1.2 4.8 1.2-1.8 1.3 1.3 1.3 14 1.2-1.4 1.2-14.1 1.3 13.9 1.3-26.4 1.2 24.3 1.2-4.7 1.3 4.4 1.3 6.3 1.2-24.8 1.2 11.1 1.3 8.3 1.3-24.1 1.2-9.1 1.2 30.7 1.3 1.5 1.3-17.2 1.2 31.7 1.2-23.3 1.3 8.3 1.3 7.5 1.2-20.9 1.2 15.3 1.3 9.3 1.3-20.9 1.2 .8 1.2-5.9 1.3 13.4 1.3 0 1.2-7.1 1.2 14.4 1.3-3 1.3-3.4 1.2-.5 1.2 3.8 1.3 16.8 1.3-35.2 1.2 14 1.2-7.5 1.3-.3 1.3 2 1.2 5.1 1.2-8.6 1.3-11.4 1.3 30.4 1.2-17.9 1.2 14.5 1.3-3.3 1.3-19.1 1.2 12.6 1.2 13.3 1.3-25.6 1.3 22.8 1.2-11.4 1.2 7.7 1.3-8.6 1.3 17.9 1.2-3.8 1.2-1 1.3-9.4 1.3-4.9 1.2-2.3 1.2 6.5 1.3 10.5 1.3 11.6 1.2-30.8 1.2 14.8 1.3-3.2 1.3 2.4 1.2-12.8 1.2 6.8 1.3 6.3 1.3-21.5 1.2 27.4 1.2-1.5 1.3 .6 1.3-4.5 1.2-7 1.2 10.5 1.3-13 1.3 1.1 1.2-1 1.2 6.9 1.3 12.5 1.3-9.4 1.2-12.5 1.2 7.1 1.3-.9 1.3 3.7 1.2 1.9 1.2 15.1 1.3-26.2 1.3 22 1.2-23 1.2 21.4 1.3-18.8 1.3-5.1 1.2 10.8 1.2-2.9 1.3 3 1.3 12.3 1.2-12.5 1.2-9.1 1.3 14.7 1.3-35.5 1.2 29 1.2-.7 1.3 16.5 1.3-30.5 1.2 22.7 1.2 8.6 1.3 7.1 1.3-23.5 1.2 22.5 1.2-15.9 1.3-6 1.3 11.1 1.2-8.5 1.2 12.9 1.3-6 1.3-2.4 1.2 .9 1.2-5.4 1.3 7 1.3 6.1 1.2-13.1 1.2-1.4 1.3 8.8 1.3-22.2 1.2 14.6 1.2-.9 1.3-1.3 1.3 7.4 1.2-6.1 1.2 .1 1.3-5.3 1.3 13.7 1.2-4.3 1.2 3.5 1.3-7.3 1.3-12.4 1.2 22.8 1.2-16.8 1.3 6.6 1.3 7.5 1.2-12.8 1.2 20.1 1.3-19.9 1.3 23.3 1.2-15.1 1.2-7.7 1.3 21.2 1.3-6.9 1.2 8.9 1.2-31.5 1.3 12.6 1.3 .2 1.2 4.4 1.2 8.2 1.3-7 1.3-11.7 1.2 6.2 1.2-4.6 1.3 .6 1.3 17 1.2-1.3 1.2-10.5 1.3-6.3 1.3 9.3 1.2-6.9 1.2 10.8 1.3-21.8 1.3 .5 1.2 25 1.2-11.6 1.3 4 1.3 2.8 1.2-8.9 1.2 6.2 1.3 4.3 1.3-.8 1.2-6.4 1.2-7 1.3 10.3 1.3 3.2 1.2-5.6 1.2-3 1.3 7.1 1.3 2.2 1.2-.4 1.2-12.5 1.3 7.3 1.3-1.2 1.2-5.1 1.2-2.2 1.3 17.5 1.3-1.5 1.2-31.6 1.2 21.6 1.3 4.9 1.3 2.8 1.2-1.3 1.2-7.4 1.3 11.3 1.3-11.9 1.2-7.2 1.2-2.9 1.3 .5 1.3 16.2 1.2-9.3"/>
</g>
<g fill="#000" shape-rendering="crispEdges">
<rect x="306" y="410" width="1987" height="1"/>
<rect x="306" y="790" width="1987" height="1"/>
<rect x="306" y="1170" width="1987" height="1"/>
<rect x="306" y="1550" width="1987" height="1"/>
<rect x="306" y="1930" width="1987" height="1"/>
<rect x="298" y="29" width="8" height="2291"/>
<rect x="2293" y="29" width="8" height="2291"/>
<rect x="298" y="29" width="2003" height="6"/>
<rect x="298" y="2313" width="2003" height="7"/>
<rect x="306" y="76" width="15" height="6.5"/>
<rect x="2277" y="76" width="16" height="6.5"/>
<rect x="306" y="124" width="34" height="6.5"/>
<rect x="2258" y="124" width="35" height="6.5"/>
<rect x="306" y="172" width="15" height="6.5"/>
<rect x="2277" y="172" width="16" height="6.5"/>
<rect x="306" y="219" width="34" height="6.5"/>
<rect x="2258" y="219" width="35" height="6.5"/>
<rect x="306" y="267" width="15" height="6.5"/>
<rect x="2277" y="267" width="16" height="6.5"/>
<rect x="306" y="314" width="34" height="6.5"/>
<rect x="2258" y="314" width="35" height="6.5"/>
<rect x="306" y="362" width="15" height="6.5"/>
<rect x="2277" y="362" width="16" height="6.5"/>
<rect x="306" y="410" width="34" height="6.5"/>
<rect x="2258" y="410" width="35" height="6.5"/>
<rect x="306" y="457" width="15" height="6.5"/>
<rect x="2277" y="457" width="16" height="6.5"/>
<rect x="306" y="505" width="34" height="6.5"/>
<rect x="2258" y="505" width="35" height="6.5"/>
<rect x="306" y="552" width="15" height="6.5"/>
<rect x="2277" y="552" width="16" height="6.5"/>
<rect x="306" y="600" width="34" height="6.5"/>
<rect x="2258" y="600" width="35" height="6.5"/>
<rect x="306" y="648" width="15" height="6.5"/>
<rect x="2277" y="648" width="16" height="6.5"/>
<rect x="306" y="695" width="34" height="6.5"/>
<rect x="2258" y="695" width="35" height="6.5"/>
<rect x="306" y="743" width="15" height="6.5"/>
<rect x="2277" y="743" width="16" height="6.5"/>
<rect x="306" y="790" width="34" height="6.5"/>
<rect x="2258" y="790" width="35" height="6.5"/>
<rect x="306" y="838" width="15" height="6.5"/>
<rect x="2277" y="838" width="16" height="6.5"/>
<rect x="306" y="885" width="34" height="6.5"/>
<rect x="2258" y="885" width="35" height="6.5"/>
<rect x="306" y="933" width="15" height="6.5"/>
<rect x="2277" y="933" width="16" height="6.5"/>
<rect x="306" y="981" width="34" height="6.5"/>
<rect x="2258" y="981" width="35" height="6.5"/>
<rect x="306" y="1028" width="15" height="6.5"/>
<rect x="2277" y="1028" width="16" height="6.5"/>
<rect x="306" y="1076" width="34" height="6.5"/>
<rect x="2258" y="1076" width="35" height="6.5"/>
<rect x="306" y="1123" width="15" height="6.5"/>
<rect x="2277" y="1123" width="16" height="6.5"/>
<rect x="306" y="1171" width="34" height="6.5"/>
<rect x="2258" y="1171" width="35" height="6.5"/>
<rect x="306" y="1219" width="15" height="6.5"/>
<rect x="2277" y="1219" width="16" height="6.5"/>
<rect x="306" y="1266" width="34" height="6.5"/>
<rect x="2258" y="1266" width="35" height="6.5"/>
<rect x="306" y="1314" width="15" height="6.5"/>
<rect x="2277" y="1314" width="16" height="6.5"/>
<rect x="306" y="1361" width="34" height="6.5"/>
<rect x="2258" y="1361" width="35" height="6.5"/>
<rect x="306" y="1409" width="15" height="6.5"/>
<rect x="2277" y="1409" width="16" height="6.5"/>
<rect x="306" y="1457" width="34" height="6.5"/>
<rect x="2258" y="1457" width="35" height="6.5"/>
<rect x="306" y="1504" width="15" height="6.5"/>
<rect x="2277" y="1504" width="16" height="6.5"/>
<rect x="306" y="1552" width="34" height="6.5"/>
<rect x="2258" y="1552" width="35" height="6.5"/>
<rect x="306" y="1599" width="15" height="6.5"/>
<rect x="2277" y="1599" width="16" height="6.5"/>
<rect x="306" y="1647" width="34" height="6.5"/>
<rect x="2258" y="1647" width="35" height="6.5"/>
<rect x="306" y="1695" width="15" height="6.5"/>
<rect x="2277" y="1695" width="16" height="6.5"/>
<rect x="306" y="1742" width="34" height="6.5"/>
<rect x="2258" y="1742" width="35" height="6.5"/>
<rect x="306" y="1790" width="15" height="6.5"/>
<rect x="2277" y="1790" width="16" height="6.5"/>
<rect x="306" y="1837" width="34" height="6.5"/>
<rect x="2258" y="1837" width="35" height="6.5"/>
<rect x="306" y="1885" width="15" height="6.5"/>
<rect x="2277" y="1885" width="16" height="6.5"/>
<rect x="306" y="1933" width="34" height="6.5"/>
<rect x="2258" y="1933" width="35" height="6.5"/>
<rect x="306" y="1980" width="15" height="6.5"/>
<rect x="2277" y="1980" width="16" height="6.5"/>
<rect x="306" y="2028" width="34" height="6.5"/>
<rect x="2258" y="2028" width="35" height="6.5"/>
<rect x="306" y="2075" width="15" height="6.5"/>
<rect x="2277" y="2075" width="16" height="6.5"/>
<rect x="306" y="2123" width="34" height="6.5"/>
<rect x="2258" y="2123" width="35" height="6.5"/>
<rect x="306" y="2171" width="15" height="6.5"/>
<rect x="2277" y="2171" width="16" height="6.5"/>
<rect x="306" y="2218" width="34" height="6.5"/>
<rect x="2258" y="2218" width="35" height="6.5"/>
<rect x="306" y="2266" width="15" height="6.5"/>
<rect x="2277" y="2266" width="16" height="6.5"/>
<rect x="451" y="35" width="9" height="27"/>
<rect x="451" y="384" width="9" height="26"/>
<rect x="451" y="764" width="9" height="26"/>
<rect x="451" y="1144" width="9" height="26"/>
<rect x="451" y="1524" width="9" height="26"/>
<rect x="451" y="1904" width="9" height="26"/>
<rect x="451" y="2287" width="9" height="26"/>
<rect x="604" y="35" width="9" height="12"/>
<rect x="604" y="398" width="9" height="12"/>
<rect x="604" y="778" width="9" height="12"/>
<rect x="604" y="1158" width="9" height="12"/>
<rect x="604" y="1538" width="9" height="12"/>
<rect x="604" y="1918" width="9" height="12"/>
<rect x="604" y="2301" width="9" height="12"/>
<rect x="758" y="35" width="9" height="27"/>
<rect x="758" y="384" width="9" height="26"/>
<rect x="758" y="764" width="9" height="26"/>
<rect x="758" y="1144" width="9" height="26"/>
<rect x="758" y="1524" width="9" height="26"/>
<rect x="758" y="1904" width="9" height="26"/>
<rect x="758" y="2287" width="9" height="26"/>
<rect x="911" y="35" width="9" height="12"/>
<rect x="911" y="398" width="9" height="12"/>
<rect x="911" y="778" width="9" height="12"/>
<rect x="911" y="1158" width="9" height="12"/>
<rect x="911" y="1538" width="9" height="12"/>
<rect x="911" y="1918" width="9" height="12"/>
<rect x="911" y="2301" width="9" height="12"/>
<rect x="1065" y="35" width="9" height="27"/>
<rect x="1065" y="384" width="9" height="26"/>
<rect x="1065" y="764" width="9" height="26"/>
<rect x="1065" y="1144" width="9" height="26"/>
<rect x="1065" y="1524" width="9" height="26"/>
<rect x="1065" y="1904" width="9" height="26"/>
<rect x="1065" y="2287" width="9" height="26"/>
<rect x="1218" y="35" width="9" height="12"/>
<rect x="1218" y="398" width="9" height="12"/>
<rect x="1218" y="778" width="9" height="12"/>
<rect x="1218" y="1158" width="9" height="12"/>
<rect x="1218" y="1538" width="9" height="12"/>
<rect x="1218" y="1918" width="9" height="12"/>
<rect x="1218" y="2301" width="9" height="12"/>
<rect x="1372" y="35" width="9" height="27"/>
<rect x="1372" y="384" width="9" height="26"/>
<rect x="1372" y="764" width="9" height="26"/>
<rect x="1372" y="1144" width="9" height="26"/>
<rect x="1372" y="1524" width="9" height="26"/>
<rect x="1372" y="1904" width="9" height="26"/>
<rect x="1372" y="2287" width="9" height="26"/>
<rect x="1525" y="35" width="9" height="12"/>
<rect x="1525" y="398" width="9" height="12"/>
<rect x="1525" y="778" width="9" height="12"/>
<rect x="1525" y="1158" width="9" height="12"/>
<rect x="1525" y="1538" width="9" height="12"/>
<rect x="1525" y="1918" width="9" height="12"/>
<rect x="1525" y="2301" width="9" height="12"/>
<rect x="1679" y="35" width="9" height="27"/>
<rect x="1679" y="384" width="9" height="26"/>
<rect x="1679" y="764" width="9" height="26"/>
<rect x="1679" y="1144" width="9" height="26"/>
<rect x="1679" y="1524" width="9" height="26"/>
<rect x="1679" y="1904" width="9" height="26"/>
<rect x="1679" y="2287" width="9" height="26"/>
<rect x="1832" y="35" width="9" height="12"/>
<rect x="1832" y="398" width="9" height="12"/>
<rect x="1832" y="778" width="9" height="12"/>
<rect x="1832" y="1158" width="9" height="12"/>
<rect x="1832" y="1538" width="9" height="12"/>
<rect x="1832" y="1918" width="9" height="12"/>
<rect x="1832" y="2301" width="9" height="12"/>
<rect x="1986" y="35" width="9" height="27"/>
<rect x="1986" y="384" width="9" height="26"/>
<rect x="1986" y="764" width="9" height="26"/>
<rect x="1986" y="1144" width="9" height="26"/>
<rect x="1986" y="1524" width="9" height="26"/>
<rect x="1986" y="1904" width="9" height="26"/>
<rect x="1986" y="2287" width="9" height="26"/>
<rect x="2139" y="35" width="9" height="12"/>
<rect x="2139" y="398" width="9" height="12"/>
<rect x="2139" y="778" width="9" height="12"/>
<rect x="2139" y="1158" width="9" height="12"/>
<rect x="2139" y="1538" width="9" height="12"/>
<rect x="2139" y="1918" width="9" height="12"/>
<rect x="2139" y="2301" width="9" height="12"/>
</g>
<text transform="translate(455.5,2407.8) scale(1.307,1)" text-anchor="middle" font-size="77.8">10</text>
<text transform="translate(762.4,2407.8) scale(1.307,1)" text-anchor="middle" font-size="77.8">20</text>
<text transform="translate(1069.3,2407.8) scale(1.307,1)" text-anchor="middle" font-size="77.8">30</text>
<text transform="translate(1376.2,2407.8) scale(1.307,1)" text-anchor="middle" font-size="77.8">40</text>
<text transform="translate(1683.1,2407.8) scale(1.307,1)" text-anchor="middle" font-size="77.8">50</text>
<text transform="translate(1990.1,2407.8) scale(1.307,1)" text-anchor="middle" font-size="77.8">60</text>
<text transform="translate(2297.0,2407.8) scale(1.307,1)" text-anchor="middle" font-size="77.8">70</text>
<text transform="translate(1068.8,2552.8) scale(1.288,1)" font-size="92.6">2Theta<tspan dx="3.6" dy="-32">o</tspan></text>
<text transform="translate(98.1,1495.5) rotate(-90) scale(1.2432,1)" font-size="92.5" x="0.0 20.2 64.7 88.9 129.4 173.9 214.4 234.6 258.8 299.3 319.5 339.8 364.0 404.5 424.7 469.2" y="0">Intensity, (a.u)</text>
<text transform="translate(1859.5,134.1) scale(1.2895,1)" font-size="58.1">PB Nd<tspan dy="-26.5">+3</tspan><tspan dy="26.5">-</tspan><tspan dx="-1.5">0</tspan></text>
<text transform="translate(1853.6,495.9) scale(1.2895,1)" font-size="58.1">PB Nd<tspan dy="-26.5">+3</tspan><tspan dy="26.5">-</tspan><tspan dx="0">1</tspan></text>
<text transform="translate(1854.8,881.4) scale(1.2895,1)" font-size="58.1">PB Nd<tspan dy="-26.5">+3</tspan><tspan dy="26.5">-</tspan><tspan dx="3.0">2</tspan></text>
<text transform="translate(1855.0,1265.2) scale(1.2895,1)" font-size="58.1">PB Nd<tspan dy="-26.5">+3</tspan><tspan dy="26.5">-</tspan><tspan dx="3.0">3</tspan></text>
<text transform="translate(1853.6,1648.9) scale(1.2895,1)" font-size="58.1">PB Nd<tspan dy="-26.5">+3</tspan><tspan dy="26.5">-</tspan><tspan dx="3.0">4</tspan></text>
<text transform="translate(1855.0,2028.2) scale(1.2895,1)" font-size="58.1">PB Nd<tspan dy="-26.5">+3</tspan><tspan dy="26.5">-</tspan><tspan dx="3.0">5</tspan></text>
</svg></body></html>
